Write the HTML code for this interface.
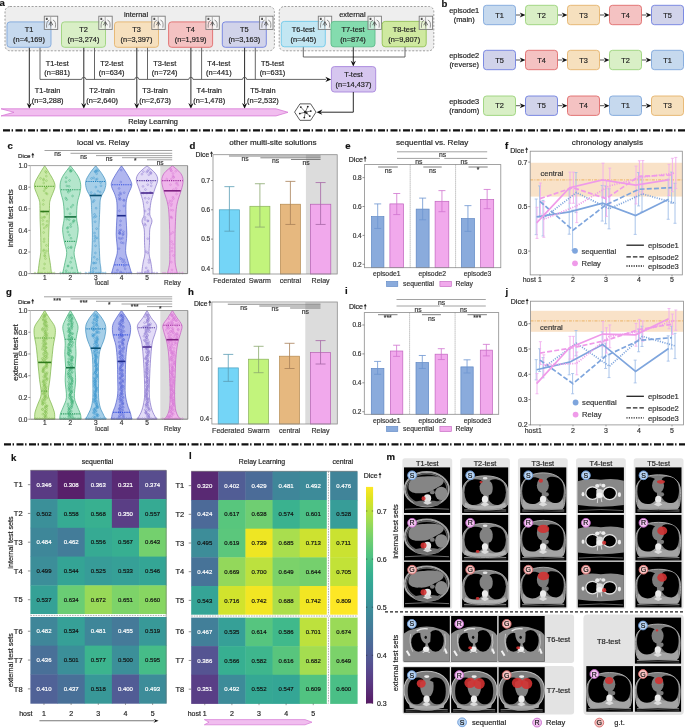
<!DOCTYPE html>
<html><head><meta charset="utf-8"><style>
html,body{margin:0;padding:0;background:#fff;width:685px;height:728px;overflow:hidden}
svg{display:block;will-change:transform}
text{font-family:"Liberation Sans", sans-serif;stroke:currentColor;stroke-width:0.18px;paint-order:stroke}
</style></head><body>
<svg width="685" height="728" viewBox="0 0 685 728" font-family='"Liberation Sans", sans-serif'>
<rect width="685" height="728" fill="#fff"/>
<text x="-0.6" y="6.1" font-size="9.6" font-weight="bold" fill="#111" color="#111">a</text>
<rect x="5.00" y="6.50" width="269.40" height="44.30" rx="5" fill="#eeeeee" stroke="#8a8a8a" stroke-width="0.8" stroke-dasharray="2,1.6"/>
<rect x="279.20" y="6.50" width="154.60" height="44.30" rx="5" fill="#eeeeee" stroke="#8a8a8a" stroke-width="0.8" stroke-dasharray="2,1.6"/>
<text x="136.00" y="17.06" font-size="7.4" text-anchor="middle" fill="#222" color="#222" font-weight="normal" >internal</text>
<text x="352.40" y="16.86" font-size="7.4" text-anchor="middle" fill="#222" color="#222" font-weight="normal" >external</text>
<line x1="29.30" y1="47.30" x2="29.30" y2="104.00" stroke="#111" stroke-width="0.9" />
<path d="M29.30,108.80 L26.70,103.00 L29.30,104.74 L31.90,103.00Z" fill="#111" stroke="none" stroke-width="0.8" />
<line x1="40.00" y1="47.30" x2="40.00" y2="79.40" stroke="#555" stroke-width="0.9" />
<text x="57.20" y="66.26" font-size="7.4" text-anchor="middle" fill="#222" color="#222" font-weight="normal" >T1-test</text>
<text x="57.20" y="75.36" font-size="7.4" text-anchor="middle" fill="#222" color="#222" font-weight="normal" >(n=881)</text>
<text x="47.60" y="93.46" font-size="7.4" text-anchor="middle" fill="#222" color="#222" font-weight="normal" >T1-train</text>
<text x="47.60" y="102.66" font-size="7.4" text-anchor="middle" fill="#222" color="#222" font-weight="normal" >(n=3,288)</text>
<line x1="83.80" y1="47.30" x2="83.80" y2="104.00" stroke="#111" stroke-width="0.9" />
<path d="M83.80,108.80 L81.20,103.00 L83.80,104.74 L86.40,103.00Z" fill="#111" stroke="none" stroke-width="0.8" />
<line x1="94.50" y1="47.30" x2="94.50" y2="79.40" stroke="#555" stroke-width="0.9" />
<text x="111.70" y="66.26" font-size="7.4" text-anchor="middle" fill="#222" color="#222" font-weight="normal" >T2-test</text>
<text x="111.70" y="75.36" font-size="7.4" text-anchor="middle" fill="#222" color="#222" font-weight="normal" >(n=634)</text>
<text x="102.10" y="93.46" font-size="7.4" text-anchor="middle" fill="#222" color="#222" font-weight="normal" >T2-train</text>
<text x="102.10" y="102.66" font-size="7.4" text-anchor="middle" fill="#222" color="#222" font-weight="normal" >(n=2,640)</text>
<line x1="136.80" y1="47.30" x2="136.80" y2="104.00" stroke="#111" stroke-width="0.9" />
<path d="M136.80,108.80 L134.20,103.00 L136.80,104.74 L139.40,103.00Z" fill="#111" stroke="none" stroke-width="0.8" />
<line x1="147.50" y1="47.30" x2="147.50" y2="79.40" stroke="#555" stroke-width="0.9" />
<text x="164.70" y="66.26" font-size="7.4" text-anchor="middle" fill="#222" color="#222" font-weight="normal" >T3-test</text>
<text x="164.70" y="75.36" font-size="7.4" text-anchor="middle" fill="#222" color="#222" font-weight="normal" >(n=724)</text>
<text x="155.10" y="93.46" font-size="7.4" text-anchor="middle" fill="#222" color="#222" font-weight="normal" >T3-train</text>
<text x="155.10" y="102.66" font-size="7.4" text-anchor="middle" fill="#222" color="#222" font-weight="normal" >(n=2,673)</text>
<line x1="190.90" y1="47.30" x2="190.90" y2="104.00" stroke="#111" stroke-width="0.9" />
<path d="M190.90,108.80 L188.30,103.00 L190.90,104.74 L193.50,103.00Z" fill="#111" stroke="none" stroke-width="0.8" />
<line x1="201.60" y1="47.30" x2="201.60" y2="79.40" stroke="#555" stroke-width="0.9" />
<text x="218.80" y="66.26" font-size="7.4" text-anchor="middle" fill="#222" color="#222" font-weight="normal" >T4-test</text>
<text x="218.80" y="75.36" font-size="7.4" text-anchor="middle" fill="#222" color="#222" font-weight="normal" >(n=441)</text>
<text x="209.20" y="93.46" font-size="7.4" text-anchor="middle" fill="#222" color="#222" font-weight="normal" >T4-train</text>
<text x="209.20" y="102.66" font-size="7.4" text-anchor="middle" fill="#222" color="#222" font-weight="normal" >(n=1,478)</text>
<line x1="244.60" y1="47.30" x2="244.60" y2="104.00" stroke="#111" stroke-width="0.9" />
<path d="M244.60,108.80 L242.00,103.00 L244.60,104.74 L247.20,103.00Z" fill="#111" stroke="none" stroke-width="0.8" />
<line x1="255.30" y1="47.30" x2="255.30" y2="79.40" stroke="#555" stroke-width="0.9" />
<text x="272.50" y="66.26" font-size="7.4" text-anchor="middle" fill="#222" color="#222" font-weight="normal" >T5-test</text>
<text x="272.50" y="75.36" font-size="7.4" text-anchor="middle" fill="#222" color="#222" font-weight="normal" >(n=631)</text>
<text x="262.90" y="93.46" font-size="7.4" text-anchor="middle" fill="#222" color="#222" font-weight="normal" >T5-train</text>
<text x="262.90" y="102.66" font-size="7.4" text-anchor="middle" fill="#222" color="#222" font-weight="normal" >(n=2,532)</text>
<path d="M40.00,79.4 L81.70,79.4 A2.1,2.1 0 0 1 85.90,79.4 L134.70,79.4 A2.1,2.1 0 0 1 138.90,79.4 L188.80,79.4 A2.1,2.1 0 0 1 193.00,79.4 L242.50,79.4 A2.1,2.1 0 0 1 246.70,79.4 L326,79.4" fill="none" stroke="#555" stroke-width="0.9" />
<path d="M331.20,79.40 L325.40,76.80 L327.14,79.40 L325.40,82.00Z" fill="#111" stroke="none" stroke-width="0.8" />
<rect x="7.00" y="21.90" width="44.00" height="25.40" rx="3" fill="#c6d9ee" stroke="#7fa7db" stroke-width="0.9" />
<text x="29.00" y="32.44" font-size="7.4" text-anchor="middle" fill="#222" color="#222" font-weight="normal" >T1</text>
<text x="29.00" y="42.09" font-size="7.4" text-anchor="middle" fill="#222" color="#222" font-weight="normal" >(n=4,169)</text>
<rect x="44.30" y="16.20" width="13.40" height="13.20" rx="0" fill="rgba(255,255,255,0.55)" stroke="#7a7a7a" stroke-width="0.9" />
<line x1="50.70" y1="16.80" x2="50.70" y2="28.80" stroke="#8a8a8a" stroke-width="0.7" />
<rect x="45.90" y="17.80" width="1.80" height="2.20" rx="0" fill="#555" stroke="none" stroke-width="0.8" />
<path d="M46.599999999999994,27.7 Q46.099999999999994,21.2 49.3,20.2 M55.3,27.7 Q56.5,21.2 52.9,20.0" fill="none" stroke="#666" stroke-width="0.7" />
<path d="M48.8,25.2 L50.9,21.7 L52.9,25.2 M50.9,21.7 L50.9,26.2" fill="none" stroke="#444" stroke-width="0.7" />
<rect x="61.50" y="21.90" width="44.00" height="25.40" rx="3" fill="#d9efc6" stroke="#9bd27a" stroke-width="0.9" />
<text x="83.50" y="32.44" font-size="7.4" text-anchor="middle" fill="#222" color="#222" font-weight="normal" >T2</text>
<text x="83.50" y="42.09" font-size="7.4" text-anchor="middle" fill="#222" color="#222" font-weight="normal" >(n=3,274)</text>
<rect x="98.80" y="16.20" width="13.40" height="13.20" rx="0" fill="rgba(255,255,255,0.55)" stroke="#7a7a7a" stroke-width="0.9" />
<line x1="105.20" y1="16.80" x2="105.20" y2="28.80" stroke="#8a8a8a" stroke-width="0.7" />
<rect x="100.40" y="17.80" width="1.80" height="2.20" rx="0" fill="#555" stroke="none" stroke-width="0.8" />
<path d="M101.1,27.7 Q100.6,21.2 103.8,20.2 M109.8,27.7 Q111.0,21.2 107.39999999999999,20.0" fill="none" stroke="#666" stroke-width="0.7" />
<path d="M103.3,25.2 L105.39999999999999,21.7 L107.39999999999999,25.2 M105.39999999999999,21.7 L105.39999999999999,26.2" fill="none" stroke="#444" stroke-width="0.7" />
<rect x="114.50" y="21.90" width="44.00" height="25.40" rx="3" fill="#f6e0be" stroke="#e5b36c" stroke-width="0.9" />
<text x="136.50" y="32.44" font-size="7.4" text-anchor="middle" fill="#222" color="#222" font-weight="normal" >T3</text>
<text x="136.50" y="42.09" font-size="7.4" text-anchor="middle" fill="#222" color="#222" font-weight="normal" >(n=3,397)</text>
<rect x="151.80" y="16.20" width="13.40" height="13.20" rx="0" fill="rgba(255,255,255,0.55)" stroke="#7a7a7a" stroke-width="0.9" />
<line x1="158.20" y1="16.80" x2="158.20" y2="28.80" stroke="#8a8a8a" stroke-width="0.7" />
<rect x="153.40" y="17.80" width="1.80" height="2.20" rx="0" fill="#555" stroke="none" stroke-width="0.8" />
<path d="M154.10000000000002,27.7 Q153.60000000000002,21.2 156.8,20.2 M162.8,27.7 Q164.0,21.2 160.4,20.0" fill="none" stroke="#666" stroke-width="0.7" />
<path d="M156.3,25.2 L158.4,21.7 L160.4,25.2 M158.4,21.7 L158.4,26.2" fill="none" stroke="#444" stroke-width="0.7" />
<rect x="168.60" y="21.90" width="44.00" height="25.40" rx="3" fill="#f4c2c2" stroke="#e06b6b" stroke-width="0.9" />
<text x="190.60" y="32.44" font-size="7.4" text-anchor="middle" fill="#222" color="#222" font-weight="normal" >T4</text>
<text x="190.60" y="42.09" font-size="7.4" text-anchor="middle" fill="#222" color="#222" font-weight="normal" >(n=1,919)</text>
<rect x="205.90" y="16.20" width="13.40" height="13.20" rx="0" fill="rgba(255,255,255,0.55)" stroke="#7a7a7a" stroke-width="0.9" />
<line x1="212.30" y1="16.80" x2="212.30" y2="28.80" stroke="#8a8a8a" stroke-width="0.7" />
<rect x="207.50" y="17.80" width="1.80" height="2.20" rx="0" fill="#555" stroke="none" stroke-width="0.8" />
<path d="M208.2,27.7 Q207.7,21.2 210.89999999999998,20.2 M216.89999999999998,27.7 Q218.09999999999997,21.2 214.49999999999997,20.0" fill="none" stroke="#666" stroke-width="0.7" />
<path d="M210.39999999999998,25.2 L212.49999999999997,21.7 L214.49999999999997,25.2 M212.49999999999997,21.7 L212.49999999999997,26.2" fill="none" stroke="#444" stroke-width="0.7" />
<rect x="222.30" y="21.90" width="44.00" height="25.40" rx="3" fill="#d1d3ea" stroke="#6f7fe0" stroke-width="0.9" />
<text x="244.30" y="32.44" font-size="7.4" text-anchor="middle" fill="#222" color="#222" font-weight="normal" >T5</text>
<text x="244.30" y="42.09" font-size="7.4" text-anchor="middle" fill="#222" color="#222" font-weight="normal" >(n=3,163)</text>
<rect x="259.60" y="16.20" width="13.40" height="13.20" rx="0" fill="rgba(255,255,255,0.55)" stroke="#7a7a7a" stroke-width="0.9" />
<line x1="266.00" y1="16.80" x2="266.00" y2="28.80" stroke="#8a8a8a" stroke-width="0.7" />
<rect x="261.20" y="17.80" width="1.80" height="2.20" rx="0" fill="#555" stroke="none" stroke-width="0.8" />
<path d="M261.90000000000003,27.7 Q261.40000000000003,21.2 264.6,20.2 M270.6,27.7 Q271.8,21.2 268.20000000000005,20.0" fill="none" stroke="#666" stroke-width="0.7" />
<path d="M264.1,25.2 L266.20000000000005,21.7 L268.20000000000005,25.2 M266.20000000000005,21.7 L266.20000000000005,26.2" fill="none" stroke="#444" stroke-width="0.7" />
<line x1="303.30" y1="46.40" x2="303.30" y2="57.00" stroke="#555" stroke-width="0.9" />
<line x1="405.00" y1="46.40" x2="405.00" y2="57.00" stroke="#555" stroke-width="0.9" />
<line x1="303.30" y1="57.00" x2="405.00" y2="57.00" stroke="#555" stroke-width="0.9" />
<line x1="353.30" y1="46.40" x2="353.30" y2="62.00" stroke="#111" stroke-width="0.9" />
<path d="M353.30,66.60 L350.70,60.80 L353.30,62.54 L355.90,60.80Z" fill="#111" stroke="none" stroke-width="0.8" />
<rect x="281.30" y="21.40" width="44.00" height="25.40" rx="3" fill="#c2e6f2" stroke="#6ec9ea" stroke-width="0.9" />
<text x="303.30" y="31.94" font-size="7.4" text-anchor="middle" fill="#222" color="#222" font-weight="normal" >T6-test</text>
<text x="303.30" y="41.59" font-size="7.4" text-anchor="middle" fill="#222" color="#222" font-weight="normal" >(n=445)</text>
<rect x="318.30" y="16.20" width="13.40" height="13.20" rx="0" fill="rgba(255,255,255,0.55)" stroke="#7a7a7a" stroke-width="0.9" />
<line x1="324.70" y1="16.80" x2="324.70" y2="28.80" stroke="#8a8a8a" stroke-width="0.7" />
<rect x="319.90" y="17.80" width="1.80" height="2.20" rx="0" fill="#555" stroke="none" stroke-width="0.8" />
<path d="M320.6,27.7 Q320.1,21.2 323.3,20.2 M329.3,27.7 Q330.5,21.2 326.90000000000003,20.0" fill="none" stroke="#666" stroke-width="0.7" />
<path d="M322.8,25.2 L324.90000000000003,21.7 L326.90000000000003,25.2 M324.90000000000003,21.7 L324.90000000000003,26.2" fill="none" stroke="#444" stroke-width="0.7" />
<rect x="331.00" y="21.40" width="44.00" height="25.40" rx="3" fill="#84dcae" stroke="#5dbb8b" stroke-width="0.9" />
<text x="353.00" y="31.94" font-size="7.4" text-anchor="middle" fill="#222" color="#222" font-weight="normal" >T7-test</text>
<text x="353.00" y="41.59" font-size="7.4" text-anchor="middle" fill="#222" color="#222" font-weight="normal" >(n=874)</text>
<rect x="368.00" y="16.20" width="13.40" height="13.20" rx="0" fill="rgba(255,255,255,0.55)" stroke="#7a7a7a" stroke-width="0.9" />
<line x1="374.40" y1="16.80" x2="374.40" y2="28.80" stroke="#8a8a8a" stroke-width="0.7" />
<rect x="369.60" y="17.80" width="1.80" height="2.20" rx="0" fill="#555" stroke="none" stroke-width="0.8" />
<path d="M370.3,27.7 Q369.8,21.2 373,20.2 M379,27.7 Q380.2,21.2 376.6,20.0" fill="none" stroke="#666" stroke-width="0.7" />
<path d="M372.5,25.2 L374.6,21.7 L376.6,25.2 M374.6,21.7 L374.6,26.2" fill="none" stroke="#444" stroke-width="0.7" />
<rect x="382.20" y="21.40" width="44.00" height="25.40" rx="3" fill="#cfe9a0" stroke="#92c254" stroke-width="0.9" />
<text x="404.20" y="31.94" font-size="7.4" text-anchor="middle" fill="#222" color="#222" font-weight="normal" >T8-test</text>
<text x="404.20" y="41.59" font-size="7.4" text-anchor="middle" fill="#222" color="#222" font-weight="normal" >(n=9,807)</text>
<rect x="419.20" y="16.20" width="13.40" height="13.20" rx="0" fill="rgba(255,255,255,0.55)" stroke="#7a7a7a" stroke-width="0.9" />
<line x1="425.60" y1="16.80" x2="425.60" y2="28.80" stroke="#8a8a8a" stroke-width="0.7" />
<rect x="420.80" y="17.80" width="1.80" height="2.20" rx="0" fill="#555" stroke="none" stroke-width="0.8" />
<path d="M421.5,27.7 Q421.0,21.2 424.2,20.2 M430.2,27.7 Q431.4,21.2 427.8,20.0" fill="none" stroke="#666" stroke-width="0.7" />
<path d="M423.7,25.2 L425.8,21.7 L427.8,25.2 M425.8,21.7 L425.8,26.2" fill="none" stroke="#444" stroke-width="0.7" />
<rect x="331.40" y="66.60" width="44.30" height="25.40" rx="3" fill="#d6c6ef" stroke="#a886dc" stroke-width="0.9" />
<text x="353.55" y="77.14" font-size="7.4" text-anchor="middle" fill="#222" color="#222" font-weight="normal" >T-test</text>
<text x="353.55" y="86.79" font-size="7.4" text-anchor="middle" fill="#222" color="#222" font-weight="normal" >(n=14,437)</text>
<path d="M353.3,92 L353.3,112.2 L321,112.2" fill="none" stroke="#111" stroke-width="0.9" />
<path d="M316.50,112.20 L322.30,109.60 L320.56,112.20 L322.30,114.80Z" fill="#111" stroke="none" stroke-width="0.8" />
<path d="M1,108.8 L276,108.8 L288,112.3 L276,115.9 L1,115.9 L14,112.3 Z" fill="#f1bdef" stroke="#d77ad6" stroke-width="0.8" />
<text x="153.00" y="123.56" font-size="7.4" text-anchor="middle" fill="#222" color="#222" font-weight="normal" >Relay Learning</text>
<path d="M316.00,112.10 L310.65,120.33 L299.95,120.33 L294.60,112.10 L299.95,103.87 L310.65,103.87Z" fill="#fff" stroke="#333" stroke-width="0.8" />
<line x1="305.30" y1="112.10" x2="300.80" y2="107.10" stroke="#222" stroke-width="0.6" />
<circle cx="300.80" cy="107.10" r="0.9" fill="#222"/>
<line x1="305.30" y1="112.10" x2="307.80" y2="106.60" stroke="#222" stroke-width="0.6" />
<circle cx="307.80" cy="106.60" r="0.9" fill="#222"/>
<line x1="305.30" y1="112.10" x2="310.80" y2="111.10" stroke="#222" stroke-width="0.6" />
<circle cx="310.80" cy="111.10" r="0.9" fill="#222"/>
<line x1="305.30" y1="112.10" x2="309.80" y2="116.10" stroke="#222" stroke-width="0.6" />
<circle cx="309.80" cy="116.10" r="0.9" fill="#222"/>
<line x1="305.30" y1="112.10" x2="304.30" y2="117.60" stroke="#222" stroke-width="0.6" />
<circle cx="304.30" cy="117.60" r="0.9" fill="#222"/>
<line x1="305.30" y1="112.10" x2="299.80" y2="113.60" stroke="#222" stroke-width="0.6" />
<circle cx="299.80" cy="113.60" r="0.9" fill="#222"/>
<line x1="305.30" y1="112.10" x2="306.80" y2="113.10" stroke="#222" stroke-width="0.6" />
<circle cx="306.80" cy="113.10" r="0.9" fill="#222"/>
<circle cx="305.30" cy="112.10" r="1.3" fill="#222"/>
<text x="441.5" y="7.2" font-size="9.6" font-weight="bold" fill="#111" color="#111">b</text>
<text x="464.20" y="12.96" font-size="7.4" text-anchor="middle" fill="#222" color="#222" font-weight="normal" >episode1</text>
<text x="464.20" y="21.96" font-size="7.4" text-anchor="middle" fill="#222" color="#222" font-weight="normal" >(main)</text>
<line x1="515.50" y1="15.00" x2="520.50" y2="15.00" stroke="#555" stroke-width="1.0" />
<path d="M525.50,15.00 L519.70,12.50 L521.44,15.00 L519.70,17.50Z" fill="#111" stroke="none" stroke-width="0.8" />
<rect x="483.50" y="5.30" width="32.00" height="19.40" rx="3" fill="#c6d9ee" stroke="#7fa7db" stroke-width="0.9" />
<text x="499.50" y="17.66" font-size="7.4" text-anchor="middle" fill="#222" color="#222" font-weight="normal" >T1</text>
<line x1="557.50" y1="15.00" x2="562.50" y2="15.00" stroke="#555" stroke-width="1.0" />
<path d="M567.50,15.00 L561.70,12.50 L563.44,15.00 L561.70,17.50Z" fill="#111" stroke="none" stroke-width="0.8" />
<rect x="525.50" y="5.30" width="32.00" height="19.40" rx="3" fill="#d9efc6" stroke="#9bd27a" stroke-width="0.9" />
<text x="541.50" y="17.66" font-size="7.4" text-anchor="middle" fill="#222" color="#222" font-weight="normal" >T2</text>
<line x1="599.50" y1="15.00" x2="604.50" y2="15.00" stroke="#555" stroke-width="1.0" />
<path d="M609.50,15.00 L603.70,12.50 L605.44,15.00 L603.70,17.50Z" fill="#111" stroke="none" stroke-width="0.8" />
<rect x="567.50" y="5.30" width="32.00" height="19.40" rx="3" fill="#f6e0be" stroke="#e5b36c" stroke-width="0.9" />
<text x="583.50" y="17.66" font-size="7.4" text-anchor="middle" fill="#222" color="#222" font-weight="normal" >T3</text>
<line x1="641.50" y1="15.00" x2="646.50" y2="15.00" stroke="#555" stroke-width="1.0" />
<path d="M651.50,15.00 L645.70,12.50 L647.44,15.00 L645.70,17.50Z" fill="#111" stroke="none" stroke-width="0.8" />
<rect x="609.50" y="5.30" width="32.00" height="19.40" rx="3" fill="#f4c2c2" stroke="#e06b6b" stroke-width="0.9" />
<text x="625.50" y="17.66" font-size="7.4" text-anchor="middle" fill="#222" color="#222" font-weight="normal" >T4</text>
<rect x="651.50" y="5.30" width="32.00" height="19.40" rx="3" fill="#d1d3ea" stroke="#6f7fe0" stroke-width="0.9" />
<text x="667.50" y="17.66" font-size="7.4" text-anchor="middle" fill="#222" color="#222" font-weight="normal" >T5</text>
<text x="464.20" y="57.96" font-size="7.4" text-anchor="middle" fill="#222" color="#222" font-weight="normal" >episode2</text>
<text x="464.20" y="66.96" font-size="7.4" text-anchor="middle" fill="#222" color="#222" font-weight="normal" >(reverse)</text>
<line x1="515.50" y1="60.00" x2="520.50" y2="60.00" stroke="#555" stroke-width="1.0" />
<path d="M525.50,60.00 L519.70,57.50 L521.44,60.00 L519.70,62.50Z" fill="#111" stroke="none" stroke-width="0.8" />
<rect x="483.50" y="50.30" width="32.00" height="19.40" rx="3" fill="#d1d3ea" stroke="#6f7fe0" stroke-width="0.9" />
<text x="499.50" y="62.66" font-size="7.4" text-anchor="middle" fill="#222" color="#222" font-weight="normal" >T5</text>
<line x1="557.50" y1="60.00" x2="562.50" y2="60.00" stroke="#555" stroke-width="1.0" />
<path d="M567.50,60.00 L561.70,57.50 L563.44,60.00 L561.70,62.50Z" fill="#111" stroke="none" stroke-width="0.8" />
<rect x="525.50" y="50.30" width="32.00" height="19.40" rx="3" fill="#f4c2c2" stroke="#e06b6b" stroke-width="0.9" />
<text x="541.50" y="62.66" font-size="7.4" text-anchor="middle" fill="#222" color="#222" font-weight="normal" >T4</text>
<line x1="599.50" y1="60.00" x2="604.50" y2="60.00" stroke="#555" stroke-width="1.0" />
<path d="M609.50,60.00 L603.70,57.50 L605.44,60.00 L603.70,62.50Z" fill="#111" stroke="none" stroke-width="0.8" />
<rect x="567.50" y="50.30" width="32.00" height="19.40" rx="3" fill="#f6e0be" stroke="#e5b36c" stroke-width="0.9" />
<text x="583.50" y="62.66" font-size="7.4" text-anchor="middle" fill="#222" color="#222" font-weight="normal" >T3</text>
<line x1="641.50" y1="60.00" x2="646.50" y2="60.00" stroke="#555" stroke-width="1.0" />
<path d="M651.50,60.00 L645.70,57.50 L647.44,60.00 L645.70,62.50Z" fill="#111" stroke="none" stroke-width="0.8" />
<rect x="609.50" y="50.30" width="32.00" height="19.40" rx="3" fill="#d9efc6" stroke="#9bd27a" stroke-width="0.9" />
<text x="625.50" y="62.66" font-size="7.4" text-anchor="middle" fill="#222" color="#222" font-weight="normal" >T2</text>
<rect x="651.50" y="50.30" width="32.00" height="19.40" rx="3" fill="#c6d9ee" stroke="#7fa7db" stroke-width="0.9" />
<text x="667.50" y="62.66" font-size="7.4" text-anchor="middle" fill="#222" color="#222" font-weight="normal" >T1</text>
<text x="464.20" y="103.66" font-size="7.4" text-anchor="middle" fill="#222" color="#222" font-weight="normal" >episode3</text>
<text x="464.20" y="112.66" font-size="7.4" text-anchor="middle" fill="#222" color="#222" font-weight="normal" >(random)</text>
<line x1="515.50" y1="105.70" x2="520.50" y2="105.70" stroke="#555" stroke-width="1.0" />
<path d="M525.50,105.70 L519.70,103.20 L521.44,105.70 L519.70,108.20Z" fill="#111" stroke="none" stroke-width="0.8" />
<rect x="483.50" y="96.00" width="32.00" height="19.40" rx="3" fill="#d9efc6" stroke="#9bd27a" stroke-width="0.9" />
<text x="499.50" y="108.36" font-size="7.4" text-anchor="middle" fill="#222" color="#222" font-weight="normal" >T2</text>
<line x1="557.50" y1="105.70" x2="562.50" y2="105.70" stroke="#555" stroke-width="1.0" />
<path d="M567.50,105.70 L561.70,103.20 L563.44,105.70 L561.70,108.20Z" fill="#111" stroke="none" stroke-width="0.8" />
<rect x="525.50" y="96.00" width="32.00" height="19.40" rx="3" fill="#d1d3ea" stroke="#6f7fe0" stroke-width="0.9" />
<text x="541.50" y="108.36" font-size="7.4" text-anchor="middle" fill="#222" color="#222" font-weight="normal" >T5</text>
<line x1="599.50" y1="105.70" x2="604.50" y2="105.70" stroke="#555" stroke-width="1.0" />
<path d="M609.50,105.70 L603.70,103.20 L605.44,105.70 L603.70,108.20Z" fill="#111" stroke="none" stroke-width="0.8" />
<rect x="567.50" y="96.00" width="32.00" height="19.40" rx="3" fill="#f4c2c2" stroke="#e06b6b" stroke-width="0.9" />
<text x="583.50" y="108.36" font-size="7.4" text-anchor="middle" fill="#222" color="#222" font-weight="normal" >T4</text>
<line x1="641.50" y1="105.70" x2="646.50" y2="105.70" stroke="#555" stroke-width="1.0" />
<path d="M651.50,105.70 L645.70,103.20 L647.44,105.70 L645.70,108.20Z" fill="#111" stroke="none" stroke-width="0.8" />
<rect x="609.50" y="96.00" width="32.00" height="19.40" rx="3" fill="#c6d9ee" stroke="#7fa7db" stroke-width="0.9" />
<text x="625.50" y="108.36" font-size="7.4" text-anchor="middle" fill="#222" color="#222" font-weight="normal" >T1</text>
<rect x="651.50" y="96.00" width="32.00" height="19.40" rx="3" fill="#f6e0be" stroke="#e5b36c" stroke-width="0.9" />
<text x="667.50" y="108.36" font-size="7.4" text-anchor="middle" fill="#222" color="#222" font-weight="normal" >T3</text>
<line x1="3.00" y1="130.40" x2="685.00" y2="130.40" stroke="#111" stroke-width="2.2" stroke-dasharray="7,1.6,1.4,2.5"/>
<line x1="4.00" y1="444.30" x2="685.00" y2="444.30" stroke="#111" stroke-width="2.2" stroke-dasharray="7,1.6,1.4,2.5"/>
<text x="7.5" y="148.5" font-size="9.6" font-weight="bold" fill="#111" color="#111">c</text>
<text x="103.10" y="145.32" font-size="8.1" text-anchor="middle" fill="#222" color="#222" font-weight="normal" >local vs. Relay</text>
<text x="18.10" y="157.73" font-size="6.2" text-anchor="start" fill="#222" color="#222" font-weight="normal" >Dice</text>
<line x1="32.80" y1="157.93" x2="32.80" y2="154.87" stroke="#222" stroke-width="0.8" />
<path d="M31.30,155.27 L32.80,152.77 L34.30,155.27Z" fill="#222" stroke="none" stroke-width="0.8" />
<rect x="160.30" y="165.60" width="27.30" height="108.00" rx="0" fill="#dcdcdc" stroke="none" stroke-width="0.8" />
<path d="M44.70,165.70 C45.18,166.45 46.70,168.75 47.60,170.20 C48.50,171.65 49.28,173.02 50.10,174.40 C50.92,175.78 51.78,177.13 52.50,178.50 C53.22,179.87 53.98,181.37 54.40,182.60 C54.82,183.83 55.00,184.80 55.00,185.90 C55.00,187.00 54.77,187.97 54.40,189.20 C54.03,190.43 53.35,191.93 52.80,193.30 C52.25,194.67 51.60,196.02 51.10,197.40 C50.60,198.78 50.07,200.22 49.80,201.60 C49.53,202.98 49.58,202.68 49.50,205.70 C49.42,208.72 49.42,215.32 49.30,219.70 C49.18,224.08 48.92,228.20 48.80,232.00 C48.68,235.80 48.63,239.10 48.60,242.50 C48.57,245.90 48.35,249.10 48.60,252.40 C48.85,255.70 49.62,258.78 50.10,262.30 C50.58,265.82 51.27,271.63 51.50,273.50 L37.90,273.50 C38.13,271.63 38.82,265.82 39.30,262.30 C39.78,258.78 40.55,255.70 40.80,252.40 C41.05,249.10 40.83,245.90 40.80,242.50 C40.77,239.10 40.72,235.80 40.60,232.00 C40.48,228.20 40.22,224.08 40.10,219.70 C39.98,215.32 39.98,208.72 39.90,205.70 C39.82,202.68 39.87,202.98 39.60,201.60 C39.33,200.22 38.80,198.78 38.30,197.40 C37.80,196.02 37.15,194.67 36.60,193.30 C36.05,191.93 35.37,190.43 35.00,189.20 C34.63,187.97 34.40,187.00 34.40,185.90 C34.40,184.80 34.58,183.83 35.00,182.60 C35.42,181.37 36.18,179.87 36.90,178.50 C37.62,177.13 38.48,175.78 39.30,174.40 C40.12,173.02 40.90,171.65 41.80,170.20 C42.70,168.75 44.22,166.45 44.70,165.70Z" fill="#cbeaa8" stroke="#78b246" stroke-width="0.7" />
<circle cx="43.23" cy="211.78" r="0.9" fill="none" stroke="#86c154" stroke-width="0.5" opacity="0.9"/>
<circle cx="47.17" cy="221.28" r="0.9" fill="none" stroke="#86c154" stroke-width="0.5" opacity="0.9"/>
<circle cx="44.01" cy="249.84" r="0.9" fill="none" stroke="#86c154" stroke-width="0.5" opacity="0.9"/>
<circle cx="43.66" cy="232.51" r="0.9" fill="none" stroke="#86c154" stroke-width="0.5" opacity="0.9"/>
<circle cx="43.92" cy="217.18" r="0.9" fill="none" stroke="#86c154" stroke-width="0.5" opacity="0.9"/>
<circle cx="47.05" cy="225.20" r="0.9" fill="none" stroke="#86c154" stroke-width="0.5" opacity="0.9"/>
<circle cx="45.48" cy="258.62" r="0.9" fill="none" stroke="#86c154" stroke-width="0.5" opacity="0.9"/>
<circle cx="46.15" cy="187.72" r="0.9" fill="none" stroke="#86c154" stroke-width="0.5" opacity="0.9"/>
<circle cx="46.36" cy="176.13" r="0.9" fill="none" stroke="#86c154" stroke-width="0.5" opacity="0.9"/>
<circle cx="43.61" cy="179.13" r="0.9" fill="none" stroke="#86c154" stroke-width="0.5" opacity="0.9"/>
<circle cx="44.26" cy="228.03" r="0.9" fill="none" stroke="#86c154" stroke-width="0.5" opacity="0.9"/>
<circle cx="46.51" cy="187.55" r="0.9" fill="none" stroke="#86c154" stroke-width="0.5" opacity="0.9"/>
<circle cx="41.93" cy="217.64" r="0.9" fill="none" stroke="#86c154" stroke-width="0.5" opacity="0.9"/>
<circle cx="43.07" cy="224.35" r="0.9" fill="none" stroke="#86c154" stroke-width="0.5" opacity="0.9"/>
<circle cx="43.92" cy="241.61" r="0.9" fill="none" stroke="#86c154" stroke-width="0.5" opacity="0.9"/>
<circle cx="43.48" cy="250.84" r="0.9" fill="none" stroke="#86c154" stroke-width="0.5" opacity="0.9"/>
<circle cx="46.04" cy="193.17" r="0.9" fill="none" stroke="#86c154" stroke-width="0.5" opacity="0.9"/>
<circle cx="43.46" cy="179.98" r="0.9" fill="none" stroke="#86c154" stroke-width="0.5" opacity="0.9"/>
<circle cx="46.46" cy="250.97" r="0.9" fill="none" stroke="#86c154" stroke-width="0.5" opacity="0.9"/>
<circle cx="45.03" cy="253.21" r="0.9" fill="none" stroke="#86c154" stroke-width="0.5" opacity="0.9"/>
<circle cx="43.70" cy="183.04" r="0.9" fill="none" stroke="#86c154" stroke-width="0.5" opacity="0.9"/>
<circle cx="44.23" cy="239.03" r="0.9" fill="none" stroke="#86c154" stroke-width="0.5" opacity="0.9"/>
<circle cx="45.59" cy="171.51" r="0.9" fill="none" stroke="#86c154" stroke-width="0.5" opacity="0.9"/>
<circle cx="44.10" cy="268.42" r="0.9" fill="none" stroke="#86c154" stroke-width="0.5" opacity="0.9"/>
<circle cx="46.42" cy="180.68" r="0.9" fill="none" stroke="#86c154" stroke-width="0.5" opacity="0.9"/>
<circle cx="40.51" cy="178.34" r="0.9" fill="none" stroke="#86c154" stroke-width="0.5" opacity="0.9"/>
<circle cx="44.11" cy="190.84" r="0.9" fill="none" stroke="#86c154" stroke-width="0.5" opacity="0.9"/>
<circle cx="43.29" cy="204.41" r="0.9" fill="none" stroke="#86c154" stroke-width="0.5" opacity="0.9"/>
<circle cx="42.82" cy="220.48" r="0.9" fill="none" stroke="#86c154" stroke-width="0.5" opacity="0.9"/>
<circle cx="45.02" cy="188.59" r="0.9" fill="none" stroke="#86c154" stroke-width="0.5" opacity="0.9"/>
<circle cx="44.61" cy="263.96" r="0.9" fill="none" stroke="#86c154" stroke-width="0.5" opacity="0.9"/>
<circle cx="45.03" cy="256.30" r="0.9" fill="none" stroke="#86c154" stroke-width="0.5" opacity="0.9"/>
<circle cx="47.10" cy="193.97" r="0.9" fill="none" stroke="#86c154" stroke-width="0.5" opacity="0.9"/>
<circle cx="46.86" cy="214.05" r="0.9" fill="none" stroke="#86c154" stroke-width="0.5" opacity="0.9"/>
<circle cx="44.67" cy="217.13" r="0.9" fill="none" stroke="#86c154" stroke-width="0.5" opacity="0.9"/>
<circle cx="43.46" cy="200.34" r="0.9" fill="none" stroke="#86c154" stroke-width="0.5" opacity="0.9"/>
<circle cx="44.53" cy="255.49" r="0.9" fill="none" stroke="#86c154" stroke-width="0.5" opacity="0.9"/>
<circle cx="46.30" cy="226.45" r="0.9" fill="none" stroke="#86c154" stroke-width="0.5" opacity="0.9"/>
<circle cx="46.46" cy="245.42" r="0.9" fill="none" stroke="#86c154" stroke-width="0.5" opacity="0.9"/>
<circle cx="46.30" cy="172.49" r="0.9" fill="none" stroke="#86c154" stroke-width="0.5" opacity="0.9"/>
<circle cx="34.95" cy="273.00" r="0.8" fill="none" stroke="#86c154" stroke-width="0.5"/>
<circle cx="38.00" cy="273.00" r="0.8" fill="none" stroke="#86c154" stroke-width="0.5"/>
<circle cx="40.11" cy="273.00" r="0.8" fill="none" stroke="#86c154" stroke-width="0.5"/>
<circle cx="42.07" cy="273.00" r="0.8" fill="none" stroke="#86c154" stroke-width="0.5"/>
<circle cx="44.98" cy="273.00" r="0.8" fill="none" stroke="#86c154" stroke-width="0.5"/>
<circle cx="47.59" cy="273.00" r="0.8" fill="none" stroke="#86c154" stroke-width="0.5"/>
<circle cx="49.52" cy="273.00" r="0.8" fill="none" stroke="#86c154" stroke-width="0.5"/>
<circle cx="52.14" cy="273.00" r="0.8" fill="none" stroke="#86c154" stroke-width="0.5"/>
<circle cx="54.25" cy="273.00" r="0.8" fill="none" stroke="#86c154" stroke-width="0.5"/>
<line x1="34.99" y1="186.40" x2="54.41" y2="186.40" stroke="#58a536" stroke-width="1.1" stroke-dasharray="1.2,1.0"/>
<line x1="40.28" y1="211.50" x2="49.12" y2="211.50" stroke="#2f7a1b" stroke-width="1.6" />
<path d="M70.40,165.80 C71.70,167.58 76.48,173.33 78.20,176.50 C79.92,179.67 80.42,182.05 80.70,184.80 C80.98,187.55 80.45,189.97 79.90,193.00 C79.35,196.03 77.95,198.87 77.40,203.00 C76.85,207.13 76.47,213.42 76.60,217.80 C76.73,222.18 78.20,225.45 78.20,229.30 C78.20,233.15 77.28,237.05 76.60,240.90 C75.92,244.75 74.23,248.83 74.10,252.40 C73.97,255.97 75.12,258.78 75.80,262.30 C76.48,265.82 77.80,271.63 78.20,273.50 L62.60,273.50 C63.00,271.63 64.32,265.82 65.00,262.30 C65.68,258.78 66.83,255.97 66.70,252.40 C66.57,248.83 64.88,244.75 64.20,240.90 C63.52,237.05 62.60,233.15 62.60,229.30 C62.60,225.45 64.07,222.18 64.20,217.80 C64.33,213.42 63.95,207.13 63.40,203.00 C62.85,198.87 61.45,196.03 60.90,193.00 C60.35,189.97 59.82,187.55 60.10,184.80 C60.38,182.05 60.88,179.67 62.60,176.50 C64.32,173.33 69.10,167.58 70.40,165.80Z" fill="#b4e6cc" stroke="#3fae74" stroke-width="0.7" />
<circle cx="65.99" cy="181.87" r="0.9" fill="none" stroke="#3fb077" stroke-width="0.5" opacity="0.9"/>
<circle cx="71.10" cy="247.77" r="0.9" fill="none" stroke="#3fb077" stroke-width="0.5" opacity="0.9"/>
<circle cx="69.19" cy="219.67" r="0.9" fill="none" stroke="#3fb077" stroke-width="0.5" opacity="0.9"/>
<circle cx="66.20" cy="177.63" r="0.9" fill="none" stroke="#3fb077" stroke-width="0.5" opacity="0.9"/>
<circle cx="68.46" cy="247.61" r="0.9" fill="none" stroke="#3fb077" stroke-width="0.5" opacity="0.9"/>
<circle cx="70.58" cy="262.18" r="0.9" fill="none" stroke="#3fb077" stroke-width="0.5" opacity="0.9"/>
<circle cx="67.92" cy="266.13" r="0.9" fill="none" stroke="#3fb077" stroke-width="0.5" opacity="0.9"/>
<circle cx="67.74" cy="190.48" r="0.9" fill="none" stroke="#3fb077" stroke-width="0.5" opacity="0.9"/>
<circle cx="71.33" cy="170.84" r="0.9" fill="none" stroke="#3fb077" stroke-width="0.5" opacity="0.9"/>
<circle cx="70.05" cy="213.65" r="0.9" fill="none" stroke="#3fb077" stroke-width="0.5" opacity="0.9"/>
<circle cx="68.35" cy="192.20" r="0.9" fill="none" stroke="#3fb077" stroke-width="0.5" opacity="0.9"/>
<circle cx="70.09" cy="190.71" r="0.9" fill="none" stroke="#3fb077" stroke-width="0.5" opacity="0.9"/>
<circle cx="65.70" cy="198.14" r="0.9" fill="none" stroke="#3fb077" stroke-width="0.5" opacity="0.9"/>
<circle cx="69.45" cy="235.05" r="0.9" fill="none" stroke="#3fb077" stroke-width="0.5" opacity="0.9"/>
<circle cx="69.55" cy="180.46" r="0.9" fill="none" stroke="#3fb077" stroke-width="0.5" opacity="0.9"/>
<circle cx="68.09" cy="265.85" r="0.9" fill="none" stroke="#3fb077" stroke-width="0.5" opacity="0.9"/>
<circle cx="66.71" cy="199.56" r="0.9" fill="none" stroke="#3fb077" stroke-width="0.5" opacity="0.9"/>
<circle cx="73.57" cy="220.70" r="0.9" fill="none" stroke="#3fb077" stroke-width="0.5" opacity="0.9"/>
<circle cx="70.45" cy="171.41" r="0.9" fill="none" stroke="#3fb077" stroke-width="0.5" opacity="0.9"/>
<circle cx="66.84" cy="185.91" r="0.9" fill="none" stroke="#3fb077" stroke-width="0.5" opacity="0.9"/>
<circle cx="71.26" cy="207.03" r="0.9" fill="none" stroke="#3fb077" stroke-width="0.5" opacity="0.9"/>
<circle cx="73.00" cy="222.34" r="0.9" fill="none" stroke="#3fb077" stroke-width="0.5" opacity="0.9"/>
<circle cx="66.73" cy="219.07" r="0.9" fill="none" stroke="#3fb077" stroke-width="0.5" opacity="0.9"/>
<circle cx="66.23" cy="270.74" r="0.9" fill="none" stroke="#3fb077" stroke-width="0.5" opacity="0.9"/>
<circle cx="67.57" cy="209.01" r="0.9" fill="none" stroke="#3fb077" stroke-width="0.5" opacity="0.9"/>
<circle cx="71.62" cy="257.87" r="0.9" fill="none" stroke="#3fb077" stroke-width="0.5" opacity="0.9"/>
<circle cx="67.28" cy="228.30" r="0.9" fill="none" stroke="#3fb077" stroke-width="0.5" opacity="0.9"/>
<circle cx="72.55" cy="195.99" r="0.9" fill="none" stroke="#3fb077" stroke-width="0.5" opacity="0.9"/>
<circle cx="71.82" cy="268.01" r="0.9" fill="none" stroke="#3fb077" stroke-width="0.5" opacity="0.9"/>
<circle cx="70.80" cy="226.57" r="0.9" fill="none" stroke="#3fb077" stroke-width="0.5" opacity="0.9"/>
<circle cx="67.87" cy="227.48" r="0.9" fill="none" stroke="#3fb077" stroke-width="0.5" opacity="0.9"/>
<circle cx="74.16" cy="220.64" r="0.9" fill="none" stroke="#3fb077" stroke-width="0.5" opacity="0.9"/>
<circle cx="72.86" cy="205.16" r="0.9" fill="none" stroke="#3fb077" stroke-width="0.5" opacity="0.9"/>
<circle cx="70.54" cy="224.18" r="0.9" fill="none" stroke="#3fb077" stroke-width="0.5" opacity="0.9"/>
<circle cx="67.93" cy="231.92" r="0.9" fill="none" stroke="#3fb077" stroke-width="0.5" opacity="0.9"/>
<circle cx="71.04" cy="170.73" r="0.9" fill="none" stroke="#3fb077" stroke-width="0.5" opacity="0.9"/>
<circle cx="69.12" cy="186.35" r="0.9" fill="none" stroke="#3fb077" stroke-width="0.5" opacity="0.9"/>
<circle cx="71.00" cy="238.27" r="0.9" fill="none" stroke="#3fb077" stroke-width="0.5" opacity="0.9"/>
<circle cx="69.81" cy="169.55" r="0.9" fill="none" stroke="#3fb077" stroke-width="0.5" opacity="0.9"/>
<circle cx="71.17" cy="246.91" r="0.9" fill="none" stroke="#3fb077" stroke-width="0.5" opacity="0.9"/>
<circle cx="60.55" cy="273.00" r="0.8" fill="none" stroke="#3fb077" stroke-width="0.5"/>
<circle cx="63.14" cy="273.00" r="0.8" fill="none" stroke="#3fb077" stroke-width="0.5"/>
<circle cx="66.07" cy="273.00" r="0.8" fill="none" stroke="#3fb077" stroke-width="0.5"/>
<circle cx="68.40" cy="273.00" r="0.8" fill="none" stroke="#3fb077" stroke-width="0.5"/>
<circle cx="70.35" cy="273.00" r="0.8" fill="none" stroke="#3fb077" stroke-width="0.5"/>
<circle cx="73.19" cy="273.00" r="0.8" fill="none" stroke="#3fb077" stroke-width="0.5"/>
<circle cx="75.15" cy="273.00" r="0.8" fill="none" stroke="#3fb077" stroke-width="0.5"/>
<circle cx="78.05" cy="273.00" r="0.8" fill="none" stroke="#3fb077" stroke-width="0.5"/>
<circle cx="80.30" cy="273.00" r="0.8" fill="none" stroke="#3fb077" stroke-width="0.5"/>
<line x1="61.08" y1="189.70" x2="79.72" y2="189.70" stroke="#249a5c" stroke-width="1.1" stroke-dasharray="1.2,1.0"/>
<line x1="64.81" y1="241.40" x2="75.99" y2="241.40" stroke="#249a5c" stroke-width="1.1" stroke-dasharray="1.2,1.0"/>
<line x1="64.45" y1="216.90" x2="76.35" y2="216.90" stroke="#16703e" stroke-width="1.6" />
<path d="M95.70,165.80 C96.67,167.03 99.83,170.58 101.50,173.20 C103.17,175.82 105.17,178.75 105.70,181.50 C106.23,184.25 105.53,186.95 104.70,189.70 C103.87,192.45 101.52,194.70 100.70,198.00 C99.88,201.30 100.08,203.50 99.80,209.50 C99.52,215.50 99.00,225.75 99.00,234.00 C99.00,242.25 99.52,253.50 99.80,259.00 C100.08,264.50 100.47,264.58 100.70,267.00 C100.93,269.42 101.12,272.42 101.20,273.50 L90.20,273.50 C90.28,272.42 90.47,269.42 90.70,267.00 C90.93,264.58 91.32,264.50 91.60,259.00 C91.88,253.50 92.40,242.25 92.40,234.00 C92.40,225.75 91.88,215.50 91.60,209.50 C91.32,203.50 91.52,201.30 90.70,198.00 C89.88,194.70 87.53,192.45 86.70,189.70 C85.87,186.95 85.17,184.25 85.70,181.50 C86.23,178.75 88.23,175.82 89.90,173.20 C91.57,170.58 94.73,167.03 95.70,165.80Z" fill="#a6cfe8" stroke="#3e8fc0" stroke-width="0.7" />
<circle cx="96.60" cy="173.72" r="0.9" fill="none" stroke="#3d97cf" stroke-width="0.5" opacity="0.9"/>
<circle cx="96.93" cy="237.92" r="0.9" fill="none" stroke="#3d97cf" stroke-width="0.5" opacity="0.9"/>
<circle cx="96.57" cy="228.65" r="0.9" fill="none" stroke="#3d97cf" stroke-width="0.5" opacity="0.9"/>
<circle cx="94.55" cy="214.38" r="0.9" fill="none" stroke="#3d97cf" stroke-width="0.5" opacity="0.9"/>
<circle cx="95.28" cy="171.56" r="0.9" fill="none" stroke="#3d97cf" stroke-width="0.5" opacity="0.9"/>
<circle cx="95.82" cy="216.47" r="0.9" fill="none" stroke="#3d97cf" stroke-width="0.5" opacity="0.9"/>
<circle cx="91.16" cy="192.52" r="0.9" fill="none" stroke="#3d97cf" stroke-width="0.5" opacity="0.9"/>
<circle cx="93.08" cy="201.84" r="0.9" fill="none" stroke="#3d97cf" stroke-width="0.5" opacity="0.9"/>
<circle cx="95.32" cy="238.42" r="0.9" fill="none" stroke="#3d97cf" stroke-width="0.5" opacity="0.9"/>
<circle cx="93.31" cy="268.51" r="0.9" fill="none" stroke="#3d97cf" stroke-width="0.5" opacity="0.9"/>
<circle cx="97.95" cy="191.02" r="0.9" fill="none" stroke="#3d97cf" stroke-width="0.5" opacity="0.9"/>
<circle cx="94.60" cy="241.05" r="0.9" fill="none" stroke="#3d97cf" stroke-width="0.5" opacity="0.9"/>
<circle cx="93.52" cy="262.86" r="0.9" fill="none" stroke="#3d97cf" stroke-width="0.5" opacity="0.9"/>
<circle cx="93.95" cy="263.22" r="0.9" fill="none" stroke="#3d97cf" stroke-width="0.5" opacity="0.9"/>
<circle cx="94.15" cy="200.45" r="0.9" fill="none" stroke="#3d97cf" stroke-width="0.5" opacity="0.9"/>
<circle cx="94.57" cy="233.06" r="0.9" fill="none" stroke="#3d97cf" stroke-width="0.5" opacity="0.9"/>
<circle cx="95.81" cy="262.83" r="0.9" fill="none" stroke="#3d97cf" stroke-width="0.5" opacity="0.9"/>
<circle cx="95.54" cy="245.78" r="0.9" fill="none" stroke="#3d97cf" stroke-width="0.5" opacity="0.9"/>
<circle cx="94.93" cy="236.16" r="0.9" fill="none" stroke="#3d97cf" stroke-width="0.5" opacity="0.9"/>
<circle cx="97.18" cy="178.93" r="0.9" fill="none" stroke="#3d97cf" stroke-width="0.5" opacity="0.9"/>
<circle cx="94.31" cy="257.21" r="0.9" fill="none" stroke="#3d97cf" stroke-width="0.5" opacity="0.9"/>
<circle cx="97.74" cy="171.14" r="0.9" fill="none" stroke="#3d97cf" stroke-width="0.5" opacity="0.9"/>
<circle cx="100.97" cy="185.80" r="0.9" fill="none" stroke="#3d97cf" stroke-width="0.5" opacity="0.9"/>
<circle cx="96.61" cy="170.01" r="0.9" fill="none" stroke="#3d97cf" stroke-width="0.5" opacity="0.9"/>
<circle cx="95.39" cy="252.96" r="0.9" fill="none" stroke="#3d97cf" stroke-width="0.5" opacity="0.9"/>
<circle cx="95.83" cy="187.04" r="0.9" fill="none" stroke="#3d97cf" stroke-width="0.5" opacity="0.9"/>
<circle cx="96.11" cy="208.17" r="0.9" fill="none" stroke="#3d97cf" stroke-width="0.5" opacity="0.9"/>
<circle cx="92.82" cy="271.45" r="0.9" fill="none" stroke="#3d97cf" stroke-width="0.5" opacity="0.9"/>
<circle cx="95.25" cy="171.60" r="0.9" fill="none" stroke="#3d97cf" stroke-width="0.5" opacity="0.9"/>
<circle cx="95.97" cy="179.64" r="0.9" fill="none" stroke="#3d97cf" stroke-width="0.5" opacity="0.9"/>
<circle cx="94.23" cy="217.30" r="0.9" fill="none" stroke="#3d97cf" stroke-width="0.5" opacity="0.9"/>
<circle cx="91.57" cy="178.48" r="0.9" fill="none" stroke="#3d97cf" stroke-width="0.5" opacity="0.9"/>
<circle cx="97.20" cy="259.39" r="0.9" fill="none" stroke="#3d97cf" stroke-width="0.5" opacity="0.9"/>
<circle cx="95.11" cy="221.70" r="0.9" fill="none" stroke="#3d97cf" stroke-width="0.5" opacity="0.9"/>
<circle cx="95.82" cy="268.28" r="0.9" fill="none" stroke="#3d97cf" stroke-width="0.5" opacity="0.9"/>
<circle cx="100.69" cy="182.52" r="0.9" fill="none" stroke="#3d97cf" stroke-width="0.5" opacity="0.9"/>
<circle cx="96.27" cy="171.31" r="0.9" fill="none" stroke="#3d97cf" stroke-width="0.5" opacity="0.9"/>
<circle cx="93.64" cy="177.84" r="0.9" fill="none" stroke="#3d97cf" stroke-width="0.5" opacity="0.9"/>
<circle cx="100.24" cy="192.14" r="0.9" fill="none" stroke="#3d97cf" stroke-width="0.5" opacity="0.9"/>
<circle cx="94.64" cy="194.06" r="0.9" fill="none" stroke="#3d97cf" stroke-width="0.5" opacity="0.9"/>
<circle cx="85.82" cy="273.00" r="0.8" fill="none" stroke="#3d97cf" stroke-width="0.5"/>
<circle cx="88.75" cy="273.00" r="0.8" fill="none" stroke="#3d97cf" stroke-width="0.5"/>
<circle cx="90.68" cy="273.00" r="0.8" fill="none" stroke="#3d97cf" stroke-width="0.5"/>
<circle cx="93.24" cy="273.00" r="0.8" fill="none" stroke="#3d97cf" stroke-width="0.5"/>
<circle cx="96.07" cy="273.00" r="0.8" fill="none" stroke="#3d97cf" stroke-width="0.5"/>
<circle cx="98.34" cy="273.00" r="0.8" fill="none" stroke="#3d97cf" stroke-width="0.5"/>
<circle cx="100.21" cy="273.00" r="0.8" fill="none" stroke="#3d97cf" stroke-width="0.5"/>
<circle cx="102.96" cy="273.00" r="0.8" fill="none" stroke="#3d97cf" stroke-width="0.5"/>
<circle cx="105.33" cy="273.00" r="0.8" fill="none" stroke="#3d97cf" stroke-width="0.5"/>
<line x1="86.20" y1="181.50" x2="105.20" y2="181.50" stroke="#1f7fc0" stroke-width="1.1" stroke-dasharray="1.2,1.0"/>
<line x1="89.80" y1="195.50" x2="101.60" y2="195.50" stroke="#0b4f70" stroke-width="1.6" />
<path d="M121.50,165.80 C122.33,167.03 124.92,170.60 126.50,173.20 C128.08,175.80 130.17,179.20 131.00,181.40 C131.83,183.60 131.98,184.20 131.50,186.40 C131.02,188.60 129.00,191.87 128.10,194.60 C127.20,197.33 126.43,198.95 126.10,202.80 C125.77,206.65 125.98,212.48 126.10,217.70 C126.22,222.92 126.88,228.62 126.80,234.10 C126.72,239.58 125.52,246.48 125.60,250.60 C125.68,254.72 126.62,256.05 127.30,258.80 C127.98,261.55 129.00,264.65 129.70,267.10 C130.40,269.55 131.20,272.43 131.50,273.50 L111.50,273.50 C111.80,272.43 112.60,269.55 113.30,267.10 C114.00,264.65 115.02,261.55 115.70,258.80 C116.38,256.05 117.32,254.72 117.40,250.60 C117.48,246.48 116.28,239.58 116.20,234.10 C116.12,228.62 116.78,222.92 116.90,217.70 C117.02,212.48 117.23,206.65 116.90,202.80 C116.57,198.95 115.80,197.33 114.90,194.60 C114.00,191.87 111.98,188.60 111.50,186.40 C111.02,184.20 111.17,183.60 112.00,181.40 C112.83,179.20 114.92,175.80 116.50,173.20 C118.08,170.60 120.67,167.03 121.50,165.80Z" fill="#b0b6ef" stroke="#4e5dcc" stroke-width="0.7" />
<circle cx="124.19" cy="192.71" r="0.9" fill="none" stroke="#5b6ad8" stroke-width="0.5" opacity="0.9"/>
<circle cx="119.85" cy="233.31" r="0.9" fill="none" stroke="#5b6ad8" stroke-width="0.5" opacity="0.9"/>
<circle cx="119.06" cy="194.95" r="0.9" fill="none" stroke="#5b6ad8" stroke-width="0.5" opacity="0.9"/>
<circle cx="120.75" cy="272.04" r="0.9" fill="none" stroke="#5b6ad8" stroke-width="0.5" opacity="0.9"/>
<circle cx="122.75" cy="234.71" r="0.9" fill="none" stroke="#5b6ad8" stroke-width="0.5" opacity="0.9"/>
<circle cx="119.11" cy="238.10" r="0.9" fill="none" stroke="#5b6ad8" stroke-width="0.5" opacity="0.9"/>
<circle cx="120.34" cy="199.34" r="0.9" fill="none" stroke="#5b6ad8" stroke-width="0.5" opacity="0.9"/>
<circle cx="120.36" cy="258.42" r="0.9" fill="none" stroke="#5b6ad8" stroke-width="0.5" opacity="0.9"/>
<circle cx="123.94" cy="259.82" r="0.9" fill="none" stroke="#5b6ad8" stroke-width="0.5" opacity="0.9"/>
<circle cx="120.79" cy="182.04" r="0.9" fill="none" stroke="#5b6ad8" stroke-width="0.5" opacity="0.9"/>
<circle cx="125.21" cy="268.89" r="0.9" fill="none" stroke="#5b6ad8" stroke-width="0.5" opacity="0.9"/>
<circle cx="119.41" cy="233.41" r="0.9" fill="none" stroke="#5b6ad8" stroke-width="0.5" opacity="0.9"/>
<circle cx="120.57" cy="220.91" r="0.9" fill="none" stroke="#5b6ad8" stroke-width="0.5" opacity="0.9"/>
<circle cx="122.40" cy="238.08" r="0.9" fill="none" stroke="#5b6ad8" stroke-width="0.5" opacity="0.9"/>
<circle cx="124.68" cy="262.52" r="0.9" fill="none" stroke="#5b6ad8" stroke-width="0.5" opacity="0.9"/>
<circle cx="121.23" cy="242.54" r="0.9" fill="none" stroke="#5b6ad8" stroke-width="0.5" opacity="0.9"/>
<circle cx="119.57" cy="197.64" r="0.9" fill="none" stroke="#5b6ad8" stroke-width="0.5" opacity="0.9"/>
<circle cx="119.41" cy="210.78" r="0.9" fill="none" stroke="#5b6ad8" stroke-width="0.5" opacity="0.9"/>
<circle cx="121.71" cy="259.18" r="0.9" fill="none" stroke="#5b6ad8" stroke-width="0.5" opacity="0.9"/>
<circle cx="119.56" cy="232.14" r="0.9" fill="none" stroke="#5b6ad8" stroke-width="0.5" opacity="0.9"/>
<circle cx="123.21" cy="243.02" r="0.9" fill="none" stroke="#5b6ad8" stroke-width="0.5" opacity="0.9"/>
<circle cx="123.62" cy="200.22" r="0.9" fill="none" stroke="#5b6ad8" stroke-width="0.5" opacity="0.9"/>
<circle cx="119.54" cy="230.60" r="0.9" fill="none" stroke="#5b6ad8" stroke-width="0.5" opacity="0.9"/>
<circle cx="119.07" cy="188.47" r="0.9" fill="none" stroke="#5b6ad8" stroke-width="0.5" opacity="0.9"/>
<circle cx="123.42" cy="231.72" r="0.9" fill="none" stroke="#5b6ad8" stroke-width="0.5" opacity="0.9"/>
<circle cx="122.63" cy="261.68" r="0.9" fill="none" stroke="#5b6ad8" stroke-width="0.5" opacity="0.9"/>
<circle cx="124.43" cy="266.28" r="0.9" fill="none" stroke="#5b6ad8" stroke-width="0.5" opacity="0.9"/>
<circle cx="120.13" cy="192.68" r="0.9" fill="none" stroke="#5b6ad8" stroke-width="0.5" opacity="0.9"/>
<circle cx="117.47" cy="270.18" r="0.9" fill="none" stroke="#5b6ad8" stroke-width="0.5" opacity="0.9"/>
<circle cx="120.27" cy="225.22" r="0.9" fill="none" stroke="#5b6ad8" stroke-width="0.5" opacity="0.9"/>
<circle cx="123.37" cy="233.99" r="0.9" fill="none" stroke="#5b6ad8" stroke-width="0.5" opacity="0.9"/>
<circle cx="120.05" cy="233.48" r="0.9" fill="none" stroke="#5b6ad8" stroke-width="0.5" opacity="0.9"/>
<circle cx="120.59" cy="238.92" r="0.9" fill="none" stroke="#5b6ad8" stroke-width="0.5" opacity="0.9"/>
<circle cx="121.21" cy="170.12" r="0.9" fill="none" stroke="#5b6ad8" stroke-width="0.5" opacity="0.9"/>
<circle cx="120.84" cy="194.09" r="0.9" fill="none" stroke="#5b6ad8" stroke-width="0.5" opacity="0.9"/>
<circle cx="120.94" cy="229.85" r="0.9" fill="none" stroke="#5b6ad8" stroke-width="0.5" opacity="0.9"/>
<circle cx="123.82" cy="205.91" r="0.9" fill="none" stroke="#5b6ad8" stroke-width="0.5" opacity="0.9"/>
<circle cx="119.24" cy="199.25" r="0.9" fill="none" stroke="#5b6ad8" stroke-width="0.5" opacity="0.9"/>
<circle cx="118.98" cy="248.66" r="0.9" fill="none" stroke="#5b6ad8" stroke-width="0.5" opacity="0.9"/>
<circle cx="124.28" cy="200.26" r="0.9" fill="none" stroke="#5b6ad8" stroke-width="0.5" opacity="0.9"/>
<circle cx="112.30" cy="273.00" r="0.8" fill="none" stroke="#5b6ad8" stroke-width="0.5"/>
<circle cx="114.79" cy="273.00" r="0.8" fill="none" stroke="#5b6ad8" stroke-width="0.5"/>
<circle cx="116.75" cy="273.00" r="0.8" fill="none" stroke="#5b6ad8" stroke-width="0.5"/>
<circle cx="119.56" cy="273.00" r="0.8" fill="none" stroke="#5b6ad8" stroke-width="0.5"/>
<circle cx="121.94" cy="273.00" r="0.8" fill="none" stroke="#5b6ad8" stroke-width="0.5"/>
<circle cx="123.78" cy="273.00" r="0.8" fill="none" stroke="#5b6ad8" stroke-width="0.5"/>
<circle cx="126.60" cy="273.00" r="0.8" fill="none" stroke="#5b6ad8" stroke-width="0.5"/>
<circle cx="129.07" cy="273.00" r="0.8" fill="none" stroke="#5b6ad8" stroke-width="0.5"/>
<circle cx="131.33" cy="273.00" r="0.8" fill="none" stroke="#5b6ad8" stroke-width="0.5"/>
<line x1="112.17" y1="184.70" x2="130.83" y2="184.70" stroke="#2f4ee0" stroke-width="1.1" stroke-dasharray="1.2,1.0"/>
<line x1="114.44" y1="264.90" x2="128.56" y2="264.90" stroke="#2f4ee0" stroke-width="1.1" stroke-dasharray="1.2,1.0"/>
<line x1="117.20" y1="215.70" x2="125.80" y2="215.70" stroke="#1d2a8a" stroke-width="1.6" />
<path d="M147.00,165.80 C148.37,167.03 153.42,170.87 155.20,173.20 C156.98,175.53 157.70,177.33 157.70,179.80 C157.70,182.27 155.98,185.53 155.20,188.00 C154.42,190.47 153.73,192.13 153.00,194.60 C152.27,197.07 151.33,199.50 150.80,202.80 C150.27,206.10 149.60,211.37 149.80,214.40 C150.00,217.43 152.00,218.53 152.00,221.00 C152.00,223.47 150.22,225.63 149.80,229.20 C149.38,232.77 149.62,238.28 149.50,242.40 C149.38,246.52 148.88,250.62 149.10,253.90 C149.32,257.18 150.32,259.35 150.80,262.10 C151.28,264.85 151.80,268.50 152.00,270.40 C152.20,272.30 152.00,272.98 152.00,273.50 L142.00,273.50 C142.00,272.98 141.80,272.30 142.00,270.40 C142.20,268.50 142.72,264.85 143.20,262.10 C143.68,259.35 144.68,257.18 144.90,253.90 C145.12,250.62 144.62,246.52 144.50,242.40 C144.38,238.28 144.62,232.77 144.20,229.20 C143.78,225.63 142.00,223.47 142.00,221.00 C142.00,218.53 144.00,217.43 144.20,214.40 C144.40,211.37 143.73,206.10 143.20,202.80 C142.67,199.50 141.73,197.07 141.00,194.60 C140.27,192.13 139.58,190.47 138.80,188.00 C138.02,185.53 136.30,182.27 136.30,179.80 C136.30,177.33 137.02,175.53 138.80,173.20 C140.58,170.87 145.63,167.03 147.00,165.80Z" fill="#e3dcf7" stroke="#7f6dc6" stroke-width="0.7" />
<circle cx="150.78" cy="192.51" r="0.9" fill="none" stroke="#8e7bd2" stroke-width="0.5" opacity="0.9"/>
<circle cx="148.80" cy="209.27" r="0.9" fill="none" stroke="#8e7bd2" stroke-width="0.5" opacity="0.9"/>
<circle cx="148.78" cy="174.76" r="0.9" fill="none" stroke="#8e7bd2" stroke-width="0.5" opacity="0.9"/>
<circle cx="144.71" cy="223.99" r="0.9" fill="none" stroke="#8e7bd2" stroke-width="0.5" opacity="0.9"/>
<circle cx="151.24" cy="185.88" r="0.9" fill="none" stroke="#8e7bd2" stroke-width="0.5" opacity="0.9"/>
<circle cx="146.03" cy="251.61" r="0.9" fill="none" stroke="#8e7bd2" stroke-width="0.5" opacity="0.9"/>
<circle cx="148.88" cy="259.94" r="0.9" fill="none" stroke="#8e7bd2" stroke-width="0.5" opacity="0.9"/>
<circle cx="147.99" cy="220.77" r="0.9" fill="none" stroke="#8e7bd2" stroke-width="0.5" opacity="0.9"/>
<circle cx="145.00" cy="217.38" r="0.9" fill="none" stroke="#8e7bd2" stroke-width="0.5" opacity="0.9"/>
<circle cx="145.45" cy="225.14" r="0.9" fill="none" stroke="#8e7bd2" stroke-width="0.5" opacity="0.9"/>
<circle cx="147.81" cy="221.03" r="0.9" fill="none" stroke="#8e7bd2" stroke-width="0.5" opacity="0.9"/>
<circle cx="147.76" cy="184.69" r="0.9" fill="none" stroke="#8e7bd2" stroke-width="0.5" opacity="0.9"/>
<circle cx="147.63" cy="252.88" r="0.9" fill="none" stroke="#8e7bd2" stroke-width="0.5" opacity="0.9"/>
<circle cx="150.89" cy="172.65" r="0.9" fill="none" stroke="#8e7bd2" stroke-width="0.5" opacity="0.9"/>
<circle cx="145.31" cy="272.22" r="0.9" fill="none" stroke="#8e7bd2" stroke-width="0.5" opacity="0.9"/>
<circle cx="145.16" cy="211.02" r="0.9" fill="none" stroke="#8e7bd2" stroke-width="0.5" opacity="0.9"/>
<circle cx="148.95" cy="262.48" r="0.9" fill="none" stroke="#8e7bd2" stroke-width="0.5" opacity="0.9"/>
<circle cx="141.98" cy="174.25" r="0.9" fill="none" stroke="#8e7bd2" stroke-width="0.5" opacity="0.9"/>
<circle cx="150.00" cy="192.66" r="0.9" fill="none" stroke="#8e7bd2" stroke-width="0.5" opacity="0.9"/>
<circle cx="142.99" cy="186.39" r="0.9" fill="none" stroke="#8e7bd2" stroke-width="0.5" opacity="0.9"/>
<circle cx="148.61" cy="169.70" r="0.9" fill="none" stroke="#8e7bd2" stroke-width="0.5" opacity="0.9"/>
<circle cx="148.68" cy="198.52" r="0.9" fill="none" stroke="#8e7bd2" stroke-width="0.5" opacity="0.9"/>
<circle cx="148.27" cy="214.30" r="0.9" fill="none" stroke="#8e7bd2" stroke-width="0.5" opacity="0.9"/>
<circle cx="147.24" cy="202.49" r="0.9" fill="none" stroke="#8e7bd2" stroke-width="0.5" opacity="0.9"/>
<circle cx="150.37" cy="172.49" r="0.9" fill="none" stroke="#8e7bd2" stroke-width="0.5" opacity="0.9"/>
<circle cx="145.20" cy="198.20" r="0.9" fill="none" stroke="#8e7bd2" stroke-width="0.5" opacity="0.9"/>
<circle cx="148.03" cy="270.59" r="0.9" fill="none" stroke="#8e7bd2" stroke-width="0.5" opacity="0.9"/>
<circle cx="145.44" cy="189.57" r="0.9" fill="none" stroke="#8e7bd2" stroke-width="0.5" opacity="0.9"/>
<circle cx="150.92" cy="173.59" r="0.9" fill="none" stroke="#8e7bd2" stroke-width="0.5" opacity="0.9"/>
<circle cx="147.85" cy="238.66" r="0.9" fill="none" stroke="#8e7bd2" stroke-width="0.5" opacity="0.9"/>
<circle cx="146.76" cy="172.08" r="0.9" fill="none" stroke="#8e7bd2" stroke-width="0.5" opacity="0.9"/>
<circle cx="147.33" cy="180.60" r="0.9" fill="none" stroke="#8e7bd2" stroke-width="0.5" opacity="0.9"/>
<circle cx="143.31" cy="193.12" r="0.9" fill="none" stroke="#8e7bd2" stroke-width="0.5" opacity="0.9"/>
<circle cx="143.37" cy="171.66" r="0.9" fill="none" stroke="#8e7bd2" stroke-width="0.5" opacity="0.9"/>
<circle cx="147.67" cy="171.11" r="0.9" fill="none" stroke="#8e7bd2" stroke-width="0.5" opacity="0.9"/>
<circle cx="146.91" cy="193.18" r="0.9" fill="none" stroke="#8e7bd2" stroke-width="0.5" opacity="0.9"/>
<circle cx="151.30" cy="182.64" r="0.9" fill="none" stroke="#8e7bd2" stroke-width="0.5" opacity="0.9"/>
<circle cx="147.65" cy="271.51" r="0.9" fill="none" stroke="#8e7bd2" stroke-width="0.5" opacity="0.9"/>
<circle cx="145.04" cy="219.55" r="0.9" fill="none" stroke="#8e7bd2" stroke-width="0.5" opacity="0.9"/>
<circle cx="146.23" cy="267.92" r="0.9" fill="none" stroke="#8e7bd2" stroke-width="0.5" opacity="0.9"/>
<circle cx="137.71" cy="273.00" r="0.8" fill="none" stroke="#8e7bd2" stroke-width="0.5"/>
<circle cx="139.92" cy="273.00" r="0.8" fill="none" stroke="#8e7bd2" stroke-width="0.5"/>
<circle cx="141.91" cy="273.00" r="0.8" fill="none" stroke="#8e7bd2" stroke-width="0.5"/>
<circle cx="144.97" cy="273.00" r="0.8" fill="none" stroke="#8e7bd2" stroke-width="0.5"/>
<circle cx="147.36" cy="273.00" r="0.8" fill="none" stroke="#8e7bd2" stroke-width="0.5"/>
<circle cx="149.17" cy="273.00" r="0.8" fill="none" stroke="#8e7bd2" stroke-width="0.5"/>
<circle cx="151.93" cy="273.00" r="0.8" fill="none" stroke="#8e7bd2" stroke-width="0.5"/>
<circle cx="154.20" cy="273.00" r="0.8" fill="none" stroke="#8e7bd2" stroke-width="0.5"/>
<circle cx="156.93" cy="273.00" r="0.8" fill="none" stroke="#8e7bd2" stroke-width="0.5"/>
<line x1="137.04" y1="180.60" x2="156.96" y2="180.60" stroke="#4a2a9a" stroke-width="1.1" stroke-dasharray="1.2,1.0"/>
<line x1="140.77" y1="193.00" x2="153.23" y2="193.00" stroke="#4b2b8f" stroke-width="1.6" />
<path d="M172.40,165.80 C173.77,167.03 178.82,170.73 180.60,173.20 C182.38,175.67 182.97,177.85 183.10,180.60 C183.23,183.35 182.22,186.55 181.40,189.70 C180.58,192.85 179.07,196.22 178.20,199.50 C177.33,202.78 176.68,205.00 176.20,209.40 C175.72,213.80 175.50,220.80 175.30,225.90 C175.10,231.00 175.05,235.88 175.00,240.00 C174.95,244.12 174.98,246.92 175.00,250.60 C175.02,254.28 174.90,259.08 175.10,262.10 C175.30,265.12 175.82,266.80 176.20,268.70 C176.58,270.60 177.20,272.70 177.40,273.50 L167.40,273.50 C167.60,272.70 168.22,270.60 168.60,268.70 C168.98,266.80 169.50,265.12 169.70,262.10 C169.90,259.08 169.78,254.28 169.80,250.60 C169.82,246.92 169.85,244.12 169.80,240.00 C169.75,235.88 169.70,231.00 169.50,225.90 C169.30,220.80 169.08,213.80 168.60,209.40 C168.12,205.00 167.47,202.78 166.60,199.50 C165.73,196.22 164.22,192.85 163.40,189.70 C162.58,186.55 161.57,183.35 161.70,180.60 C161.83,177.85 162.42,175.67 164.20,173.20 C165.98,170.73 171.03,167.03 172.40,165.80Z" fill="#efb5ea" stroke="#c25cc0" stroke-width="0.7" />
<circle cx="171.18" cy="170.84" r="0.9" fill="none" stroke="#d77ad5" stroke-width="0.5" opacity="0.9"/>
<circle cx="171.37" cy="262.12" r="0.9" fill="none" stroke="#d77ad5" stroke-width="0.5" opacity="0.9"/>
<circle cx="171.15" cy="216.91" r="0.9" fill="none" stroke="#d77ad5" stroke-width="0.5" opacity="0.9"/>
<circle cx="170.32" cy="169.17" r="0.9" fill="none" stroke="#d77ad5" stroke-width="0.5" opacity="0.9"/>
<circle cx="172.29" cy="247.97" r="0.9" fill="none" stroke="#d77ad5" stroke-width="0.5" opacity="0.9"/>
<circle cx="172.03" cy="251.26" r="0.9" fill="none" stroke="#d77ad5" stroke-width="0.5" opacity="0.9"/>
<circle cx="172.77" cy="232.45" r="0.9" fill="none" stroke="#d77ad5" stroke-width="0.5" opacity="0.9"/>
<circle cx="173.37" cy="189.73" r="0.9" fill="none" stroke="#d77ad5" stroke-width="0.5" opacity="0.9"/>
<circle cx="170.96" cy="205.62" r="0.9" fill="none" stroke="#d77ad5" stroke-width="0.5" opacity="0.9"/>
<circle cx="177.35" cy="183.05" r="0.9" fill="none" stroke="#d77ad5" stroke-width="0.5" opacity="0.9"/>
<circle cx="169.37" cy="203.18" r="0.9" fill="none" stroke="#d77ad5" stroke-width="0.5" opacity="0.9"/>
<circle cx="171.77" cy="200.86" r="0.9" fill="none" stroke="#d77ad5" stroke-width="0.5" opacity="0.9"/>
<circle cx="171.71" cy="241.58" r="0.9" fill="none" stroke="#d77ad5" stroke-width="0.5" opacity="0.9"/>
<circle cx="171.96" cy="269.89" r="0.9" fill="none" stroke="#d77ad5" stroke-width="0.5" opacity="0.9"/>
<circle cx="170.89" cy="168.75" r="0.9" fill="none" stroke="#d77ad5" stroke-width="0.5" opacity="0.9"/>
<circle cx="176.08" cy="188.38" r="0.9" fill="none" stroke="#d77ad5" stroke-width="0.5" opacity="0.9"/>
<circle cx="171.66" cy="203.86" r="0.9" fill="none" stroke="#d77ad5" stroke-width="0.5" opacity="0.9"/>
<circle cx="166.72" cy="179.11" r="0.9" fill="none" stroke="#d77ad5" stroke-width="0.5" opacity="0.9"/>
<circle cx="173.71" cy="177.35" r="0.9" fill="none" stroke="#d77ad5" stroke-width="0.5" opacity="0.9"/>
<circle cx="169.72" cy="200.97" r="0.9" fill="none" stroke="#d77ad5" stroke-width="0.5" opacity="0.9"/>
<circle cx="172.90" cy="175.99" r="0.9" fill="none" stroke="#d77ad5" stroke-width="0.5" opacity="0.9"/>
<circle cx="170.49" cy="184.71" r="0.9" fill="none" stroke="#d77ad5" stroke-width="0.5" opacity="0.9"/>
<circle cx="172.76" cy="210.30" r="0.9" fill="none" stroke="#d77ad5" stroke-width="0.5" opacity="0.9"/>
<circle cx="175.71" cy="171.23" r="0.9" fill="none" stroke="#d77ad5" stroke-width="0.5" opacity="0.9"/>
<circle cx="173.41" cy="255.58" r="0.9" fill="none" stroke="#d77ad5" stroke-width="0.5" opacity="0.9"/>
<circle cx="171.41" cy="178.96" r="0.9" fill="none" stroke="#d77ad5" stroke-width="0.5" opacity="0.9"/>
<circle cx="176.22" cy="183.43" r="0.9" fill="none" stroke="#d77ad5" stroke-width="0.5" opacity="0.9"/>
<circle cx="173.44" cy="198.67" r="0.9" fill="none" stroke="#d77ad5" stroke-width="0.5" opacity="0.9"/>
<circle cx="171.88" cy="217.96" r="0.9" fill="none" stroke="#d77ad5" stroke-width="0.5" opacity="0.9"/>
<circle cx="170.78" cy="210.08" r="0.9" fill="none" stroke="#d77ad5" stroke-width="0.5" opacity="0.9"/>
<circle cx="173.50" cy="177.13" r="0.9" fill="none" stroke="#d77ad5" stroke-width="0.5" opacity="0.9"/>
<circle cx="172.90" cy="197.21" r="0.9" fill="none" stroke="#d77ad5" stroke-width="0.5" opacity="0.9"/>
<circle cx="176.56" cy="194.05" r="0.9" fill="none" stroke="#d77ad5" stroke-width="0.5" opacity="0.9"/>
<circle cx="177.93" cy="185.20" r="0.9" fill="none" stroke="#d77ad5" stroke-width="0.5" opacity="0.9"/>
<circle cx="172.74" cy="244.27" r="0.9" fill="none" stroke="#d77ad5" stroke-width="0.5" opacity="0.9"/>
<circle cx="171.43" cy="170.69" r="0.9" fill="none" stroke="#d77ad5" stroke-width="0.5" opacity="0.9"/>
<circle cx="176.49" cy="190.73" r="0.9" fill="none" stroke="#d77ad5" stroke-width="0.5" opacity="0.9"/>
<circle cx="170.76" cy="233.85" r="0.9" fill="none" stroke="#d77ad5" stroke-width="0.5" opacity="0.9"/>
<circle cx="170.81" cy="217.18" r="0.9" fill="none" stroke="#d77ad5" stroke-width="0.5" opacity="0.9"/>
<circle cx="173.05" cy="173.47" r="0.9" fill="none" stroke="#d77ad5" stroke-width="0.5" opacity="0.9"/>
<circle cx="162.99" cy="273.00" r="0.8" fill="none" stroke="#d77ad5" stroke-width="0.5"/>
<circle cx="165.01" cy="273.00" r="0.8" fill="none" stroke="#d77ad5" stroke-width="0.5"/>
<circle cx="167.80" cy="273.00" r="0.8" fill="none" stroke="#d77ad5" stroke-width="0.5"/>
<circle cx="170.41" cy="273.00" r="0.8" fill="none" stroke="#d77ad5" stroke-width="0.5"/>
<circle cx="172.40" cy="273.00" r="0.8" fill="none" stroke="#d77ad5" stroke-width="0.5"/>
<circle cx="174.85" cy="273.00" r="0.8" fill="none" stroke="#d77ad5" stroke-width="0.5"/>
<circle cx="177.08" cy="273.00" r="0.8" fill="none" stroke="#d77ad5" stroke-width="0.5"/>
<circle cx="179.53" cy="273.00" r="0.8" fill="none" stroke="#d77ad5" stroke-width="0.5"/>
<circle cx="182.48" cy="273.00" r="0.8" fill="none" stroke="#d77ad5" stroke-width="0.5"/>
<line x1="162.20" y1="180.60" x2="182.60" y2="180.60" stroke="#9a2a9a" stroke-width="1.1" stroke-dasharray="1.2,1.0"/>
<line x1="164.06" y1="190.80" x2="180.74" y2="190.80" stroke="#7e1f80" stroke-width="1.6" />
<line x1="30.30" y1="165.60" x2="187.60" y2="165.60" stroke="#8a8a8a" stroke-width="0.8" />
<line x1="187.60" y1="165.60" x2="187.60" y2="273.60" stroke="#7a7a7a" stroke-width="0.9" />
<line x1="30.30" y1="273.60" x2="187.60" y2="273.60" stroke="#6e6e6e" stroke-width="0.9" />
<line x1="30.30" y1="165.60" x2="30.30" y2="273.60" stroke="#bdbdbd" stroke-width="0.9" />
<line x1="28.30" y1="273.60" x2="30.30" y2="273.60" stroke="#666" stroke-width="0.7" />
<text x="27.50" y="275.94" font-size="6.5" text-anchor="end" fill="#333" color="#333" font-weight="normal" >0.0</text>
<line x1="28.30" y1="252.00" x2="30.30" y2="252.00" stroke="#666" stroke-width="0.7" />
<text x="27.50" y="254.34" font-size="6.5" text-anchor="end" fill="#333" color="#333" font-weight="normal" >0.2</text>
<line x1="28.30" y1="230.40" x2="30.30" y2="230.40" stroke="#666" stroke-width="0.7" />
<text x="27.50" y="232.74" font-size="6.5" text-anchor="end" fill="#333" color="#333" font-weight="normal" >0.4</text>
<line x1="28.30" y1="208.80" x2="30.30" y2="208.80" stroke="#666" stroke-width="0.7" />
<text x="27.50" y="211.14" font-size="6.5" text-anchor="end" fill="#333" color="#333" font-weight="normal" >0.6</text>
<line x1="28.30" y1="187.20" x2="30.30" y2="187.20" stroke="#666" stroke-width="0.7" />
<text x="27.50" y="189.54" font-size="6.5" text-anchor="end" fill="#333" color="#333" font-weight="normal" >0.8</text>
<line x1="28.30" y1="165.60" x2="30.30" y2="165.60" stroke="#666" stroke-width="0.7" />
<text x="27.50" y="167.94" font-size="6.5" text-anchor="end" fill="#333" color="#333" font-weight="normal" >1.0</text>
<text x="44.70" y="279.84" font-size="6.5" text-anchor="middle" fill="#333" color="#333" font-weight="normal" >1</text>
<text x="70.40" y="279.84" font-size="6.5" text-anchor="middle" fill="#333" color="#333" font-weight="normal" >2</text>
<text x="95.70" y="279.84" font-size="6.5" text-anchor="middle" fill="#333" color="#333" font-weight="normal" >3</text>
<text x="121.50" y="279.84" font-size="6.5" text-anchor="middle" fill="#333" color="#333" font-weight="normal" >4</text>
<text x="147.00" y="279.84" font-size="6.5" text-anchor="middle" fill="#333" color="#333" font-weight="normal" >5</text>
<text x="172.40" y="285.34" font-size="6.5" text-anchor="middle" fill="#333" color="#333" font-weight="normal" >Relay</text>
<text x="102.00" y="285.24" font-size="6.5" text-anchor="middle" fill="#333" color="#333" font-weight="normal" >local</text>
<text transform="translate(10.00,218.40) rotate(-90)" x="0" y="2.88" font-size="8" text-anchor="middle" fill="#2a2a2a" color="#2a2a2a">internal test sets</text>
<line x1="44.50" y1="150.50" x2="172.20" y2="150.50" stroke="#8a8a8a" stroke-width="0.8" />
<text x="57.70" y="156.18" font-size="6.6" text-anchor="middle" fill="#333" color="#333" font-weight="normal" >ns</text>
<line x1="70.50" y1="153.30" x2="172.20" y2="153.30" stroke="#8a8a8a" stroke-width="0.8" />
<text x="83.70" y="158.98" font-size="6.6" text-anchor="middle" fill="#333" color="#333" font-weight="normal" >ns</text>
<line x1="96.00" y1="155.60" x2="172.20" y2="155.60" stroke="#8a8a8a" stroke-width="0.8" />
<text x="109.20" y="161.28" font-size="6.6" text-anchor="middle" fill="#333" color="#333" font-weight="normal" >ns</text>
<line x1="122.00" y1="157.70" x2="172.20" y2="157.70" stroke="#8a8a8a" stroke-width="0.8" />
<text x="135.20" y="162.98" font-size="6.6" text-anchor="middle" fill="#333" color="#333" font-weight="normal" >*</text>
<line x1="147.00" y1="159.80" x2="172.20" y2="159.80" stroke="#8a8a8a" stroke-width="0.8" />
<text x="160.20" y="165.38" font-size="6.6" text-anchor="middle" fill="#333" color="#333" font-weight="normal" >ns</text>
<text x="189.5" y="148.5" font-size="9.6" font-weight="bold" fill="#111" color="#111">d</text>
<text x="273.00" y="145.32" font-size="8.1" text-anchor="middle" fill="#222" color="#222" font-weight="normal" >other multi-site solutions</text>
<rect x="305.90" y="154.70" width="31.30" height="119.30" rx="0" fill="#dcdcdc" stroke="none" stroke-width="0.8" />
<rect x="219.30" y="209.80" width="20.20" height="64.20" rx="0" fill="#74d5f7" stroke="#4a9fbd" stroke-width="0.7" />
<line x1="229.40" y1="186.65" x2="229.40" y2="231.19" stroke="#5b9db5" stroke-width="0.8" />
<line x1="224.40" y1="186.65" x2="234.40" y2="186.65" stroke="#5b9db5" stroke-width="0.8" />
<line x1="224.40" y1="231.19" x2="234.40" y2="231.19" stroke="#5b9db5" stroke-width="0.8" />
<rect x="249.90" y="206.28" width="20.00" height="67.72" rx="0" fill="#c2f47c" stroke="#88b05a" stroke-width="0.7" />
<line x1="259.90" y1="183.72" x2="259.90" y2="227.09" stroke="#8aa86e" stroke-width="0.8" />
<line x1="254.90" y1="183.72" x2="264.90" y2="183.72" stroke="#8aa86e" stroke-width="0.8" />
<line x1="254.90" y1="227.09" x2="264.90" y2="227.09" stroke="#8aa86e" stroke-width="0.8" />
<rect x="280.40" y="204.23" width="20.00" height="69.77" rx="0" fill="#e6b87f" stroke="#b4894f" stroke-width="0.7" />
<line x1="290.40" y1="181.38" x2="290.40" y2="224.45" stroke="#a88058" stroke-width="0.8" />
<line x1="285.40" y1="181.38" x2="295.40" y2="181.38" stroke="#a88058" stroke-width="0.8" />
<line x1="285.40" y1="224.45" x2="295.40" y2="224.45" stroke="#a88058" stroke-width="0.8" />
<rect x="310.40" y="204.23" width="20.40" height="69.77" rx="0" fill="#f1a9ec" stroke="#b560b3" stroke-width="0.7" />
<line x1="320.60" y1="182.55" x2="320.60" y2="224.45" stroke="#a666a6" stroke-width="0.8" />
<line x1="315.60" y1="182.55" x2="325.60" y2="182.55" stroke="#a666a6" stroke-width="0.8" />
<line x1="315.60" y1="224.45" x2="325.60" y2="224.45" stroke="#a666a6" stroke-width="0.8" />
<rect x="213.00" y="154.70" width="124.20" height="119.30" rx="0" fill="none" stroke="#8c8c8c" stroke-width="0.8" />
<line x1="211.00" y1="268.40" x2="213.00" y2="268.40" stroke="#666" stroke-width="0.7" />
<text x="210.20" y="270.74" font-size="6.5" text-anchor="end" fill="#333" color="#333" font-weight="normal" >0.4</text>
<line x1="211.00" y1="239.10" x2="213.00" y2="239.10" stroke="#666" stroke-width="0.7" />
<text x="210.20" y="241.44" font-size="6.5" text-anchor="end" fill="#333" color="#333" font-weight="normal" >0.5</text>
<line x1="211.00" y1="209.80" x2="213.00" y2="209.80" stroke="#666" stroke-width="0.7" />
<text x="210.20" y="212.14" font-size="6.5" text-anchor="end" fill="#333" color="#333" font-weight="normal" >0.6</text>
<line x1="211.00" y1="180.50" x2="213.00" y2="180.50" stroke="#666" stroke-width="0.7" />
<text x="210.20" y="182.84" font-size="6.5" text-anchor="end" fill="#333" color="#333" font-weight="normal" >0.7</text>
<text x="229.40" y="282.86" font-size="7.1" text-anchor="middle" fill="#333" color="#333" font-weight="normal" >Federated</text>
<text x="259.90" y="282.86" font-size="7.1" text-anchor="middle" fill="#333" color="#333" font-weight="normal" >Swarm</text>
<text x="290.40" y="282.86" font-size="7.1" text-anchor="middle" fill="#333" color="#333" font-weight="normal" >central</text>
<text x="320.60" y="282.86" font-size="7.1" text-anchor="middle" fill="#333" color="#333" font-weight="normal" >Relay</text>
<text x="195.60" y="156.75" font-size="6.8" text-anchor="start" fill="#222" color="#222" font-weight="normal" >Dice</text>
<line x1="211.50" y1="156.95" x2="211.50" y2="153.45" stroke="#222" stroke-width="0.8" />
<path d="M210.00,153.85 L211.50,151.35 L213.00,153.85Z" fill="#222" stroke="none" stroke-width="0.8" />
<line x1="229.00" y1="156.00" x2="320.60" y2="156.00" stroke="#666" stroke-width="0.8" />
<text x="245.00" y="161.25" font-size="6.8" text-anchor="middle" fill="#333" color="#333" font-weight="normal" >ns</text>
<line x1="260.40" y1="157.80" x2="320.60" y2="157.80" stroke="#666" stroke-width="0.8" />
<text x="275.70" y="162.95" font-size="6.8" text-anchor="middle" fill="#333" color="#333" font-weight="normal" >ns</text>
<line x1="291.00" y1="159.50" x2="320.60" y2="159.50" stroke="#666" stroke-width="0.8" />
<text x="306.20" y="164.85" font-size="6.8" text-anchor="middle" fill="#333" color="#333" font-weight="normal" >ns</text>
<text x="345.3" y="148.6" font-size="9.6" font-weight="bold" fill="#111" color="#111">e</text>
<text x="432.10" y="145.32" font-size="8.1" text-anchor="middle" fill="#222" color="#222" font-weight="normal" >sequential vs. Relay</text>
<line x1="410.20" y1="164.60" x2="410.20" y2="267.70" stroke="#888" stroke-width="0.8" stroke-dasharray="1,1"/>
<line x1="455.60" y1="164.60" x2="455.60" y2="267.70" stroke="#888" stroke-width="0.8" stroke-dasharray="1,1"/>
<rect x="371.50" y="216.62" width="12.40" height="51.08" rx="0" fill="#8aabdc" stroke="#5d86c4" stroke-width="0.7" />
<line x1="377.70" y1="203.90" x2="377.70" y2="228.46" stroke="#6d95d0" stroke-width="0.8" />
<line x1="374.20" y1="203.90" x2="381.20" y2="203.90" stroke="#6d95d0" stroke-width="0.8" />
<line x1="374.20" y1="228.46" x2="381.20" y2="228.46" stroke="#6d95d0" stroke-width="0.8" />
<rect x="389.90" y="203.90" width="13.70" height="63.80" rx="0" fill="#f1a9ec" stroke="#c063be" stroke-width="0.7" />
<line x1="396.75" y1="193.50" x2="396.75" y2="214.59" stroke="#d173cf" stroke-width="0.8" />
<line x1="393.25" y1="193.50" x2="400.25" y2="193.50" stroke="#d173cf" stroke-width="0.8" />
<line x1="393.25" y1="214.59" x2="400.25" y2="214.59" stroke="#d173cf" stroke-width="0.8" />
<rect x="416.20" y="209.10" width="12.90" height="58.60" rx="0" fill="#8aabdc" stroke="#5d86c4" stroke-width="0.7" />
<line x1="422.65" y1="198.12" x2="422.65" y2="219.79" stroke="#6d95d0" stroke-width="0.8" />
<line x1="419.15" y1="198.12" x2="426.15" y2="198.12" stroke="#6d95d0" stroke-width="0.8" />
<line x1="419.15" y1="219.79" x2="426.15" y2="219.79" stroke="#6d95d0" stroke-width="0.8" />
<rect x="435.10" y="201.30" width="13.70" height="66.40" rx="0" fill="#f1a9ec" stroke="#c063be" stroke-width="0.7" />
<line x1="441.95" y1="190.61" x2="441.95" y2="211.70" stroke="#d173cf" stroke-width="0.8" />
<line x1="438.45" y1="190.61" x2="445.45" y2="190.61" stroke="#d173cf" stroke-width="0.8" />
<line x1="438.45" y1="211.70" x2="445.45" y2="211.70" stroke="#d173cf" stroke-width="0.8" />
<rect x="461.40" y="218.64" width="13.10" height="49.06" rx="0" fill="#8aabdc" stroke="#5d86c4" stroke-width="0.7" />
<line x1="467.95" y1="205.63" x2="467.95" y2="231.35" stroke="#6d95d0" stroke-width="0.8" />
<line x1="464.45" y1="205.63" x2="471.45" y2="205.63" stroke="#6d95d0" stroke-width="0.8" />
<line x1="464.45" y1="231.35" x2="471.45" y2="231.35" stroke="#6d95d0" stroke-width="0.8" />
<rect x="480.60" y="199.56" width="13.10" height="68.14" rx="0" fill="#f1a9ec" stroke="#c063be" stroke-width="0.7" />
<line x1="487.15" y1="189.45" x2="487.15" y2="208.67" stroke="#d173cf" stroke-width="0.8" />
<line x1="483.65" y1="189.45" x2="490.65" y2="189.45" stroke="#d173cf" stroke-width="0.8" />
<line x1="483.65" y1="208.67" x2="490.65" y2="208.67" stroke="#d173cf" stroke-width="0.8" />
<rect x="364.50" y="164.60" width="136.30" height="103.10" rx="0" fill="none" stroke="#8c8c8c" stroke-width="0.8" />
<line x1="362.50" y1="264.30" x2="364.50" y2="264.30" stroke="#666" stroke-width="0.7" />
<text x="361.70" y="266.64" font-size="6.5" text-anchor="end" fill="#333" color="#333" font-weight="normal" >0.2</text>
<line x1="362.50" y1="235.40" x2="364.50" y2="235.40" stroke="#666" stroke-width="0.7" />
<text x="361.70" y="237.74" font-size="6.5" text-anchor="end" fill="#333" color="#333" font-weight="normal" >0.4</text>
<line x1="362.50" y1="206.50" x2="364.50" y2="206.50" stroke="#666" stroke-width="0.7" />
<text x="361.70" y="208.84" font-size="6.5" text-anchor="end" fill="#333" color="#333" font-weight="normal" >0.6</text>
<line x1="362.50" y1="177.60" x2="364.50" y2="177.60" stroke="#666" stroke-width="0.7" />
<text x="361.70" y="179.94" font-size="6.5" text-anchor="end" fill="#333" color="#333" font-weight="normal" >0.8</text>
<text x="386.70" y="275.95" font-size="6.8" text-anchor="middle" fill="#333" color="#333" font-weight="normal" >episode1</text>
<text x="432.20" y="275.95" font-size="6.8" text-anchor="middle" fill="#333" color="#333" font-weight="normal" >episode2</text>
<text x="477.50" y="275.95" font-size="6.8" text-anchor="middle" fill="#333" color="#333" font-weight="normal" >episode3</text>
<text x="348.80" y="161.52" font-size="7.0" text-anchor="start" fill="#222" color="#222" font-weight="normal" >Dice</text>
<line x1="365.10" y1="161.72" x2="365.10" y2="158.08" stroke="#222" stroke-width="0.8" />
<path d="M363.60,158.48 L365.10,155.98 L366.60,158.48Z" fill="#222" stroke="none" stroke-width="0.8" />
<rect x="386.50" y="281.40" width="11.30" height="5.20" rx="0" fill="#8aabdc" stroke="#5d86c4" stroke-width="0.6" />
<text x="403.00" y="286.45" font-size="6.8" text-anchor="start" fill="#333" color="#333" font-weight="normal" >sequential</text>
<rect x="439.90" y="281.40" width="11.50" height="5.20" rx="0" fill="#f1a9ec" stroke="#c063be" stroke-width="0.6" />
<text x="455.60" y="286.45" font-size="6.8" text-anchor="start" fill="#333" color="#333" font-weight="normal" >Relay</text>
<line x1="397.00" y1="151.80" x2="487.20" y2="151.80" stroke="#8a8a8a" stroke-width="0.8" />
<text x="442.50" y="157.45" font-size="6.8" text-anchor="middle" fill="#333" color="#333" font-weight="normal" >ns</text>
<line x1="397.00" y1="158.40" x2="439.90" y2="158.40" stroke="#8a8a8a" stroke-width="0.8" />
<text x="418.80" y="164.05" font-size="6.8" text-anchor="middle" fill="#333" color="#333" font-weight="normal" >ns</text>
<line x1="444.30" y1="158.40" x2="487.20" y2="158.40" stroke="#8a8a8a" stroke-width="0.8" />
<text x="464.00" y="164.05" font-size="6.8" text-anchor="middle" fill="#333" color="#333" font-weight="normal" >ns</text>
<line x1="378.10" y1="167.00" x2="397.80" y2="167.00" stroke="#555" stroke-width="0.75" />
<text x="388.40" y="172.65" font-size="6.8" text-anchor="middle" fill="#333" color="#333" font-weight="normal" >ns</text>
<line x1="423.30" y1="167.00" x2="441.70" y2="167.00" stroke="#555" stroke-width="0.75" />
<text x="432.50" y="172.65" font-size="6.8" text-anchor="middle" fill="#333" color="#333" font-weight="normal" >ns</text>
<line x1="468.50" y1="167.00" x2="487.70" y2="167.00" stroke="#555" stroke-width="0.75" />
<text x="478.00" y="172.25" font-size="6.8" text-anchor="middle" fill="#333" color="#333" font-weight="normal" >*</text>
<text x="505" y="149" font-size="9.6" font-weight="bold" fill="#111" color="#111">f</text>
<text x="607.40" y="145.32" font-size="8.1" text-anchor="middle" fill="#222" color="#222" font-weight="normal" >chronology analysis</text>
<rect x="530.20" y="162.77" width="152.10" height="33.82" rx="0" fill="#f9e2c8" stroke="none" stroke-width="0.8" />
<line x1="530.20" y1="179.90" x2="682.30" y2="179.90" stroke="#e8a84c" stroke-width="0.8" stroke-dasharray="3,1.2,1,1.2"/>
<text x="540.50" y="176.34" font-size="7.6" text-anchor="start" fill="#333" color="#333" font-weight="normal" >central</text>
<line x1="536.20" y1="199.03" x2="536.20" y2="234.63" stroke="#9fbde8" stroke-width="0.9" />
<line x1="534.70" y1="199.03" x2="537.70" y2="199.03" stroke="#9fbde8" stroke-width="0.8" />
<line x1="534.70" y1="234.63" x2="537.70" y2="234.63" stroke="#9fbde8" stroke-width="0.8" />
<line x1="569.20" y1="189.69" x2="569.20" y2="234.19" stroke="#9fbde8" stroke-width="0.9" />
<line x1="567.70" y1="189.69" x2="570.70" y2="189.69" stroke="#9fbde8" stroke-width="0.8" />
<line x1="567.70" y1="234.19" x2="570.70" y2="234.19" stroke="#9fbde8" stroke-width="0.8" />
<line x1="602.20" y1="185.46" x2="602.20" y2="221.06" stroke="#9fbde8" stroke-width="0.9" />
<line x1="600.70" y1="185.46" x2="603.70" y2="185.46" stroke="#9fbde8" stroke-width="0.8" />
<line x1="600.70" y1="221.06" x2="603.70" y2="221.06" stroke="#9fbde8" stroke-width="0.8" />
<line x1="635.20" y1="196.59" x2="635.20" y2="234.41" stroke="#9fbde8" stroke-width="0.9" />
<line x1="633.70" y1="196.59" x2="636.70" y2="196.59" stroke="#9fbde8" stroke-width="0.8" />
<line x1="633.70" y1="234.41" x2="636.70" y2="234.41" stroke="#9fbde8" stroke-width="0.8" />
<line x1="668.20" y1="179.23" x2="668.20" y2="219.28" stroke="#9fbde8" stroke-width="0.9" />
<line x1="666.70" y1="179.23" x2="669.70" y2="179.23" stroke="#9fbde8" stroke-width="0.8" />
<line x1="666.70" y1="219.28" x2="669.70" y2="219.28" stroke="#9fbde8" stroke-width="0.8" />
<line x1="539.60" y1="185.91" x2="539.60" y2="217.06" stroke="#9fbde8" stroke-width="0.9" />
<line x1="538.10" y1="185.91" x2="541.10" y2="185.91" stroke="#9fbde8" stroke-width="0.8" />
<line x1="538.10" y1="217.06" x2="541.10" y2="217.06" stroke="#9fbde8" stroke-width="0.8" />
<line x1="572.60" y1="210.16" x2="572.60" y2="250.21" stroke="#9fbde8" stroke-width="0.9" />
<line x1="571.10" y1="210.16" x2="574.10" y2="210.16" stroke="#9fbde8" stroke-width="0.8" />
<line x1="571.10" y1="250.21" x2="574.10" y2="250.21" stroke="#9fbde8" stroke-width="0.8" />
<line x1="605.60" y1="185.91" x2="605.60" y2="223.73" stroke="#9fbde8" stroke-width="0.9" />
<line x1="604.10" y1="185.91" x2="607.10" y2="185.91" stroke="#9fbde8" stroke-width="0.8" />
<line x1="604.10" y1="223.73" x2="607.10" y2="223.73" stroke="#9fbde8" stroke-width="0.8" />
<line x1="638.60" y1="172.56" x2="638.60" y2="205.93" stroke="#9fbde8" stroke-width="0.9" />
<line x1="637.10" y1="172.56" x2="640.10" y2="172.56" stroke="#9fbde8" stroke-width="0.8" />
<line x1="637.10" y1="205.93" x2="640.10" y2="205.93" stroke="#9fbde8" stroke-width="0.8" />
<line x1="671.60" y1="172.11" x2="671.60" y2="203.26" stroke="#9fbde8" stroke-width="0.9" />
<line x1="670.10" y1="172.11" x2="673.10" y2="172.11" stroke="#9fbde8" stroke-width="0.8" />
<line x1="670.10" y1="203.26" x2="673.10" y2="203.26" stroke="#9fbde8" stroke-width="0.8" />
<line x1="543.00" y1="200.37" x2="543.00" y2="235.97" stroke="#9fbde8" stroke-width="0.9" />
<line x1="541.50" y1="200.37" x2="544.50" y2="200.37" stroke="#9fbde8" stroke-width="0.8" />
<line x1="541.50" y1="235.97" x2="544.50" y2="235.97" stroke="#9fbde8" stroke-width="0.8" />
<line x1="576.00" y1="172.56" x2="576.00" y2="212.61" stroke="#9fbde8" stroke-width="0.9" />
<line x1="574.50" y1="172.56" x2="577.50" y2="172.56" stroke="#9fbde8" stroke-width="0.8" />
<line x1="574.50" y1="212.61" x2="577.50" y2="212.61" stroke="#9fbde8" stroke-width="0.8" />
<line x1="609.00" y1="188.80" x2="609.00" y2="228.85" stroke="#9fbde8" stroke-width="0.9" />
<line x1="607.50" y1="188.80" x2="610.50" y2="188.80" stroke="#9fbde8" stroke-width="0.8" />
<line x1="607.50" y1="228.85" x2="610.50" y2="228.85" stroke="#9fbde8" stroke-width="0.8" />
<line x1="642.00" y1="176.12" x2="642.00" y2="211.72" stroke="#9fbde8" stroke-width="0.9" />
<line x1="640.50" y1="176.12" x2="643.50" y2="176.12" stroke="#9fbde8" stroke-width="0.8" />
<line x1="640.50" y1="211.72" x2="643.50" y2="211.72" stroke="#9fbde8" stroke-width="0.8" />
<line x1="675.00" y1="183.24" x2="675.00" y2="223.29" stroke="#9fbde8" stroke-width="0.9" />
<line x1="673.50" y1="183.24" x2="676.50" y2="183.24" stroke="#9fbde8" stroke-width="0.8" />
<line x1="673.50" y1="223.29" x2="676.50" y2="223.29" stroke="#9fbde8" stroke-width="0.8" />
<line x1="537.00" y1="207.27" x2="537.00" y2="238.42" stroke="#f0acee" stroke-width="0.9" />
<line x1="535.50" y1="207.27" x2="538.50" y2="207.27" stroke="#f0acee" stroke-width="0.8" />
<line x1="535.50" y1="238.42" x2="538.50" y2="238.42" stroke="#f0acee" stroke-width="0.8" />
<line x1="570.00" y1="172.11" x2="570.00" y2="203.26" stroke="#f0acee" stroke-width="0.9" />
<line x1="568.50" y1="172.11" x2="571.50" y2="172.11" stroke="#f0acee" stroke-width="0.8" />
<line x1="568.50" y1="203.26" x2="571.50" y2="203.26" stroke="#f0acee" stroke-width="0.8" />
<line x1="603.00" y1="163.21" x2="603.00" y2="196.59" stroke="#f0acee" stroke-width="0.9" />
<line x1="601.50" y1="163.21" x2="604.50" y2="163.21" stroke="#f0acee" stroke-width="0.8" />
<line x1="601.50" y1="196.59" x2="604.50" y2="196.59" stroke="#f0acee" stroke-width="0.8" />
<line x1="636.00" y1="166.11" x2="636.00" y2="203.93" stroke="#f0acee" stroke-width="0.9" />
<line x1="634.50" y1="166.11" x2="637.50" y2="166.11" stroke="#f0acee" stroke-width="0.8" />
<line x1="634.50" y1="203.93" x2="637.50" y2="203.93" stroke="#f0acee" stroke-width="0.8" />
<line x1="669.00" y1="164.32" x2="669.00" y2="195.47" stroke="#f0acee" stroke-width="0.9" />
<line x1="667.50" y1="164.32" x2="670.50" y2="164.32" stroke="#f0acee" stroke-width="0.8" />
<line x1="667.50" y1="195.47" x2="670.50" y2="195.47" stroke="#f0acee" stroke-width="0.8" />
<line x1="540.40" y1="183.01" x2="540.40" y2="214.16" stroke="#f0acee" stroke-width="0.9" />
<line x1="538.90" y1="183.01" x2="541.90" y2="183.01" stroke="#f0acee" stroke-width="0.8" />
<line x1="538.90" y1="214.16" x2="541.90" y2="214.16" stroke="#f0acee" stroke-width="0.8" />
<line x1="573.40" y1="172.11" x2="573.40" y2="203.26" stroke="#f0acee" stroke-width="0.9" />
<line x1="571.90" y1="172.11" x2="574.90" y2="172.11" stroke="#f0acee" stroke-width="0.8" />
<line x1="571.90" y1="203.26" x2="574.90" y2="203.26" stroke="#f0acee" stroke-width="0.8" />
<line x1="606.40" y1="180.79" x2="606.40" y2="216.39" stroke="#f0acee" stroke-width="0.9" />
<line x1="604.90" y1="180.79" x2="607.90" y2="180.79" stroke="#f0acee" stroke-width="0.8" />
<line x1="604.90" y1="216.39" x2="607.90" y2="216.39" stroke="#f0acee" stroke-width="0.8" />
<line x1="639.40" y1="160.76" x2="639.40" y2="191.91" stroke="#f0acee" stroke-width="0.9" />
<line x1="637.90" y1="160.76" x2="640.90" y2="160.76" stroke="#f0acee" stroke-width="0.8" />
<line x1="637.90" y1="191.91" x2="640.90" y2="191.91" stroke="#f0acee" stroke-width="0.8" />
<line x1="672.40" y1="158.32" x2="672.40" y2="191.69" stroke="#f0acee" stroke-width="0.9" />
<line x1="670.90" y1="158.32" x2="673.90" y2="158.32" stroke="#f0acee" stroke-width="0.8" />
<line x1="670.90" y1="191.69" x2="673.90" y2="191.69" stroke="#f0acee" stroke-width="0.8" />
<line x1="543.80" y1="201.70" x2="543.80" y2="237.31" stroke="#f0acee" stroke-width="0.9" />
<line x1="542.30" y1="201.70" x2="545.30" y2="201.70" stroke="#f0acee" stroke-width="0.8" />
<line x1="542.30" y1="237.31" x2="545.30" y2="237.31" stroke="#f0acee" stroke-width="0.8" />
<line x1="576.80" y1="189.25" x2="576.80" y2="222.62" stroke="#f0acee" stroke-width="0.9" />
<line x1="575.30" y1="189.25" x2="578.30" y2="189.25" stroke="#f0acee" stroke-width="0.8" />
<line x1="575.30" y1="222.62" x2="578.30" y2="222.62" stroke="#f0acee" stroke-width="0.8" />
<line x1="609.80" y1="168.11" x2="609.80" y2="203.71" stroke="#f0acee" stroke-width="0.9" />
<line x1="608.30" y1="168.11" x2="611.30" y2="168.11" stroke="#f0acee" stroke-width="0.8" />
<line x1="608.30" y1="203.71" x2="611.30" y2="203.71" stroke="#f0acee" stroke-width="0.8" />
<line x1="642.80" y1="160.54" x2="642.80" y2="193.92" stroke="#f0acee" stroke-width="0.9" />
<line x1="641.30" y1="160.54" x2="644.30" y2="160.54" stroke="#f0acee" stroke-width="0.8" />
<line x1="641.30" y1="193.92" x2="644.30" y2="193.92" stroke="#f0acee" stroke-width="0.8" />
<line x1="675.80" y1="157.43" x2="675.80" y2="188.58" stroke="#f0acee" stroke-width="0.9" />
<line x1="674.30" y1="157.43" x2="677.30" y2="157.43" stroke="#f0acee" stroke-width="0.8" />
<line x1="674.30" y1="188.58" x2="677.30" y2="188.58" stroke="#f0acee" stroke-width="0.8" />
<polyline points="536.60,216.83 569.60,211.94 602.60,203.26 635.60,215.50 668.60,199.26" fill="none" stroke="#7ea5dd" stroke-width="1.7" />
<polyline points="540.00,201.48 573.00,230.19 606.00,204.82 639.00,189.25 672.00,187.69" fill="none" stroke="#7ea5dd" stroke-width="1.7" stroke-dasharray="5,2.2"/>
<polyline points="543.40,218.17 576.40,192.58 609.40,208.82 642.40,193.92 675.40,203.26" fill="none" stroke="#7ea5dd" stroke-width="1.7" stroke-dasharray="1.1,1.3"/>
<polyline points="536.60,222.84 569.60,187.69 602.60,179.90 635.60,185.02 668.60,179.90" fill="none" stroke="#ef9ae9" stroke-width="1.7" />
<polyline points="540.00,198.59 573.00,187.69 606.00,198.59 639.00,176.34 672.00,175.00" fill="none" stroke="#ef9ae9" stroke-width="1.7" stroke-dasharray="5,2.2"/>
<polyline points="543.40,219.50 576.40,205.93 609.40,185.91 642.40,177.23 675.40,173.00" fill="none" stroke="#ef9ae9" stroke-width="1.7" stroke-dasharray="1.1,1.3"/>
<rect x="530.20" y="151.20" width="152.10" height="123.70" rx="0" fill="none" stroke="#8c8c8c" stroke-width="0.8" />
<line x1="528.20" y1="251.10" x2="530.20" y2="251.10" stroke="#666" stroke-width="0.7" />
<text x="527.40" y="253.62" font-size="7" text-anchor="end" fill="#333" color="#333" font-weight="normal" >0.3</text>
<line x1="528.20" y1="206.60" x2="530.20" y2="206.60" stroke="#666" stroke-width="0.7" />
<text x="527.40" y="209.12" font-size="7" text-anchor="end" fill="#333" color="#333" font-weight="normal" >0.5</text>
<line x1="528.20" y1="162.10" x2="530.20" y2="162.10" stroke="#666" stroke-width="0.7" />
<text x="527.40" y="164.62" font-size="7" text-anchor="end" fill="#333" color="#333" font-weight="normal" >0.7</text>
<text x="541.80" y="282.02" font-size="7" text-anchor="end" fill="#333" color="#333" font-weight="normal" >host 1</text>
<text x="573.00" y="282.02" font-size="7" text-anchor="middle" fill="#333" color="#333" font-weight="normal" >2</text>
<text x="606.00" y="282.02" font-size="7" text-anchor="middle" fill="#333" color="#333" font-weight="normal" >3</text>
<text x="639.00" y="282.02" font-size="7" text-anchor="middle" fill="#333" color="#333" font-weight="normal" >4</text>
<text x="672.00" y="282.02" font-size="7" text-anchor="middle" fill="#333" color="#333" font-weight="normal" >5</text>
<line x1="540.00" y1="274.90" x2="540.00" y2="276.40" stroke="#666" stroke-width="0.6" />
<line x1="573.00" y1="274.90" x2="573.00" y2="276.40" stroke="#666" stroke-width="0.6" />
<line x1="606.00" y1="274.90" x2="606.00" y2="276.40" stroke="#666" stroke-width="0.6" />
<line x1="639.00" y1="274.90" x2="639.00" y2="276.40" stroke="#666" stroke-width="0.6" />
<line x1="672.00" y1="274.90" x2="672.00" y2="276.40" stroke="#666" stroke-width="0.6" />
<text x="510.30" y="152.82" font-size="7.0" text-anchor="start" fill="#222" color="#222" font-weight="normal" >Dice</text>
<line x1="526.60" y1="153.02" x2="526.60" y2="149.38" stroke="#222" stroke-width="0.8" />
<path d="M525.10,149.78 L526.60,147.28 L528.10,149.78Z" fill="#222" stroke="none" stroke-width="0.8" />
<circle cx="575" cy="250.8" r="2.9" fill="#7ea5dd"/>
<circle cx="575" cy="263.3" r="2.9" fill="#ef9ae9"/>
<text x="581.50" y="253.54" font-size="7.6" text-anchor="start" fill="#333" color="#333" font-weight="normal" >sequential</text>
<text x="581.50" y="266.04" font-size="7.6" text-anchor="start" fill="#333" color="#333" font-weight="normal" >Relay</text>
<line x1="626.40" y1="245.20" x2="643.90" y2="245.20" stroke="#222" stroke-width="1.3" />
<text x="648.00" y="247.94" font-size="7.6" text-anchor="start" fill="#333" color="#333" font-weight="normal" >episode1</text>
<line x1="626.40" y1="256.80" x2="643.90" y2="256.80" stroke="#222" stroke-width="1.3" stroke-dasharray="4.5,2"/>
<text x="648.00" y="259.54" font-size="7.6" text-anchor="start" fill="#333" color="#333" font-weight="normal" >episode2</text>
<line x1="626.40" y1="266.00" x2="643.90" y2="266.00" stroke="#222" stroke-width="1.3" stroke-dasharray="1.2,1.2"/>
<text x="648.00" y="268.74" font-size="7.6" text-anchor="start" fill="#333" color="#333" font-weight="normal" >episode3</text>
<text x="6" y="295" font-size="9.6" font-weight="bold" fill="#111" color="#111">g</text>
<text x="18.00" y="303.63" font-size="6.2" text-anchor="start" fill="#222" color="#222" font-weight="normal" >Dice</text>
<line x1="32.70" y1="303.83" x2="32.70" y2="300.77" stroke="#222" stroke-width="0.8" />
<path d="M31.20,301.17 L32.70,298.67 L34.20,301.17Z" fill="#222" stroke="none" stroke-width="0.8" />
<rect x="160.30" y="310.50" width="27.50" height="108.70" rx="0" fill="#dcdcdc" stroke="none" stroke-width="0.8" />
<path d="M44.70,310.50 C45.48,311.78 47.73,315.53 49.40,318.20 C51.07,320.87 53.73,323.75 54.70,326.50 C55.67,329.25 55.45,331.40 55.20,334.70 C54.95,338.00 53.82,341.62 53.20,346.30 C52.58,350.98 52.05,357.30 51.50,362.80 C50.95,368.30 50.45,374.08 49.90,379.30 C49.35,384.52 47.93,389.98 48.20,394.10 C48.47,398.22 50.47,400.97 51.50,404.00 C52.53,407.03 53.87,409.77 54.40,412.30 C54.93,414.83 54.65,418.05 54.70,419.20 L34.70,419.20 C34.75,418.05 34.47,414.83 35.00,412.30 C35.53,409.77 36.87,407.03 37.90,404.00 C38.93,400.97 40.93,398.22 41.20,394.10 C41.47,389.98 40.05,384.52 39.50,379.30 C38.95,374.08 38.45,368.30 37.90,362.80 C37.35,357.30 36.82,350.98 36.20,346.30 C35.58,341.62 34.45,338.00 34.20,334.70 C33.95,331.40 33.73,329.25 34.70,326.50 C35.67,323.75 38.33,320.87 40.00,318.20 C41.67,315.53 43.92,311.78 44.70,310.50Z" fill="#cbeaa8" stroke="#78b246" stroke-width="0.7" />
<circle cx="44.48" cy="314.32" r="0.95" fill="none" stroke="#86c154" stroke-width="0.55" opacity="0.85"/>
<circle cx="45.62" cy="314.74" r="0.95" fill="none" stroke="#86c154" stroke-width="0.55" opacity="0.85"/>
<circle cx="44.23" cy="316.07" r="0.95" fill="none" stroke="#86c154" stroke-width="0.55" opacity="0.85"/>
<circle cx="45.04" cy="315.55" r="0.95" fill="none" stroke="#86c154" stroke-width="0.55" opacity="0.85"/>
<circle cx="44.70" cy="316.70" r="0.95" fill="none" stroke="#86c154" stroke-width="0.55" opacity="0.85"/>
<circle cx="43.65" cy="316.68" r="0.95" fill="none" stroke="#86c154" stroke-width="0.55" opacity="0.85"/>
<circle cx="42.88" cy="318.52" r="0.95" fill="none" stroke="#86c154" stroke-width="0.55" opacity="0.85"/>
<circle cx="46.13" cy="318.73" r="0.95" fill="none" stroke="#86c154" stroke-width="0.55" opacity="0.85"/>
<circle cx="43.35" cy="320.15" r="0.95" fill="none" stroke="#86c154" stroke-width="0.55" opacity="0.85"/>
<circle cx="43.91" cy="319.89" r="0.95" fill="none" stroke="#86c154" stroke-width="0.55" opacity="0.85"/>
<circle cx="45.16" cy="320.98" r="0.95" fill="none" stroke="#86c154" stroke-width="0.55" opacity="0.85"/>
<circle cx="45.61" cy="321.39" r="0.95" fill="none" stroke="#86c154" stroke-width="0.55" opacity="0.85"/>
<circle cx="45.64" cy="322.31" r="0.95" fill="none" stroke="#86c154" stroke-width="0.55" opacity="0.85"/>
<circle cx="46.43" cy="322.55" r="0.95" fill="none" stroke="#86c154" stroke-width="0.55" opacity="0.85"/>
<circle cx="44.10" cy="324.08" r="0.95" fill="none" stroke="#86c154" stroke-width="0.55" opacity="0.85"/>
<circle cx="44.24" cy="323.14" r="0.95" fill="none" stroke="#86c154" stroke-width="0.55" opacity="0.85"/>
<circle cx="46.93" cy="325.34" r="0.95" fill="none" stroke="#86c154" stroke-width="0.55" opacity="0.85"/>
<circle cx="44.87" cy="325.15" r="0.95" fill="none" stroke="#86c154" stroke-width="0.55" opacity="0.85"/>
<circle cx="45.66" cy="325.80" r="0.95" fill="none" stroke="#86c154" stroke-width="0.55" opacity="0.85"/>
<circle cx="46.15" cy="326.33" r="0.95" fill="none" stroke="#86c154" stroke-width="0.55" opacity="0.85"/>
<circle cx="47.04" cy="327.48" r="0.95" fill="none" stroke="#86c154" stroke-width="0.55" opacity="0.85"/>
<circle cx="43.58" cy="327.77" r="0.95" fill="none" stroke="#86c154" stroke-width="0.55" opacity="0.85"/>
<circle cx="44.97" cy="329.17" r="0.95" fill="none" stroke="#86c154" stroke-width="0.55" opacity="0.85"/>
<circle cx="42.38" cy="328.98" r="0.95" fill="none" stroke="#86c154" stroke-width="0.55" opacity="0.85"/>
<circle cx="46.79" cy="329.78" r="0.95" fill="none" stroke="#86c154" stroke-width="0.55" opacity="0.85"/>
<circle cx="42.61" cy="330.09" r="0.95" fill="none" stroke="#86c154" stroke-width="0.55" opacity="0.85"/>
<circle cx="45.49" cy="331.53" r="0.95" fill="none" stroke="#86c154" stroke-width="0.55" opacity="0.85"/>
<circle cx="44.85" cy="331.24" r="0.95" fill="none" stroke="#86c154" stroke-width="0.55" opacity="0.85"/>
<circle cx="45.79" cy="333.19" r="0.95" fill="none" stroke="#86c154" stroke-width="0.55" opacity="0.85"/>
<circle cx="44.73" cy="332.60" r="0.95" fill="none" stroke="#86c154" stroke-width="0.55" opacity="0.85"/>
<circle cx="47.15" cy="333.68" r="0.95" fill="none" stroke="#86c154" stroke-width="0.55" opacity="0.85"/>
<circle cx="45.03" cy="334.34" r="0.95" fill="none" stroke="#86c154" stroke-width="0.55" opacity="0.85"/>
<circle cx="46.21" cy="335.55" r="0.95" fill="none" stroke="#86c154" stroke-width="0.55" opacity="0.85"/>
<circle cx="45.64" cy="335.25" r="0.95" fill="none" stroke="#86c154" stroke-width="0.55" opacity="0.85"/>
<circle cx="47.07" cy="336.10" r="0.95" fill="none" stroke="#86c154" stroke-width="0.55" opacity="0.85"/>
<circle cx="44.31" cy="336.55" r="0.95" fill="none" stroke="#86c154" stroke-width="0.55" opacity="0.85"/>
<circle cx="45.78" cy="337.69" r="0.95" fill="none" stroke="#86c154" stroke-width="0.55" opacity="0.85"/>
<circle cx="43.20" cy="337.85" r="0.95" fill="none" stroke="#86c154" stroke-width="0.55" opacity="0.85"/>
<circle cx="45.36" cy="339.23" r="0.95" fill="none" stroke="#86c154" stroke-width="0.55" opacity="0.85"/>
<circle cx="46.52" cy="339.17" r="0.95" fill="none" stroke="#86c154" stroke-width="0.55" opacity="0.85"/>
<circle cx="43.28" cy="340.64" r="0.95" fill="none" stroke="#86c154" stroke-width="0.55" opacity="0.85"/>
<circle cx="44.17" cy="340.03" r="0.95" fill="none" stroke="#86c154" stroke-width="0.55" opacity="0.85"/>
<circle cx="44.23" cy="341.41" r="0.95" fill="none" stroke="#86c154" stroke-width="0.55" opacity="0.85"/>
<circle cx="45.37" cy="342.20" r="0.95" fill="none" stroke="#86c154" stroke-width="0.55" opacity="0.85"/>
<circle cx="45.82" cy="343.56" r="0.95" fill="none" stroke="#86c154" stroke-width="0.55" opacity="0.85"/>
<circle cx="42.99" cy="343.44" r="0.95" fill="none" stroke="#86c154" stroke-width="0.55" opacity="0.85"/>
<circle cx="45.96" cy="344.14" r="0.95" fill="none" stroke="#86c154" stroke-width="0.55" opacity="0.85"/>
<circle cx="44.57" cy="344.07" r="0.95" fill="none" stroke="#86c154" stroke-width="0.55" opacity="0.85"/>
<circle cx="43.78" cy="345.72" r="0.95" fill="none" stroke="#86c154" stroke-width="0.55" opacity="0.85"/>
<circle cx="44.17" cy="345.59" r="0.95" fill="none" stroke="#86c154" stroke-width="0.55" opacity="0.85"/>
<circle cx="45.71" cy="347.18" r="0.95" fill="none" stroke="#86c154" stroke-width="0.55" opacity="0.85"/>
<circle cx="42.86" cy="347.07" r="0.95" fill="none" stroke="#86c154" stroke-width="0.55" opacity="0.85"/>
<circle cx="46.03" cy="347.83" r="0.95" fill="none" stroke="#86c154" stroke-width="0.55" opacity="0.85"/>
<circle cx="45.89" cy="347.82" r="0.95" fill="none" stroke="#86c154" stroke-width="0.55" opacity="0.85"/>
<circle cx="44.35" cy="349.48" r="0.95" fill="none" stroke="#86c154" stroke-width="0.55" opacity="0.85"/>
<circle cx="42.40" cy="349.17" r="0.95" fill="none" stroke="#86c154" stroke-width="0.55" opacity="0.85"/>
<circle cx="45.52" cy="350.67" r="0.95" fill="none" stroke="#86c154" stroke-width="0.55" opacity="0.85"/>
<circle cx="44.79" cy="350.56" r="0.95" fill="none" stroke="#86c154" stroke-width="0.55" opacity="0.85"/>
<circle cx="45.26" cy="352.64" r="0.95" fill="none" stroke="#86c154" stroke-width="0.55" opacity="0.85"/>
<circle cx="45.91" cy="352.07" r="0.95" fill="none" stroke="#86c154" stroke-width="0.55" opacity="0.85"/>
<circle cx="46.90" cy="353.35" r="0.95" fill="none" stroke="#86c154" stroke-width="0.55" opacity="0.85"/>
<circle cx="43.64" cy="353.42" r="0.95" fill="none" stroke="#86c154" stroke-width="0.55" opacity="0.85"/>
<circle cx="47.03" cy="354.69" r="0.95" fill="none" stroke="#86c154" stroke-width="0.55" opacity="0.85"/>
<circle cx="43.70" cy="354.84" r="0.95" fill="none" stroke="#86c154" stroke-width="0.55" opacity="0.85"/>
<circle cx="45.35" cy="356.36" r="0.95" fill="none" stroke="#86c154" stroke-width="0.55" opacity="0.85"/>
<circle cx="45.71" cy="356.27" r="0.95" fill="none" stroke="#86c154" stroke-width="0.55" opacity="0.85"/>
<circle cx="44.28" cy="357.34" r="0.95" fill="none" stroke="#86c154" stroke-width="0.55" opacity="0.85"/>
<circle cx="47.01" cy="357.39" r="0.95" fill="none" stroke="#86c154" stroke-width="0.55" opacity="0.85"/>
<circle cx="45.95" cy="358.56" r="0.95" fill="none" stroke="#86c154" stroke-width="0.55" opacity="0.85"/>
<circle cx="42.35" cy="358.59" r="0.95" fill="none" stroke="#86c154" stroke-width="0.55" opacity="0.85"/>
<circle cx="44.81" cy="359.90" r="0.95" fill="none" stroke="#86c154" stroke-width="0.55" opacity="0.85"/>
<circle cx="43.31" cy="359.66" r="0.95" fill="none" stroke="#86c154" stroke-width="0.55" opacity="0.85"/>
<circle cx="42.54" cy="361.51" r="0.95" fill="none" stroke="#86c154" stroke-width="0.55" opacity="0.85"/>
<circle cx="44.83" cy="361.62" r="0.95" fill="none" stroke="#86c154" stroke-width="0.55" opacity="0.85"/>
<circle cx="46.44" cy="362.85" r="0.95" fill="none" stroke="#86c154" stroke-width="0.55" opacity="0.85"/>
<circle cx="46.11" cy="363.00" r="0.95" fill="none" stroke="#86c154" stroke-width="0.55" opacity="0.85"/>
<circle cx="46.69" cy="364.22" r="0.95" fill="none" stroke="#86c154" stroke-width="0.55" opacity="0.85"/>
<circle cx="46.60" cy="363.75" r="0.95" fill="none" stroke="#86c154" stroke-width="0.55" opacity="0.85"/>
<circle cx="47.08" cy="365.59" r="0.95" fill="none" stroke="#86c154" stroke-width="0.55" opacity="0.85"/>
<circle cx="46.20" cy="365.55" r="0.95" fill="none" stroke="#86c154" stroke-width="0.55" opacity="0.85"/>
<circle cx="45.88" cy="366.57" r="0.95" fill="none" stroke="#86c154" stroke-width="0.55" opacity="0.85"/>
<circle cx="44.79" cy="366.93" r="0.95" fill="none" stroke="#86c154" stroke-width="0.55" opacity="0.85"/>
<circle cx="43.68" cy="367.94" r="0.95" fill="none" stroke="#86c154" stroke-width="0.55" opacity="0.85"/>
<circle cx="46.78" cy="367.57" r="0.95" fill="none" stroke="#86c154" stroke-width="0.55" opacity="0.85"/>
<circle cx="43.05" cy="368.91" r="0.95" fill="none" stroke="#86c154" stroke-width="0.55" opacity="0.85"/>
<circle cx="44.42" cy="369.11" r="0.95" fill="none" stroke="#86c154" stroke-width="0.55" opacity="0.85"/>
<circle cx="43.42" cy="370.14" r="0.95" fill="none" stroke="#86c154" stroke-width="0.55" opacity="0.85"/>
<circle cx="43.00" cy="370.37" r="0.95" fill="none" stroke="#86c154" stroke-width="0.55" opacity="0.85"/>
<circle cx="42.98" cy="371.55" r="0.95" fill="none" stroke="#86c154" stroke-width="0.55" opacity="0.85"/>
<circle cx="43.13" cy="371.83" r="0.95" fill="none" stroke="#86c154" stroke-width="0.55" opacity="0.85"/>
<circle cx="45.28" cy="372.73" r="0.95" fill="none" stroke="#86c154" stroke-width="0.55" opacity="0.85"/>
<circle cx="47.10" cy="372.78" r="0.95" fill="none" stroke="#86c154" stroke-width="0.55" opacity="0.85"/>
<circle cx="46.65" cy="374.10" r="0.95" fill="none" stroke="#86c154" stroke-width="0.55" opacity="0.85"/>
<circle cx="44.99" cy="374.39" r="0.95" fill="none" stroke="#86c154" stroke-width="0.55" opacity="0.85"/>
<circle cx="45.08" cy="375.44" r="0.95" fill="none" stroke="#86c154" stroke-width="0.55" opacity="0.85"/>
<circle cx="46.10" cy="375.72" r="0.95" fill="none" stroke="#86c154" stroke-width="0.55" opacity="0.85"/>
<circle cx="44.99" cy="376.88" r="0.95" fill="none" stroke="#86c154" stroke-width="0.55" opacity="0.85"/>
<circle cx="43.66" cy="376.81" r="0.95" fill="none" stroke="#86c154" stroke-width="0.55" opacity="0.85"/>
<circle cx="45.82" cy="378.41" r="0.95" fill="none" stroke="#86c154" stroke-width="0.55" opacity="0.85"/>
<circle cx="47.06" cy="378.43" r="0.95" fill="none" stroke="#86c154" stroke-width="0.55" opacity="0.85"/>
<circle cx="46.99" cy="379.33" r="0.95" fill="none" stroke="#86c154" stroke-width="0.55" opacity="0.85"/>
<circle cx="43.66" cy="380.00" r="0.95" fill="none" stroke="#86c154" stroke-width="0.55" opacity="0.85"/>
<circle cx="44.36" cy="380.88" r="0.95" fill="none" stroke="#86c154" stroke-width="0.55" opacity="0.85"/>
<circle cx="46.37" cy="380.43" r="0.95" fill="none" stroke="#86c154" stroke-width="0.55" opacity="0.85"/>
<circle cx="43.03" cy="382.07" r="0.95" fill="none" stroke="#86c154" stroke-width="0.55" opacity="0.85"/>
<circle cx="43.38" cy="381.66" r="0.95" fill="none" stroke="#86c154" stroke-width="0.55" opacity="0.85"/>
<circle cx="45.60" cy="383.45" r="0.95" fill="none" stroke="#86c154" stroke-width="0.55" opacity="0.85"/>
<circle cx="44.51" cy="383.54" r="0.95" fill="none" stroke="#86c154" stroke-width="0.55" opacity="0.85"/>
<circle cx="43.90" cy="384.60" r="0.95" fill="none" stroke="#86c154" stroke-width="0.55" opacity="0.85"/>
<circle cx="44.02" cy="384.84" r="0.95" fill="none" stroke="#86c154" stroke-width="0.55" opacity="0.85"/>
<circle cx="44.53" cy="386.08" r="0.95" fill="none" stroke="#86c154" stroke-width="0.55" opacity="0.85"/>
<circle cx="44.90" cy="386.07" r="0.95" fill="none" stroke="#86c154" stroke-width="0.55" opacity="0.85"/>
<circle cx="42.95" cy="387.58" r="0.95" fill="none" stroke="#86c154" stroke-width="0.55" opacity="0.85"/>
<circle cx="46.27" cy="386.87" r="0.95" fill="none" stroke="#86c154" stroke-width="0.55" opacity="0.85"/>
<circle cx="45.60" cy="388.67" r="0.95" fill="none" stroke="#86c154" stroke-width="0.55" opacity="0.85"/>
<circle cx="45.60" cy="388.12" r="0.95" fill="none" stroke="#86c154" stroke-width="0.55" opacity="0.85"/>
<circle cx="43.03" cy="389.94" r="0.95" fill="none" stroke="#86c154" stroke-width="0.55" opacity="0.85"/>
<circle cx="44.89" cy="389.51" r="0.95" fill="none" stroke="#86c154" stroke-width="0.55" opacity="0.85"/>
<circle cx="45.65" cy="390.80" r="0.95" fill="none" stroke="#86c154" stroke-width="0.55" opacity="0.85"/>
<circle cx="46.05" cy="391.50" r="0.95" fill="none" stroke="#86c154" stroke-width="0.55" opacity="0.85"/>
<circle cx="45.44" cy="392.86" r="0.95" fill="none" stroke="#86c154" stroke-width="0.55" opacity="0.85"/>
<circle cx="44.01" cy="392.61" r="0.95" fill="none" stroke="#86c154" stroke-width="0.55" opacity="0.85"/>
<circle cx="43.18" cy="394.05" r="0.95" fill="none" stroke="#86c154" stroke-width="0.55" opacity="0.85"/>
<circle cx="43.69" cy="393.35" r="0.95" fill="none" stroke="#86c154" stroke-width="0.55" opacity="0.85"/>
<circle cx="45.60" cy="394.66" r="0.95" fill="none" stroke="#86c154" stroke-width="0.55" opacity="0.85"/>
<circle cx="45.19" cy="395.56" r="0.95" fill="none" stroke="#86c154" stroke-width="0.55" opacity="0.85"/>
<circle cx="44.86" cy="396.45" r="0.95" fill="none" stroke="#86c154" stroke-width="0.55" opacity="0.85"/>
<circle cx="45.70" cy="396.64" r="0.95" fill="none" stroke="#86c154" stroke-width="0.55" opacity="0.85"/>
<circle cx="44.70" cy="397.25" r="0.95" fill="none" stroke="#86c154" stroke-width="0.55" opacity="0.85"/>
<circle cx="46.75" cy="397.93" r="0.95" fill="none" stroke="#86c154" stroke-width="0.55" opacity="0.85"/>
<circle cx="44.60" cy="399.17" r="0.95" fill="none" stroke="#86c154" stroke-width="0.55" opacity="0.85"/>
<circle cx="43.55" cy="398.73" r="0.95" fill="none" stroke="#86c154" stroke-width="0.55" opacity="0.85"/>
<circle cx="42.49" cy="400.20" r="0.95" fill="none" stroke="#86c154" stroke-width="0.55" opacity="0.85"/>
<circle cx="45.02" cy="399.90" r="0.95" fill="none" stroke="#86c154" stroke-width="0.55" opacity="0.85"/>
<circle cx="43.19" cy="401.49" r="0.95" fill="none" stroke="#86c154" stroke-width="0.55" opacity="0.85"/>
<circle cx="42.30" cy="401.91" r="0.95" fill="none" stroke="#86c154" stroke-width="0.55" opacity="0.85"/>
<circle cx="43.08" cy="403.31" r="0.95" fill="none" stroke="#86c154" stroke-width="0.55" opacity="0.85"/>
<circle cx="45.04" cy="402.71" r="0.95" fill="none" stroke="#86c154" stroke-width="0.55" opacity="0.85"/>
<circle cx="42.64" cy="404.33" r="0.95" fill="none" stroke="#86c154" stroke-width="0.55" opacity="0.85"/>
<circle cx="42.58" cy="404.03" r="0.95" fill="none" stroke="#86c154" stroke-width="0.55" opacity="0.85"/>
<circle cx="47.09" cy="405.83" r="0.95" fill="none" stroke="#86c154" stroke-width="0.55" opacity="0.85"/>
<circle cx="45.71" cy="405.58" r="0.95" fill="none" stroke="#86c154" stroke-width="0.55" opacity="0.85"/>
<circle cx="45.27" cy="407.04" r="0.95" fill="none" stroke="#86c154" stroke-width="0.55" opacity="0.85"/>
<circle cx="46.51" cy="406.40" r="0.95" fill="none" stroke="#86c154" stroke-width="0.55" opacity="0.85"/>
<circle cx="46.60" cy="408.58" r="0.95" fill="none" stroke="#86c154" stroke-width="0.55" opacity="0.85"/>
<circle cx="45.10" cy="407.93" r="0.95" fill="none" stroke="#86c154" stroke-width="0.55" opacity="0.85"/>
<circle cx="42.55" cy="409.24" r="0.95" fill="none" stroke="#86c154" stroke-width="0.55" opacity="0.85"/>
<circle cx="42.47" cy="409.58" r="0.95" fill="none" stroke="#86c154" stroke-width="0.55" opacity="0.85"/>
<circle cx="45.16" cy="410.93" r="0.95" fill="none" stroke="#86c154" stroke-width="0.55" opacity="0.85"/>
<circle cx="46.47" cy="410.52" r="0.95" fill="none" stroke="#86c154" stroke-width="0.55" opacity="0.85"/>
<circle cx="45.90" cy="412.24" r="0.95" fill="none" stroke="#86c154" stroke-width="0.55" opacity="0.85"/>
<circle cx="44.98" cy="411.56" r="0.95" fill="none" stroke="#86c154" stroke-width="0.55" opacity="0.85"/>
<circle cx="46.48" cy="413.35" r="0.95" fill="none" stroke="#86c154" stroke-width="0.55" opacity="0.85"/>
<circle cx="44.53" cy="413.65" r="0.95" fill="none" stroke="#86c154" stroke-width="0.55" opacity="0.85"/>
<circle cx="42.82" cy="414.13" r="0.95" fill="none" stroke="#86c154" stroke-width="0.55" opacity="0.85"/>
<circle cx="45.51" cy="414.82" r="0.95" fill="none" stroke="#86c154" stroke-width="0.55" opacity="0.85"/>
<circle cx="44.85" cy="415.96" r="0.95" fill="none" stroke="#86c154" stroke-width="0.55" opacity="0.85"/>
<circle cx="46.04" cy="416.23" r="0.95" fill="none" stroke="#86c154" stroke-width="0.55" opacity="0.85"/>
<circle cx="45.43" cy="417.43" r="0.95" fill="none" stroke="#86c154" stroke-width="0.55" opacity="0.85"/>
<circle cx="44.74" cy="416.87" r="0.95" fill="none" stroke="#86c154" stroke-width="0.55" opacity="0.85"/>
<circle cx="35.44" cy="418.60" r="0.8" fill="none" stroke="#86c154" stroke-width="0.5"/>
<circle cx="37.24" cy="418.60" r="0.8" fill="none" stroke="#86c154" stroke-width="0.5"/>
<circle cx="39.73" cy="418.60" r="0.8" fill="none" stroke="#86c154" stroke-width="0.5"/>
<circle cx="42.46" cy="418.60" r="0.8" fill="none" stroke="#86c154" stroke-width="0.5"/>
<circle cx="44.69" cy="418.60" r="0.8" fill="none" stroke="#86c154" stroke-width="0.5"/>
<circle cx="47.51" cy="418.60" r="0.8" fill="none" stroke="#86c154" stroke-width="0.5"/>
<circle cx="49.44" cy="418.60" r="0.8" fill="none" stroke="#86c154" stroke-width="0.5"/>
<circle cx="51.99" cy="418.60" r="0.8" fill="none" stroke="#86c154" stroke-width="0.5"/>
<circle cx="54.15" cy="418.60" r="0.8" fill="none" stroke="#86c154" stroke-width="0.5"/>
<line x1="35.27" y1="338.00" x2="54.13" y2="338.00" stroke="#58a536" stroke-width="1.1" stroke-dasharray="1.2,1.0"/>
<line x1="41.36" y1="391.10" x2="48.04" y2="391.10" stroke="#58a536" stroke-width="1.1" stroke-dasharray="1.2,1.0"/>
<line x1="38.16" y1="362.40" x2="51.24" y2="362.40" stroke="#2f7a1b" stroke-width="1.6" />
<path d="M70.40,310.50 C71.12,311.78 73.43,315.53 74.70,318.20 C75.97,320.87 77.65,323.75 78.00,326.50 C78.35,329.25 77.20,331.95 76.80,334.70 C76.40,337.45 75.73,339.70 75.60,343.00 C75.47,346.30 76.08,350.38 76.00,354.50 C75.92,358.62 75.17,363.30 75.10,367.70 C75.03,372.10 75.72,375.95 75.60,380.90 C75.48,385.85 74.05,393.00 74.40,397.40 C74.75,401.80 76.70,404.55 77.70,407.30 C78.70,410.05 79.83,411.92 80.40,413.90 C80.97,415.88 80.98,418.32 81.10,419.20 L59.70,419.20 C59.82,418.32 59.83,415.88 60.40,413.90 C60.97,411.92 62.10,410.05 63.10,407.30 C64.10,404.55 66.05,401.80 66.40,397.40 C66.75,393.00 65.32,385.85 65.20,380.90 C65.08,375.95 65.77,372.10 65.70,367.70 C65.63,363.30 64.88,358.62 64.80,354.50 C64.72,350.38 65.33,346.30 65.20,343.00 C65.07,339.70 64.40,337.45 64.00,334.70 C63.60,331.95 62.45,329.25 62.80,326.50 C63.15,323.75 64.83,320.87 66.10,318.20 C67.37,315.53 69.68,311.78 70.40,310.50Z" fill="#b4e6cc" stroke="#3fae74" stroke-width="0.7" />
<circle cx="71.28" cy="314.98" r="0.95" fill="none" stroke="#3fb077" stroke-width="0.55" opacity="0.85"/>
<circle cx="69.71" cy="314.92" r="0.95" fill="none" stroke="#3fb077" stroke-width="0.55" opacity="0.85"/>
<circle cx="70.97" cy="315.31" r="0.95" fill="none" stroke="#3fb077" stroke-width="0.55" opacity="0.85"/>
<circle cx="69.36" cy="315.74" r="0.95" fill="none" stroke="#3fb077" stroke-width="0.55" opacity="0.85"/>
<circle cx="71.69" cy="317.47" r="0.95" fill="none" stroke="#3fb077" stroke-width="0.55" opacity="0.85"/>
<circle cx="69.57" cy="317.05" r="0.95" fill="none" stroke="#3fb077" stroke-width="0.55" opacity="0.85"/>
<circle cx="72.08" cy="318.11" r="0.95" fill="none" stroke="#3fb077" stroke-width="0.55" opacity="0.85"/>
<circle cx="68.84" cy="318.31" r="0.95" fill="none" stroke="#3fb077" stroke-width="0.55" opacity="0.85"/>
<circle cx="71.20" cy="320.07" r="0.95" fill="none" stroke="#3fb077" stroke-width="0.55" opacity="0.85"/>
<circle cx="72.06" cy="319.21" r="0.95" fill="none" stroke="#3fb077" stroke-width="0.55" opacity="0.85"/>
<circle cx="68.84" cy="320.63" r="0.95" fill="none" stroke="#3fb077" stroke-width="0.55" opacity="0.85"/>
<circle cx="70.86" cy="320.91" r="0.95" fill="none" stroke="#3fb077" stroke-width="0.55" opacity="0.85"/>
<circle cx="72.43" cy="322.42" r="0.95" fill="none" stroke="#3fb077" stroke-width="0.55" opacity="0.85"/>
<circle cx="70.95" cy="322.49" r="0.95" fill="none" stroke="#3fb077" stroke-width="0.55" opacity="0.85"/>
<circle cx="68.98" cy="323.99" r="0.95" fill="none" stroke="#3fb077" stroke-width="0.55" opacity="0.85"/>
<circle cx="72.13" cy="323.92" r="0.95" fill="none" stroke="#3fb077" stroke-width="0.55" opacity="0.85"/>
<circle cx="71.76" cy="324.57" r="0.95" fill="none" stroke="#3fb077" stroke-width="0.55" opacity="0.85"/>
<circle cx="68.26" cy="324.76" r="0.95" fill="none" stroke="#3fb077" stroke-width="0.55" opacity="0.85"/>
<circle cx="71.44" cy="325.90" r="0.95" fill="none" stroke="#3fb077" stroke-width="0.55" opacity="0.85"/>
<circle cx="72.17" cy="326.56" r="0.95" fill="none" stroke="#3fb077" stroke-width="0.55" opacity="0.85"/>
<circle cx="71.34" cy="327.48" r="0.95" fill="none" stroke="#3fb077" stroke-width="0.55" opacity="0.85"/>
<circle cx="68.72" cy="327.81" r="0.95" fill="none" stroke="#3fb077" stroke-width="0.55" opacity="0.85"/>
<circle cx="68.83" cy="328.80" r="0.95" fill="none" stroke="#3fb077" stroke-width="0.55" opacity="0.85"/>
<circle cx="71.64" cy="328.94" r="0.95" fill="none" stroke="#3fb077" stroke-width="0.55" opacity="0.85"/>
<circle cx="69.13" cy="330.48" r="0.95" fill="none" stroke="#3fb077" stroke-width="0.55" opacity="0.85"/>
<circle cx="69.54" cy="330.02" r="0.95" fill="none" stroke="#3fb077" stroke-width="0.55" opacity="0.85"/>
<circle cx="70.10" cy="331.60" r="0.95" fill="none" stroke="#3fb077" stroke-width="0.55" opacity="0.85"/>
<circle cx="68.19" cy="331.54" r="0.95" fill="none" stroke="#3fb077" stroke-width="0.55" opacity="0.85"/>
<circle cx="70.34" cy="333.00" r="0.95" fill="none" stroke="#3fb077" stroke-width="0.55" opacity="0.85"/>
<circle cx="69.76" cy="332.77" r="0.95" fill="none" stroke="#3fb077" stroke-width="0.55" opacity="0.85"/>
<circle cx="72.64" cy="333.56" r="0.95" fill="none" stroke="#3fb077" stroke-width="0.55" opacity="0.85"/>
<circle cx="71.80" cy="333.97" r="0.95" fill="none" stroke="#3fb077" stroke-width="0.55" opacity="0.85"/>
<circle cx="69.44" cy="335.07" r="0.95" fill="none" stroke="#3fb077" stroke-width="0.55" opacity="0.85"/>
<circle cx="69.04" cy="335.64" r="0.95" fill="none" stroke="#3fb077" stroke-width="0.55" opacity="0.85"/>
<circle cx="68.97" cy="337.06" r="0.95" fill="none" stroke="#3fb077" stroke-width="0.55" opacity="0.85"/>
<circle cx="70.48" cy="336.39" r="0.95" fill="none" stroke="#3fb077" stroke-width="0.55" opacity="0.85"/>
<circle cx="71.76" cy="337.98" r="0.95" fill="none" stroke="#3fb077" stroke-width="0.55" opacity="0.85"/>
<circle cx="72.25" cy="337.54" r="0.95" fill="none" stroke="#3fb077" stroke-width="0.55" opacity="0.85"/>
<circle cx="71.32" cy="338.73" r="0.95" fill="none" stroke="#3fb077" stroke-width="0.55" opacity="0.85"/>
<circle cx="68.88" cy="339.11" r="0.95" fill="none" stroke="#3fb077" stroke-width="0.55" opacity="0.85"/>
<circle cx="69.50" cy="340.28" r="0.95" fill="none" stroke="#3fb077" stroke-width="0.55" opacity="0.85"/>
<circle cx="70.73" cy="340.75" r="0.95" fill="none" stroke="#3fb077" stroke-width="0.55" opacity="0.85"/>
<circle cx="70.00" cy="341.81" r="0.95" fill="none" stroke="#3fb077" stroke-width="0.55" opacity="0.85"/>
<circle cx="71.75" cy="341.53" r="0.95" fill="none" stroke="#3fb077" stroke-width="0.55" opacity="0.85"/>
<circle cx="72.73" cy="342.62" r="0.95" fill="none" stroke="#3fb077" stroke-width="0.55" opacity="0.85"/>
<circle cx="69.80" cy="343.43" r="0.95" fill="none" stroke="#3fb077" stroke-width="0.55" opacity="0.85"/>
<circle cx="69.15" cy="344.23" r="0.95" fill="none" stroke="#3fb077" stroke-width="0.55" opacity="0.85"/>
<circle cx="68.85" cy="344.87" r="0.95" fill="none" stroke="#3fb077" stroke-width="0.55" opacity="0.85"/>
<circle cx="72.19" cy="345.28" r="0.95" fill="none" stroke="#3fb077" stroke-width="0.55" opacity="0.85"/>
<circle cx="70.58" cy="345.35" r="0.95" fill="none" stroke="#3fb077" stroke-width="0.55" opacity="0.85"/>
<circle cx="68.09" cy="346.72" r="0.95" fill="none" stroke="#3fb077" stroke-width="0.55" opacity="0.85"/>
<circle cx="71.37" cy="347.03" r="0.95" fill="none" stroke="#3fb077" stroke-width="0.55" opacity="0.85"/>
<circle cx="69.38" cy="348.38" r="0.95" fill="none" stroke="#3fb077" stroke-width="0.55" opacity="0.85"/>
<circle cx="68.40" cy="348.14" r="0.95" fill="none" stroke="#3fb077" stroke-width="0.55" opacity="0.85"/>
<circle cx="68.47" cy="349.92" r="0.95" fill="none" stroke="#3fb077" stroke-width="0.55" opacity="0.85"/>
<circle cx="69.84" cy="349.82" r="0.95" fill="none" stroke="#3fb077" stroke-width="0.55" opacity="0.85"/>
<circle cx="69.61" cy="350.82" r="0.95" fill="none" stroke="#3fb077" stroke-width="0.55" opacity="0.85"/>
<circle cx="70.76" cy="350.66" r="0.95" fill="none" stroke="#3fb077" stroke-width="0.55" opacity="0.85"/>
<circle cx="70.63" cy="352.47" r="0.95" fill="none" stroke="#3fb077" stroke-width="0.55" opacity="0.85"/>
<circle cx="68.36" cy="351.90" r="0.95" fill="none" stroke="#3fb077" stroke-width="0.55" opacity="0.85"/>
<circle cx="68.10" cy="353.49" r="0.95" fill="none" stroke="#3fb077" stroke-width="0.55" opacity="0.85"/>
<circle cx="68.53" cy="353.52" r="0.95" fill="none" stroke="#3fb077" stroke-width="0.55" opacity="0.85"/>
<circle cx="68.77" cy="354.83" r="0.95" fill="none" stroke="#3fb077" stroke-width="0.55" opacity="0.85"/>
<circle cx="69.35" cy="355.05" r="0.95" fill="none" stroke="#3fb077" stroke-width="0.55" opacity="0.85"/>
<circle cx="71.91" cy="356.56" r="0.95" fill="none" stroke="#3fb077" stroke-width="0.55" opacity="0.85"/>
<circle cx="70.22" cy="356.49" r="0.95" fill="none" stroke="#3fb077" stroke-width="0.55" opacity="0.85"/>
<circle cx="72.14" cy="357.24" r="0.95" fill="none" stroke="#3fb077" stroke-width="0.55" opacity="0.85"/>
<circle cx="72.71" cy="357.86" r="0.95" fill="none" stroke="#3fb077" stroke-width="0.55" opacity="0.85"/>
<circle cx="68.76" cy="358.95" r="0.95" fill="none" stroke="#3fb077" stroke-width="0.55" opacity="0.85"/>
<circle cx="71.30" cy="358.82" r="0.95" fill="none" stroke="#3fb077" stroke-width="0.55" opacity="0.85"/>
<circle cx="71.39" cy="359.78" r="0.95" fill="none" stroke="#3fb077" stroke-width="0.55" opacity="0.85"/>
<circle cx="71.97" cy="360.22" r="0.95" fill="none" stroke="#3fb077" stroke-width="0.55" opacity="0.85"/>
<circle cx="68.94" cy="361.77" r="0.95" fill="none" stroke="#3fb077" stroke-width="0.55" opacity="0.85"/>
<circle cx="71.48" cy="360.86" r="0.95" fill="none" stroke="#3fb077" stroke-width="0.55" opacity="0.85"/>
<circle cx="68.28" cy="362.27" r="0.95" fill="none" stroke="#3fb077" stroke-width="0.55" opacity="0.85"/>
<circle cx="71.14" cy="362.82" r="0.95" fill="none" stroke="#3fb077" stroke-width="0.55" opacity="0.85"/>
<circle cx="72.32" cy="364.28" r="0.95" fill="none" stroke="#3fb077" stroke-width="0.55" opacity="0.85"/>
<circle cx="69.08" cy="363.59" r="0.95" fill="none" stroke="#3fb077" stroke-width="0.55" opacity="0.85"/>
<circle cx="68.58" cy="365.09" r="0.95" fill="none" stroke="#3fb077" stroke-width="0.55" opacity="0.85"/>
<circle cx="70.06" cy="365.08" r="0.95" fill="none" stroke="#3fb077" stroke-width="0.55" opacity="0.85"/>
<circle cx="71.78" cy="366.61" r="0.95" fill="none" stroke="#3fb077" stroke-width="0.55" opacity="0.85"/>
<circle cx="71.71" cy="366.86" r="0.95" fill="none" stroke="#3fb077" stroke-width="0.55" opacity="0.85"/>
<circle cx="71.52" cy="367.81" r="0.95" fill="none" stroke="#3fb077" stroke-width="0.55" opacity="0.85"/>
<circle cx="70.02" cy="367.84" r="0.95" fill="none" stroke="#3fb077" stroke-width="0.55" opacity="0.85"/>
<circle cx="70.23" cy="369.27" r="0.95" fill="none" stroke="#3fb077" stroke-width="0.55" opacity="0.85"/>
<circle cx="71.91" cy="369.28" r="0.95" fill="none" stroke="#3fb077" stroke-width="0.55" opacity="0.85"/>
<circle cx="69.34" cy="370.46" r="0.95" fill="none" stroke="#3fb077" stroke-width="0.55" opacity="0.85"/>
<circle cx="70.21" cy="370.02" r="0.95" fill="none" stroke="#3fb077" stroke-width="0.55" opacity="0.85"/>
<circle cx="68.68" cy="371.65" r="0.95" fill="none" stroke="#3fb077" stroke-width="0.55" opacity="0.85"/>
<circle cx="72.33" cy="371.90" r="0.95" fill="none" stroke="#3fb077" stroke-width="0.55" opacity="0.85"/>
<circle cx="68.44" cy="373.42" r="0.95" fill="none" stroke="#3fb077" stroke-width="0.55" opacity="0.85"/>
<circle cx="71.39" cy="373.10" r="0.95" fill="none" stroke="#3fb077" stroke-width="0.55" opacity="0.85"/>
<circle cx="68.20" cy="374.11" r="0.95" fill="none" stroke="#3fb077" stroke-width="0.55" opacity="0.85"/>
<circle cx="69.66" cy="374.28" r="0.95" fill="none" stroke="#3fb077" stroke-width="0.55" opacity="0.85"/>
<circle cx="68.70" cy="375.73" r="0.95" fill="none" stroke="#3fb077" stroke-width="0.55" opacity="0.85"/>
<circle cx="70.90" cy="375.74" r="0.95" fill="none" stroke="#3fb077" stroke-width="0.55" opacity="0.85"/>
<circle cx="70.37" cy="376.96" r="0.95" fill="none" stroke="#3fb077" stroke-width="0.55" opacity="0.85"/>
<circle cx="68.64" cy="377.23" r="0.95" fill="none" stroke="#3fb077" stroke-width="0.55" opacity="0.85"/>
<circle cx="72.09" cy="378.55" r="0.95" fill="none" stroke="#3fb077" stroke-width="0.55" opacity="0.85"/>
<circle cx="71.63" cy="377.94" r="0.95" fill="none" stroke="#3fb077" stroke-width="0.55" opacity="0.85"/>
<circle cx="69.45" cy="379.05" r="0.95" fill="none" stroke="#3fb077" stroke-width="0.55" opacity="0.85"/>
<circle cx="71.72" cy="379.86" r="0.95" fill="none" stroke="#3fb077" stroke-width="0.55" opacity="0.85"/>
<circle cx="72.44" cy="380.90" r="0.95" fill="none" stroke="#3fb077" stroke-width="0.55" opacity="0.85"/>
<circle cx="71.80" cy="381.15" r="0.95" fill="none" stroke="#3fb077" stroke-width="0.55" opacity="0.85"/>
<circle cx="68.65" cy="381.67" r="0.95" fill="none" stroke="#3fb077" stroke-width="0.55" opacity="0.85"/>
<circle cx="72.13" cy="382.57" r="0.95" fill="none" stroke="#3fb077" stroke-width="0.55" opacity="0.85"/>
<circle cx="71.38" cy="383.52" r="0.95" fill="none" stroke="#3fb077" stroke-width="0.55" opacity="0.85"/>
<circle cx="69.93" cy="383.76" r="0.95" fill="none" stroke="#3fb077" stroke-width="0.55" opacity="0.85"/>
<circle cx="69.45" cy="384.25" r="0.95" fill="none" stroke="#3fb077" stroke-width="0.55" opacity="0.85"/>
<circle cx="71.75" cy="384.26" r="0.95" fill="none" stroke="#3fb077" stroke-width="0.55" opacity="0.85"/>
<circle cx="71.34" cy="386.15" r="0.95" fill="none" stroke="#3fb077" stroke-width="0.55" opacity="0.85"/>
<circle cx="68.71" cy="385.94" r="0.95" fill="none" stroke="#3fb077" stroke-width="0.55" opacity="0.85"/>
<circle cx="69.43" cy="387.61" r="0.95" fill="none" stroke="#3fb077" stroke-width="0.55" opacity="0.85"/>
<circle cx="71.58" cy="387.13" r="0.95" fill="none" stroke="#3fb077" stroke-width="0.55" opacity="0.85"/>
<circle cx="68.96" cy="388.44" r="0.95" fill="none" stroke="#3fb077" stroke-width="0.55" opacity="0.85"/>
<circle cx="70.15" cy="388.71" r="0.95" fill="none" stroke="#3fb077" stroke-width="0.55" opacity="0.85"/>
<circle cx="72.23" cy="389.72" r="0.95" fill="none" stroke="#3fb077" stroke-width="0.55" opacity="0.85"/>
<circle cx="68.96" cy="390.03" r="0.95" fill="none" stroke="#3fb077" stroke-width="0.55" opacity="0.85"/>
<circle cx="70.10" cy="391.44" r="0.95" fill="none" stroke="#3fb077" stroke-width="0.55" opacity="0.85"/>
<circle cx="71.05" cy="391.25" r="0.95" fill="none" stroke="#3fb077" stroke-width="0.55" opacity="0.85"/>
<circle cx="71.64" cy="392.20" r="0.95" fill="none" stroke="#3fb077" stroke-width="0.55" opacity="0.85"/>
<circle cx="71.51" cy="392.18" r="0.95" fill="none" stroke="#3fb077" stroke-width="0.55" opacity="0.85"/>
<circle cx="70.32" cy="393.86" r="0.95" fill="none" stroke="#3fb077" stroke-width="0.55" opacity="0.85"/>
<circle cx="70.57" cy="393.41" r="0.95" fill="none" stroke="#3fb077" stroke-width="0.55" opacity="0.85"/>
<circle cx="70.25" cy="394.88" r="0.95" fill="none" stroke="#3fb077" stroke-width="0.55" opacity="0.85"/>
<circle cx="69.56" cy="395.02" r="0.95" fill="none" stroke="#3fb077" stroke-width="0.55" opacity="0.85"/>
<circle cx="70.08" cy="396.11" r="0.95" fill="none" stroke="#3fb077" stroke-width="0.55" opacity="0.85"/>
<circle cx="71.08" cy="396.83" r="0.95" fill="none" stroke="#3fb077" stroke-width="0.55" opacity="0.85"/>
<circle cx="72.05" cy="397.38" r="0.95" fill="none" stroke="#3fb077" stroke-width="0.55" opacity="0.85"/>
<circle cx="69.41" cy="397.61" r="0.95" fill="none" stroke="#3fb077" stroke-width="0.55" opacity="0.85"/>
<circle cx="70.79" cy="399.19" r="0.95" fill="none" stroke="#3fb077" stroke-width="0.55" opacity="0.85"/>
<circle cx="70.76" cy="398.99" r="0.95" fill="none" stroke="#3fb077" stroke-width="0.55" opacity="0.85"/>
<circle cx="72.63" cy="400.76" r="0.95" fill="none" stroke="#3fb077" stroke-width="0.55" opacity="0.85"/>
<circle cx="71.76" cy="400.05" r="0.95" fill="none" stroke="#3fb077" stroke-width="0.55" opacity="0.85"/>
<circle cx="71.68" cy="401.14" r="0.95" fill="none" stroke="#3fb077" stroke-width="0.55" opacity="0.85"/>
<circle cx="72.55" cy="401.80" r="0.95" fill="none" stroke="#3fb077" stroke-width="0.55" opacity="0.85"/>
<circle cx="72.44" cy="402.82" r="0.95" fill="none" stroke="#3fb077" stroke-width="0.55" opacity="0.85"/>
<circle cx="71.41" cy="402.65" r="0.95" fill="none" stroke="#3fb077" stroke-width="0.55" opacity="0.85"/>
<circle cx="72.44" cy="403.88" r="0.95" fill="none" stroke="#3fb077" stroke-width="0.55" opacity="0.85"/>
<circle cx="68.04" cy="403.98" r="0.95" fill="none" stroke="#3fb077" stroke-width="0.55" opacity="0.85"/>
<circle cx="71.19" cy="405.54" r="0.95" fill="none" stroke="#3fb077" stroke-width="0.55" opacity="0.85"/>
<circle cx="71.87" cy="405.68" r="0.95" fill="none" stroke="#3fb077" stroke-width="0.55" opacity="0.85"/>
<circle cx="71.75" cy="407.24" r="0.95" fill="none" stroke="#3fb077" stroke-width="0.55" opacity="0.85"/>
<circle cx="68.32" cy="406.41" r="0.95" fill="none" stroke="#3fb077" stroke-width="0.55" opacity="0.85"/>
<circle cx="69.38" cy="407.73" r="0.95" fill="none" stroke="#3fb077" stroke-width="0.55" opacity="0.85"/>
<circle cx="70.65" cy="408.32" r="0.95" fill="none" stroke="#3fb077" stroke-width="0.55" opacity="0.85"/>
<circle cx="68.87" cy="409.40" r="0.95" fill="none" stroke="#3fb077" stroke-width="0.55" opacity="0.85"/>
<circle cx="69.18" cy="408.92" r="0.95" fill="none" stroke="#3fb077" stroke-width="0.55" opacity="0.85"/>
<circle cx="69.27" cy="410.47" r="0.95" fill="none" stroke="#3fb077" stroke-width="0.55" opacity="0.85"/>
<circle cx="71.30" cy="411.17" r="0.95" fill="none" stroke="#3fb077" stroke-width="0.55" opacity="0.85"/>
<circle cx="68.32" cy="411.99" r="0.95" fill="none" stroke="#3fb077" stroke-width="0.55" opacity="0.85"/>
<circle cx="70.23" cy="412.13" r="0.95" fill="none" stroke="#3fb077" stroke-width="0.55" opacity="0.85"/>
<circle cx="68.69" cy="413.76" r="0.95" fill="none" stroke="#3fb077" stroke-width="0.55" opacity="0.85"/>
<circle cx="69.30" cy="413.38" r="0.95" fill="none" stroke="#3fb077" stroke-width="0.55" opacity="0.85"/>
<circle cx="69.94" cy="414.66" r="0.95" fill="none" stroke="#3fb077" stroke-width="0.55" opacity="0.85"/>
<circle cx="72.32" cy="414.72" r="0.95" fill="none" stroke="#3fb077" stroke-width="0.55" opacity="0.85"/>
<circle cx="69.58" cy="416.35" r="0.95" fill="none" stroke="#3fb077" stroke-width="0.55" opacity="0.85"/>
<circle cx="68.74" cy="416.36" r="0.95" fill="none" stroke="#3fb077" stroke-width="0.55" opacity="0.85"/>
<circle cx="71.31" cy="416.94" r="0.95" fill="none" stroke="#3fb077" stroke-width="0.55" opacity="0.85"/>
<circle cx="72.94" cy="417.57" r="0.95" fill="none" stroke="#3fb077" stroke-width="0.55" opacity="0.85"/>
<circle cx="60.91" cy="418.60" r="0.8" fill="none" stroke="#3fb077" stroke-width="0.5"/>
<circle cx="63.55" cy="418.60" r="0.8" fill="none" stroke="#3fb077" stroke-width="0.5"/>
<circle cx="65.38" cy="418.60" r="0.8" fill="none" stroke="#3fb077" stroke-width="0.5"/>
<circle cx="67.92" cy="418.60" r="0.8" fill="none" stroke="#3fb077" stroke-width="0.5"/>
<circle cx="70.48" cy="418.60" r="0.8" fill="none" stroke="#3fb077" stroke-width="0.5"/>
<circle cx="73.26" cy="418.60" r="0.8" fill="none" stroke="#3fb077" stroke-width="0.5"/>
<circle cx="75.20" cy="418.60" r="0.8" fill="none" stroke="#3fb077" stroke-width="0.5"/>
<circle cx="78.09" cy="418.60" r="0.8" fill="none" stroke="#3fb077" stroke-width="0.5"/>
<circle cx="80.16" cy="418.60" r="0.8" fill="none" stroke="#3fb077" stroke-width="0.5"/>
<line x1="65.17" y1="339.30" x2="75.63" y2="339.30" stroke="#249a5c" stroke-width="1.1" stroke-dasharray="1.2,1.0"/>
<line x1="60.90" y1="413.90" x2="79.90" y2="413.90" stroke="#249a5c" stroke-width="1.1" stroke-dasharray="1.2,1.0"/>
<line x1="66.00" y1="367.70" x2="74.80" y2="367.70" stroke="#16703e" stroke-width="1.6" />
<path d="M95.70,310.50 C96.75,311.78 100.33,315.53 102.00,318.20 C103.67,320.87 105.28,323.20 105.70,326.50 C106.12,329.80 105.48,333.88 104.50,338.00 C103.52,342.12 100.78,346.80 99.80,351.20 C98.82,355.60 98.80,359.72 98.60,364.40 C98.40,369.08 98.60,373.80 98.60,379.30 C98.60,384.80 98.33,392.73 98.60,397.40 C98.87,402.07 99.45,404.55 100.20,407.30 C100.95,410.05 102.18,411.92 103.10,413.90 C104.02,415.88 105.27,418.32 105.70,419.20 L85.70,419.20 C86.13,418.32 87.38,415.88 88.30,413.90 C89.22,411.92 90.45,410.05 91.20,407.30 C91.95,404.55 92.53,402.07 92.80,397.40 C93.07,392.73 92.80,384.80 92.80,379.30 C92.80,373.80 93.00,369.08 92.80,364.40 C92.60,359.72 92.58,355.60 91.60,351.20 C90.62,346.80 87.88,342.12 86.90,338.00 C85.92,333.88 85.28,329.80 85.70,326.50 C86.12,323.20 87.73,320.87 89.40,318.20 C91.07,315.53 94.65,311.78 95.70,310.50Z" fill="#a6cfe8" stroke="#3e8fc0" stroke-width="0.7" />
<circle cx="96.42" cy="314.77" r="0.95" fill="none" stroke="#3d97cf" stroke-width="0.55" opacity="0.85"/>
<circle cx="94.79" cy="314.48" r="0.95" fill="none" stroke="#3d97cf" stroke-width="0.55" opacity="0.85"/>
<circle cx="96.92" cy="316.21" r="0.95" fill="none" stroke="#3d97cf" stroke-width="0.55" opacity="0.85"/>
<circle cx="94.12" cy="315.89" r="0.95" fill="none" stroke="#3d97cf" stroke-width="0.55" opacity="0.85"/>
<circle cx="97.57" cy="317.22" r="0.95" fill="none" stroke="#3d97cf" stroke-width="0.55" opacity="0.85"/>
<circle cx="97.07" cy="316.90" r="0.95" fill="none" stroke="#3d97cf" stroke-width="0.55" opacity="0.85"/>
<circle cx="95.66" cy="317.91" r="0.95" fill="none" stroke="#3d97cf" stroke-width="0.55" opacity="0.85"/>
<circle cx="97.13" cy="318.46" r="0.95" fill="none" stroke="#3d97cf" stroke-width="0.55" opacity="0.85"/>
<circle cx="94.14" cy="320.14" r="0.95" fill="none" stroke="#3d97cf" stroke-width="0.55" opacity="0.85"/>
<circle cx="94.29" cy="319.23" r="0.95" fill="none" stroke="#3d97cf" stroke-width="0.55" opacity="0.85"/>
<circle cx="96.89" cy="320.58" r="0.95" fill="none" stroke="#3d97cf" stroke-width="0.55" opacity="0.85"/>
<circle cx="96.54" cy="320.64" r="0.95" fill="none" stroke="#3d97cf" stroke-width="0.55" opacity="0.85"/>
<circle cx="92.98" cy="322.54" r="0.95" fill="none" stroke="#3d97cf" stroke-width="0.55" opacity="0.85"/>
<circle cx="96.34" cy="322.46" r="0.95" fill="none" stroke="#3d97cf" stroke-width="0.55" opacity="0.85"/>
<circle cx="96.97" cy="323.82" r="0.95" fill="none" stroke="#3d97cf" stroke-width="0.55" opacity="0.85"/>
<circle cx="93.73" cy="323.52" r="0.95" fill="none" stroke="#3d97cf" stroke-width="0.55" opacity="0.85"/>
<circle cx="96.30" cy="325.27" r="0.95" fill="none" stroke="#3d97cf" stroke-width="0.55" opacity="0.85"/>
<circle cx="96.65" cy="324.89" r="0.95" fill="none" stroke="#3d97cf" stroke-width="0.55" opacity="0.85"/>
<circle cx="97.91" cy="326.54" r="0.95" fill="none" stroke="#3d97cf" stroke-width="0.55" opacity="0.85"/>
<circle cx="93.97" cy="325.88" r="0.95" fill="none" stroke="#3d97cf" stroke-width="0.55" opacity="0.85"/>
<circle cx="92.28" cy="327.87" r="0.95" fill="none" stroke="#3d97cf" stroke-width="0.55" opacity="0.85"/>
<circle cx="93.70" cy="327.58" r="0.95" fill="none" stroke="#3d97cf" stroke-width="0.55" opacity="0.85"/>
<circle cx="95.88" cy="328.96" r="0.95" fill="none" stroke="#3d97cf" stroke-width="0.55" opacity="0.85"/>
<circle cx="98.69" cy="328.96" r="0.95" fill="none" stroke="#3d97cf" stroke-width="0.55" opacity="0.85"/>
<circle cx="93.49" cy="330.03" r="0.95" fill="none" stroke="#3d97cf" stroke-width="0.55" opacity="0.85"/>
<circle cx="93.58" cy="329.98" r="0.95" fill="none" stroke="#3d97cf" stroke-width="0.55" opacity="0.85"/>
<circle cx="97.30" cy="331.55" r="0.95" fill="none" stroke="#3d97cf" stroke-width="0.55" opacity="0.85"/>
<circle cx="96.55" cy="331.76" r="0.95" fill="none" stroke="#3d97cf" stroke-width="0.55" opacity="0.85"/>
<circle cx="98.96" cy="332.45" r="0.95" fill="none" stroke="#3d97cf" stroke-width="0.55" opacity="0.85"/>
<circle cx="97.02" cy="332.85" r="0.95" fill="none" stroke="#3d97cf" stroke-width="0.55" opacity="0.85"/>
<circle cx="92.65" cy="334.49" r="0.95" fill="none" stroke="#3d97cf" stroke-width="0.55" opacity="0.85"/>
<circle cx="95.05" cy="334.17" r="0.95" fill="none" stroke="#3d97cf" stroke-width="0.55" opacity="0.85"/>
<circle cx="93.98" cy="335.22" r="0.95" fill="none" stroke="#3d97cf" stroke-width="0.55" opacity="0.85"/>
<circle cx="93.27" cy="335.77" r="0.95" fill="none" stroke="#3d97cf" stroke-width="0.55" opacity="0.85"/>
<circle cx="92.83" cy="336.17" r="0.95" fill="none" stroke="#3d97cf" stroke-width="0.55" opacity="0.85"/>
<circle cx="97.12" cy="336.68" r="0.95" fill="none" stroke="#3d97cf" stroke-width="0.55" opacity="0.85"/>
<circle cx="94.61" cy="338.34" r="0.95" fill="none" stroke="#3d97cf" stroke-width="0.55" opacity="0.85"/>
<circle cx="96.93" cy="337.85" r="0.95" fill="none" stroke="#3d97cf" stroke-width="0.55" opacity="0.85"/>
<circle cx="96.94" cy="339.64" r="0.95" fill="none" stroke="#3d97cf" stroke-width="0.55" opacity="0.85"/>
<circle cx="97.88" cy="339.06" r="0.95" fill="none" stroke="#3d97cf" stroke-width="0.55" opacity="0.85"/>
<circle cx="97.22" cy="340.22" r="0.95" fill="none" stroke="#3d97cf" stroke-width="0.55" opacity="0.85"/>
<circle cx="95.07" cy="340.99" r="0.95" fill="none" stroke="#3d97cf" stroke-width="0.55" opacity="0.85"/>
<circle cx="96.93" cy="341.70" r="0.95" fill="none" stroke="#3d97cf" stroke-width="0.55" opacity="0.85"/>
<circle cx="95.93" cy="341.74" r="0.95" fill="none" stroke="#3d97cf" stroke-width="0.55" opacity="0.85"/>
<circle cx="96.71" cy="343.12" r="0.95" fill="none" stroke="#3d97cf" stroke-width="0.55" opacity="0.85"/>
<circle cx="95.47" cy="343.02" r="0.95" fill="none" stroke="#3d97cf" stroke-width="0.55" opacity="0.85"/>
<circle cx="97.52" cy="344.71" r="0.95" fill="none" stroke="#3d97cf" stroke-width="0.55" opacity="0.85"/>
<circle cx="94.46" cy="344.30" r="0.95" fill="none" stroke="#3d97cf" stroke-width="0.55" opacity="0.85"/>
<circle cx="97.62" cy="345.93" r="0.95" fill="none" stroke="#3d97cf" stroke-width="0.55" opacity="0.85"/>
<circle cx="96.19" cy="345.83" r="0.95" fill="none" stroke="#3d97cf" stroke-width="0.55" opacity="0.85"/>
<circle cx="94.27" cy="347.07" r="0.95" fill="none" stroke="#3d97cf" stroke-width="0.55" opacity="0.85"/>
<circle cx="96.88" cy="346.94" r="0.95" fill="none" stroke="#3d97cf" stroke-width="0.55" opacity="0.85"/>
<circle cx="95.28" cy="348.23" r="0.95" fill="none" stroke="#3d97cf" stroke-width="0.55" opacity="0.85"/>
<circle cx="96.16" cy="348.02" r="0.95" fill="none" stroke="#3d97cf" stroke-width="0.55" opacity="0.85"/>
<circle cx="97.05" cy="349.16" r="0.95" fill="none" stroke="#3d97cf" stroke-width="0.55" opacity="0.85"/>
<circle cx="96.85" cy="349.62" r="0.95" fill="none" stroke="#3d97cf" stroke-width="0.55" opacity="0.85"/>
<circle cx="94.76" cy="350.65" r="0.95" fill="none" stroke="#3d97cf" stroke-width="0.55" opacity="0.85"/>
<circle cx="94.83" cy="350.56" r="0.95" fill="none" stroke="#3d97cf" stroke-width="0.55" opacity="0.85"/>
<circle cx="97.48" cy="351.98" r="0.95" fill="none" stroke="#3d97cf" stroke-width="0.55" opacity="0.85"/>
<circle cx="94.20" cy="352.36" r="0.95" fill="none" stroke="#3d97cf" stroke-width="0.55" opacity="0.85"/>
<circle cx="97.37" cy="353.29" r="0.95" fill="none" stroke="#3d97cf" stroke-width="0.55" opacity="0.85"/>
<circle cx="94.76" cy="353.58" r="0.95" fill="none" stroke="#3d97cf" stroke-width="0.55" opacity="0.85"/>
<circle cx="95.11" cy="354.76" r="0.95" fill="none" stroke="#3d97cf" stroke-width="0.55" opacity="0.85"/>
<circle cx="95.95" cy="355.30" r="0.95" fill="none" stroke="#3d97cf" stroke-width="0.55" opacity="0.85"/>
<circle cx="95.30" cy="355.96" r="0.95" fill="none" stroke="#3d97cf" stroke-width="0.55" opacity="0.85"/>
<circle cx="96.38" cy="356.17" r="0.95" fill="none" stroke="#3d97cf" stroke-width="0.55" opacity="0.85"/>
<circle cx="96.90" cy="357.33" r="0.95" fill="none" stroke="#3d97cf" stroke-width="0.55" opacity="0.85"/>
<circle cx="96.13" cy="357.41" r="0.95" fill="none" stroke="#3d97cf" stroke-width="0.55" opacity="0.85"/>
<circle cx="96.02" cy="358.69" r="0.95" fill="none" stroke="#3d97cf" stroke-width="0.55" opacity="0.85"/>
<circle cx="94.66" cy="358.32" r="0.95" fill="none" stroke="#3d97cf" stroke-width="0.55" opacity="0.85"/>
<circle cx="95.39" cy="360.50" r="0.95" fill="none" stroke="#3d97cf" stroke-width="0.55" opacity="0.85"/>
<circle cx="95.73" cy="360.00" r="0.95" fill="none" stroke="#3d97cf" stroke-width="0.55" opacity="0.85"/>
<circle cx="95.55" cy="361.58" r="0.95" fill="none" stroke="#3d97cf" stroke-width="0.55" opacity="0.85"/>
<circle cx="95.28" cy="361.19" r="0.95" fill="none" stroke="#3d97cf" stroke-width="0.55" opacity="0.85"/>
<circle cx="95.25" cy="362.67" r="0.95" fill="none" stroke="#3d97cf" stroke-width="0.55" opacity="0.85"/>
<circle cx="95.64" cy="362.70" r="0.95" fill="none" stroke="#3d97cf" stroke-width="0.55" opacity="0.85"/>
<circle cx="96.86" cy="363.74" r="0.95" fill="none" stroke="#3d97cf" stroke-width="0.55" opacity="0.85"/>
<circle cx="96.03" cy="364.39" r="0.95" fill="none" stroke="#3d97cf" stroke-width="0.55" opacity="0.85"/>
<circle cx="96.33" cy="365.54" r="0.95" fill="none" stroke="#3d97cf" stroke-width="0.55" opacity="0.85"/>
<circle cx="96.52" cy="364.90" r="0.95" fill="none" stroke="#3d97cf" stroke-width="0.55" opacity="0.85"/>
<circle cx="96.05" cy="366.35" r="0.95" fill="none" stroke="#3d97cf" stroke-width="0.55" opacity="0.85"/>
<circle cx="95.32" cy="366.13" r="0.95" fill="none" stroke="#3d97cf" stroke-width="0.55" opacity="0.85"/>
<circle cx="96.43" cy="368.22" r="0.95" fill="none" stroke="#3d97cf" stroke-width="0.55" opacity="0.85"/>
<circle cx="96.65" cy="367.74" r="0.95" fill="none" stroke="#3d97cf" stroke-width="0.55" opacity="0.85"/>
<circle cx="96.79" cy="369.40" r="0.95" fill="none" stroke="#3d97cf" stroke-width="0.55" opacity="0.85"/>
<circle cx="96.00" cy="369.40" r="0.95" fill="none" stroke="#3d97cf" stroke-width="0.55" opacity="0.85"/>
<circle cx="96.42" cy="369.91" r="0.95" fill="none" stroke="#3d97cf" stroke-width="0.55" opacity="0.85"/>
<circle cx="96.01" cy="370.55" r="0.95" fill="none" stroke="#3d97cf" stroke-width="0.55" opacity="0.85"/>
<circle cx="95.33" cy="372.01" r="0.95" fill="none" stroke="#3d97cf" stroke-width="0.55" opacity="0.85"/>
<circle cx="96.32" cy="371.29" r="0.95" fill="none" stroke="#3d97cf" stroke-width="0.55" opacity="0.85"/>
<circle cx="95.41" cy="372.51" r="0.95" fill="none" stroke="#3d97cf" stroke-width="0.55" opacity="0.85"/>
<circle cx="95.37" cy="372.61" r="0.95" fill="none" stroke="#3d97cf" stroke-width="0.55" opacity="0.85"/>
<circle cx="94.40" cy="374.10" r="0.95" fill="none" stroke="#3d97cf" stroke-width="0.55" opacity="0.85"/>
<circle cx="96.27" cy="373.98" r="0.95" fill="none" stroke="#3d97cf" stroke-width="0.55" opacity="0.85"/>
<circle cx="96.93" cy="375.29" r="0.95" fill="none" stroke="#3d97cf" stroke-width="0.55" opacity="0.85"/>
<circle cx="96.56" cy="375.37" r="0.95" fill="none" stroke="#3d97cf" stroke-width="0.55" opacity="0.85"/>
<circle cx="96.68" cy="376.91" r="0.95" fill="none" stroke="#3d97cf" stroke-width="0.55" opacity="0.85"/>
<circle cx="96.59" cy="376.85" r="0.95" fill="none" stroke="#3d97cf" stroke-width="0.55" opacity="0.85"/>
<circle cx="95.13" cy="378.59" r="0.95" fill="none" stroke="#3d97cf" stroke-width="0.55" opacity="0.85"/>
<circle cx="94.45" cy="377.83" r="0.95" fill="none" stroke="#3d97cf" stroke-width="0.55" opacity="0.85"/>
<circle cx="94.76" cy="379.56" r="0.95" fill="none" stroke="#3d97cf" stroke-width="0.55" opacity="0.85"/>
<circle cx="96.38" cy="379.25" r="0.95" fill="none" stroke="#3d97cf" stroke-width="0.55" opacity="0.85"/>
<circle cx="95.91" cy="381.15" r="0.95" fill="none" stroke="#3d97cf" stroke-width="0.55" opacity="0.85"/>
<circle cx="94.41" cy="381.06" r="0.95" fill="none" stroke="#3d97cf" stroke-width="0.55" opacity="0.85"/>
<circle cx="94.75" cy="381.63" r="0.95" fill="none" stroke="#3d97cf" stroke-width="0.55" opacity="0.85"/>
<circle cx="95.68" cy="381.99" r="0.95" fill="none" stroke="#3d97cf" stroke-width="0.55" opacity="0.85"/>
<circle cx="95.43" cy="383.54" r="0.95" fill="none" stroke="#3d97cf" stroke-width="0.55" opacity="0.85"/>
<circle cx="94.43" cy="383.50" r="0.95" fill="none" stroke="#3d97cf" stroke-width="0.55" opacity="0.85"/>
<circle cx="94.78" cy="385.14" r="0.95" fill="none" stroke="#3d97cf" stroke-width="0.55" opacity="0.85"/>
<circle cx="95.63" cy="384.41" r="0.95" fill="none" stroke="#3d97cf" stroke-width="0.55" opacity="0.85"/>
<circle cx="95.76" cy="385.91" r="0.95" fill="none" stroke="#3d97cf" stroke-width="0.55" opacity="0.85"/>
<circle cx="94.58" cy="386.26" r="0.95" fill="none" stroke="#3d97cf" stroke-width="0.55" opacity="0.85"/>
<circle cx="95.52" cy="387.64" r="0.95" fill="none" stroke="#3d97cf" stroke-width="0.55" opacity="0.85"/>
<circle cx="96.37" cy="387.63" r="0.95" fill="none" stroke="#3d97cf" stroke-width="0.55" opacity="0.85"/>
<circle cx="96.88" cy="388.40" r="0.95" fill="none" stroke="#3d97cf" stroke-width="0.55" opacity="0.85"/>
<circle cx="95.87" cy="388.67" r="0.95" fill="none" stroke="#3d97cf" stroke-width="0.55" opacity="0.85"/>
<circle cx="96.01" cy="390.15" r="0.95" fill="none" stroke="#3d97cf" stroke-width="0.55" opacity="0.85"/>
<circle cx="96.39" cy="390.05" r="0.95" fill="none" stroke="#3d97cf" stroke-width="0.55" opacity="0.85"/>
<circle cx="95.97" cy="391.24" r="0.95" fill="none" stroke="#3d97cf" stroke-width="0.55" opacity="0.85"/>
<circle cx="94.76" cy="390.97" r="0.95" fill="none" stroke="#3d97cf" stroke-width="0.55" opacity="0.85"/>
<circle cx="94.71" cy="392.60" r="0.95" fill="none" stroke="#3d97cf" stroke-width="0.55" opacity="0.85"/>
<circle cx="95.98" cy="392.22" r="0.95" fill="none" stroke="#3d97cf" stroke-width="0.55" opacity="0.85"/>
<circle cx="95.38" cy="394.17" r="0.95" fill="none" stroke="#3d97cf" stroke-width="0.55" opacity="0.85"/>
<circle cx="94.80" cy="393.84" r="0.95" fill="none" stroke="#3d97cf" stroke-width="0.55" opacity="0.85"/>
<circle cx="95.73" cy="395.07" r="0.95" fill="none" stroke="#3d97cf" stroke-width="0.55" opacity="0.85"/>
<circle cx="95.14" cy="395.55" r="0.95" fill="none" stroke="#3d97cf" stroke-width="0.55" opacity="0.85"/>
<circle cx="95.86" cy="396.40" r="0.95" fill="none" stroke="#3d97cf" stroke-width="0.55" opacity="0.85"/>
<circle cx="94.60" cy="395.94" r="0.95" fill="none" stroke="#3d97cf" stroke-width="0.55" opacity="0.85"/>
<circle cx="95.62" cy="397.46" r="0.95" fill="none" stroke="#3d97cf" stroke-width="0.55" opacity="0.85"/>
<circle cx="96.19" cy="397.91" r="0.95" fill="none" stroke="#3d97cf" stroke-width="0.55" opacity="0.85"/>
<circle cx="94.45" cy="398.88" r="0.95" fill="none" stroke="#3d97cf" stroke-width="0.55" opacity="0.85"/>
<circle cx="95.16" cy="399.15" r="0.95" fill="none" stroke="#3d97cf" stroke-width="0.55" opacity="0.85"/>
<circle cx="95.90" cy="400.66" r="0.95" fill="none" stroke="#3d97cf" stroke-width="0.55" opacity="0.85"/>
<circle cx="94.30" cy="400.28" r="0.95" fill="none" stroke="#3d97cf" stroke-width="0.55" opacity="0.85"/>
<circle cx="96.43" cy="401.27" r="0.95" fill="none" stroke="#3d97cf" stroke-width="0.55" opacity="0.85"/>
<circle cx="94.22" cy="401.55" r="0.95" fill="none" stroke="#3d97cf" stroke-width="0.55" opacity="0.85"/>
<circle cx="94.79" cy="402.44" r="0.95" fill="none" stroke="#3d97cf" stroke-width="0.55" opacity="0.85"/>
<circle cx="96.89" cy="403.14" r="0.95" fill="none" stroke="#3d97cf" stroke-width="0.55" opacity="0.85"/>
<circle cx="96.31" cy="404.57" r="0.95" fill="none" stroke="#3d97cf" stroke-width="0.55" opacity="0.85"/>
<circle cx="96.55" cy="404.14" r="0.95" fill="none" stroke="#3d97cf" stroke-width="0.55" opacity="0.85"/>
<circle cx="96.70" cy="405.93" r="0.95" fill="none" stroke="#3d97cf" stroke-width="0.55" opacity="0.85"/>
<circle cx="97.39" cy="405.87" r="0.95" fill="none" stroke="#3d97cf" stroke-width="0.55" opacity="0.85"/>
<circle cx="96.85" cy="407.27" r="0.95" fill="none" stroke="#3d97cf" stroke-width="0.55" opacity="0.85"/>
<circle cx="97.47" cy="406.93" r="0.95" fill="none" stroke="#3d97cf" stroke-width="0.55" opacity="0.85"/>
<circle cx="95.35" cy="408.29" r="0.95" fill="none" stroke="#3d97cf" stroke-width="0.55" opacity="0.85"/>
<circle cx="97.77" cy="407.69" r="0.95" fill="none" stroke="#3d97cf" stroke-width="0.55" opacity="0.85"/>
<circle cx="95.38" cy="409.04" r="0.95" fill="none" stroke="#3d97cf" stroke-width="0.55" opacity="0.85"/>
<circle cx="93.81" cy="409.47" r="0.95" fill="none" stroke="#3d97cf" stroke-width="0.55" opacity="0.85"/>
<circle cx="94.20" cy="410.30" r="0.95" fill="none" stroke="#3d97cf" stroke-width="0.55" opacity="0.85"/>
<circle cx="96.09" cy="410.75" r="0.95" fill="none" stroke="#3d97cf" stroke-width="0.55" opacity="0.85"/>
<circle cx="95.68" cy="411.53" r="0.95" fill="none" stroke="#3d97cf" stroke-width="0.55" opacity="0.85"/>
<circle cx="93.94" cy="412.04" r="0.95" fill="none" stroke="#3d97cf" stroke-width="0.55" opacity="0.85"/>
<circle cx="93.52" cy="412.91" r="0.95" fill="none" stroke="#3d97cf" stroke-width="0.55" opacity="0.85"/>
<circle cx="94.91" cy="413.75" r="0.95" fill="none" stroke="#3d97cf" stroke-width="0.55" opacity="0.85"/>
<circle cx="97.14" cy="414.99" r="0.95" fill="none" stroke="#3d97cf" stroke-width="0.55" opacity="0.85"/>
<circle cx="97.23" cy="414.20" r="0.95" fill="none" stroke="#3d97cf" stroke-width="0.55" opacity="0.85"/>
<circle cx="97.01" cy="416.07" r="0.95" fill="none" stroke="#3d97cf" stroke-width="0.55" opacity="0.85"/>
<circle cx="98.18" cy="415.46" r="0.95" fill="none" stroke="#3d97cf" stroke-width="0.55" opacity="0.85"/>
<circle cx="93.64" cy="416.83" r="0.95" fill="none" stroke="#3d97cf" stroke-width="0.55" opacity="0.85"/>
<circle cx="95.22" cy="417.04" r="0.95" fill="none" stroke="#3d97cf" stroke-width="0.55" opacity="0.85"/>
<circle cx="86.02" cy="418.60" r="0.8" fill="none" stroke="#3d97cf" stroke-width="0.5"/>
<circle cx="88.82" cy="418.60" r="0.8" fill="none" stroke="#3d97cf" stroke-width="0.5"/>
<circle cx="91.35" cy="418.60" r="0.8" fill="none" stroke="#3d97cf" stroke-width="0.5"/>
<circle cx="93.75" cy="418.60" r="0.8" fill="none" stroke="#3d97cf" stroke-width="0.5"/>
<circle cx="95.46" cy="418.60" r="0.8" fill="none" stroke="#3d97cf" stroke-width="0.5"/>
<circle cx="97.93" cy="418.60" r="0.8" fill="none" stroke="#3d97cf" stroke-width="0.5"/>
<circle cx="100.56" cy="418.60" r="0.8" fill="none" stroke="#3d97cf" stroke-width="0.5"/>
<circle cx="103.22" cy="418.60" r="0.8" fill="none" stroke="#3d97cf" stroke-width="0.5"/>
<circle cx="105.61" cy="418.60" r="0.8" fill="none" stroke="#3d97cf" stroke-width="0.5"/>
<line x1="86.45" y1="328.90" x2="104.95" y2="328.90" stroke="#1f7fc0" stroke-width="1.1" stroke-dasharray="1.2,1.0"/>
<line x1="90.83" y1="348.20" x2="100.57" y2="348.20" stroke="#0b4f70" stroke-width="1.6" />
<path d="M121.50,310.50 C122.33,311.72 125.03,315.33 126.50,317.80 C127.97,320.27 129.70,322.52 130.30,325.30 C130.90,328.08 130.63,331.10 130.10,334.50 C129.57,337.90 127.83,341.37 127.10,345.70 C126.37,350.03 126.00,354.95 125.70,360.50 C125.40,366.05 125.37,373.43 125.30,379.00 C125.23,384.57 124.93,389.57 125.30,393.90 C125.67,398.23 126.67,401.90 127.50,405.00 C128.33,408.10 129.60,410.13 130.30,412.50 C131.00,414.87 131.47,418.08 131.70,419.20 L111.30,419.20 C111.53,418.08 112.00,414.87 112.70,412.50 C113.40,410.13 114.67,408.10 115.50,405.00 C116.33,401.90 117.33,398.23 117.70,393.90 C118.07,389.57 117.77,384.57 117.70,379.00 C117.63,373.43 117.60,366.05 117.30,360.50 C117.00,354.95 116.63,350.03 115.90,345.70 C115.17,341.37 113.43,337.90 112.90,334.50 C112.37,331.10 112.10,328.08 112.70,325.30 C113.30,322.52 115.03,320.27 116.50,317.80 C117.97,315.33 120.67,311.72 121.50,310.50Z" fill="#b0b6ef" stroke="#4e5dcc" stroke-width="0.7" />
<circle cx="122.39" cy="314.71" r="0.95" fill="none" stroke="#5b6ad8" stroke-width="0.55" opacity="0.85"/>
<circle cx="120.72" cy="314.91" r="0.95" fill="none" stroke="#5b6ad8" stroke-width="0.55" opacity="0.85"/>
<circle cx="121.51" cy="315.48" r="0.95" fill="none" stroke="#5b6ad8" stroke-width="0.55" opacity="0.85"/>
<circle cx="120.55" cy="316.30" r="0.95" fill="none" stroke="#5b6ad8" stroke-width="0.55" opacity="0.85"/>
<circle cx="122.73" cy="316.83" r="0.95" fill="none" stroke="#5b6ad8" stroke-width="0.55" opacity="0.85"/>
<circle cx="123.10" cy="316.64" r="0.95" fill="none" stroke="#5b6ad8" stroke-width="0.55" opacity="0.85"/>
<circle cx="122.44" cy="318.53" r="0.95" fill="none" stroke="#5b6ad8" stroke-width="0.55" opacity="0.85"/>
<circle cx="123.26" cy="318.81" r="0.95" fill="none" stroke="#5b6ad8" stroke-width="0.55" opacity="0.85"/>
<circle cx="122.61" cy="320.04" r="0.95" fill="none" stroke="#5b6ad8" stroke-width="0.55" opacity="0.85"/>
<circle cx="121.33" cy="320.13" r="0.95" fill="none" stroke="#5b6ad8" stroke-width="0.55" opacity="0.85"/>
<circle cx="121.16" cy="321.23" r="0.95" fill="none" stroke="#5b6ad8" stroke-width="0.55" opacity="0.85"/>
<circle cx="122.70" cy="320.90" r="0.95" fill="none" stroke="#5b6ad8" stroke-width="0.55" opacity="0.85"/>
<circle cx="123.04" cy="322.52" r="0.95" fill="none" stroke="#5b6ad8" stroke-width="0.55" opacity="0.85"/>
<circle cx="119.86" cy="322.39" r="0.95" fill="none" stroke="#5b6ad8" stroke-width="0.55" opacity="0.85"/>
<circle cx="121.43" cy="323.70" r="0.95" fill="none" stroke="#5b6ad8" stroke-width="0.55" opacity="0.85"/>
<circle cx="119.24" cy="323.80" r="0.95" fill="none" stroke="#5b6ad8" stroke-width="0.55" opacity="0.85"/>
<circle cx="120.97" cy="325.14" r="0.95" fill="none" stroke="#5b6ad8" stroke-width="0.55" opacity="0.85"/>
<circle cx="120.17" cy="324.42" r="0.95" fill="none" stroke="#5b6ad8" stroke-width="0.55" opacity="0.85"/>
<circle cx="121.32" cy="326.34" r="0.95" fill="none" stroke="#5b6ad8" stroke-width="0.55" opacity="0.85"/>
<circle cx="122.97" cy="326.24" r="0.95" fill="none" stroke="#5b6ad8" stroke-width="0.55" opacity="0.85"/>
<circle cx="123.50" cy="327.16" r="0.95" fill="none" stroke="#5b6ad8" stroke-width="0.55" opacity="0.85"/>
<circle cx="119.52" cy="327.40" r="0.95" fill="none" stroke="#5b6ad8" stroke-width="0.55" opacity="0.85"/>
<circle cx="122.32" cy="329.07" r="0.95" fill="none" stroke="#5b6ad8" stroke-width="0.55" opacity="0.85"/>
<circle cx="119.22" cy="328.90" r="0.95" fill="none" stroke="#5b6ad8" stroke-width="0.55" opacity="0.85"/>
<circle cx="120.72" cy="330.13" r="0.95" fill="none" stroke="#5b6ad8" stroke-width="0.55" opacity="0.85"/>
<circle cx="119.40" cy="329.76" r="0.95" fill="none" stroke="#5b6ad8" stroke-width="0.55" opacity="0.85"/>
<circle cx="122.21" cy="331.24" r="0.95" fill="none" stroke="#5b6ad8" stroke-width="0.55" opacity="0.85"/>
<circle cx="123.98" cy="331.41" r="0.95" fill="none" stroke="#5b6ad8" stroke-width="0.55" opacity="0.85"/>
<circle cx="120.72" cy="332.39" r="0.95" fill="none" stroke="#5b6ad8" stroke-width="0.55" opacity="0.85"/>
<circle cx="121.64" cy="332.71" r="0.95" fill="none" stroke="#5b6ad8" stroke-width="0.55" opacity="0.85"/>
<circle cx="120.24" cy="334.47" r="0.95" fill="none" stroke="#5b6ad8" stroke-width="0.55" opacity="0.85"/>
<circle cx="121.54" cy="334.27" r="0.95" fill="none" stroke="#5b6ad8" stroke-width="0.55" opacity="0.85"/>
<circle cx="122.43" cy="335.63" r="0.95" fill="none" stroke="#5b6ad8" stroke-width="0.55" opacity="0.85"/>
<circle cx="119.50" cy="335.76" r="0.95" fill="none" stroke="#5b6ad8" stroke-width="0.55" opacity="0.85"/>
<circle cx="121.97" cy="336.26" r="0.95" fill="none" stroke="#5b6ad8" stroke-width="0.55" opacity="0.85"/>
<circle cx="121.96" cy="336.16" r="0.95" fill="none" stroke="#5b6ad8" stroke-width="0.55" opacity="0.85"/>
<circle cx="121.13" cy="337.50" r="0.95" fill="none" stroke="#5b6ad8" stroke-width="0.55" opacity="0.85"/>
<circle cx="119.33" cy="337.85" r="0.95" fill="none" stroke="#5b6ad8" stroke-width="0.55" opacity="0.85"/>
<circle cx="123.13" cy="339.46" r="0.95" fill="none" stroke="#5b6ad8" stroke-width="0.55" opacity="0.85"/>
<circle cx="123.59" cy="339.48" r="0.95" fill="none" stroke="#5b6ad8" stroke-width="0.55" opacity="0.85"/>
<circle cx="122.07" cy="340.60" r="0.95" fill="none" stroke="#5b6ad8" stroke-width="0.55" opacity="0.85"/>
<circle cx="123.70" cy="340.13" r="0.95" fill="none" stroke="#5b6ad8" stroke-width="0.55" opacity="0.85"/>
<circle cx="121.60" cy="341.84" r="0.95" fill="none" stroke="#5b6ad8" stroke-width="0.55" opacity="0.85"/>
<circle cx="119.17" cy="342.18" r="0.95" fill="none" stroke="#5b6ad8" stroke-width="0.55" opacity="0.85"/>
<circle cx="122.36" cy="342.94" r="0.95" fill="none" stroke="#5b6ad8" stroke-width="0.55" opacity="0.85"/>
<circle cx="122.92" cy="343.08" r="0.95" fill="none" stroke="#5b6ad8" stroke-width="0.55" opacity="0.85"/>
<circle cx="122.59" cy="344.45" r="0.95" fill="none" stroke="#5b6ad8" stroke-width="0.55" opacity="0.85"/>
<circle cx="123.23" cy="344.40" r="0.95" fill="none" stroke="#5b6ad8" stroke-width="0.55" opacity="0.85"/>
<circle cx="119.53" cy="345.96" r="0.95" fill="none" stroke="#5b6ad8" stroke-width="0.55" opacity="0.85"/>
<circle cx="120.21" cy="345.77" r="0.95" fill="none" stroke="#5b6ad8" stroke-width="0.55" opacity="0.85"/>
<circle cx="123.58" cy="347.22" r="0.95" fill="none" stroke="#5b6ad8" stroke-width="0.55" opacity="0.85"/>
<circle cx="119.43" cy="347.34" r="0.95" fill="none" stroke="#5b6ad8" stroke-width="0.55" opacity="0.85"/>
<circle cx="123.74" cy="348.26" r="0.95" fill="none" stroke="#5b6ad8" stroke-width="0.55" opacity="0.85"/>
<circle cx="120.32" cy="348.26" r="0.95" fill="none" stroke="#5b6ad8" stroke-width="0.55" opacity="0.85"/>
<circle cx="121.65" cy="349.15" r="0.95" fill="none" stroke="#5b6ad8" stroke-width="0.55" opacity="0.85"/>
<circle cx="123.13" cy="349.74" r="0.95" fill="none" stroke="#5b6ad8" stroke-width="0.55" opacity="0.85"/>
<circle cx="121.04" cy="351.21" r="0.95" fill="none" stroke="#5b6ad8" stroke-width="0.55" opacity="0.85"/>
<circle cx="120.00" cy="351.29" r="0.95" fill="none" stroke="#5b6ad8" stroke-width="0.55" opacity="0.85"/>
<circle cx="123.11" cy="352.17" r="0.95" fill="none" stroke="#5b6ad8" stroke-width="0.55" opacity="0.85"/>
<circle cx="119.76" cy="352.15" r="0.95" fill="none" stroke="#5b6ad8" stroke-width="0.55" opacity="0.85"/>
<circle cx="119.77" cy="353.55" r="0.95" fill="none" stroke="#5b6ad8" stroke-width="0.55" opacity="0.85"/>
<circle cx="119.93" cy="353.52" r="0.95" fill="none" stroke="#5b6ad8" stroke-width="0.55" opacity="0.85"/>
<circle cx="121.11" cy="354.62" r="0.95" fill="none" stroke="#5b6ad8" stroke-width="0.55" opacity="0.85"/>
<circle cx="121.85" cy="354.83" r="0.95" fill="none" stroke="#5b6ad8" stroke-width="0.55" opacity="0.85"/>
<circle cx="123.09" cy="356.05" r="0.95" fill="none" stroke="#5b6ad8" stroke-width="0.55" opacity="0.85"/>
<circle cx="121.81" cy="356.33" r="0.95" fill="none" stroke="#5b6ad8" stroke-width="0.55" opacity="0.85"/>
<circle cx="120.14" cy="357.44" r="0.95" fill="none" stroke="#5b6ad8" stroke-width="0.55" opacity="0.85"/>
<circle cx="120.21" cy="357.40" r="0.95" fill="none" stroke="#5b6ad8" stroke-width="0.55" opacity="0.85"/>
<circle cx="121.53" cy="359.11" r="0.95" fill="none" stroke="#5b6ad8" stroke-width="0.55" opacity="0.85"/>
<circle cx="123.32" cy="358.50" r="0.95" fill="none" stroke="#5b6ad8" stroke-width="0.55" opacity="0.85"/>
<circle cx="122.85" cy="359.87" r="0.95" fill="none" stroke="#5b6ad8" stroke-width="0.55" opacity="0.85"/>
<circle cx="120.54" cy="360.10" r="0.95" fill="none" stroke="#5b6ad8" stroke-width="0.55" opacity="0.85"/>
<circle cx="120.76" cy="361.75" r="0.95" fill="none" stroke="#5b6ad8" stroke-width="0.55" opacity="0.85"/>
<circle cx="123.01" cy="360.83" r="0.95" fill="none" stroke="#5b6ad8" stroke-width="0.55" opacity="0.85"/>
<circle cx="123.31" cy="362.99" r="0.95" fill="none" stroke="#5b6ad8" stroke-width="0.55" opacity="0.85"/>
<circle cx="120.15" cy="362.76" r="0.95" fill="none" stroke="#5b6ad8" stroke-width="0.55" opacity="0.85"/>
<circle cx="121.72" cy="363.56" r="0.95" fill="none" stroke="#5b6ad8" stroke-width="0.55" opacity="0.85"/>
<circle cx="122.26" cy="363.41" r="0.95" fill="none" stroke="#5b6ad8" stroke-width="0.55" opacity="0.85"/>
<circle cx="120.93" cy="365.21" r="0.95" fill="none" stroke="#5b6ad8" stroke-width="0.55" opacity="0.85"/>
<circle cx="122.62" cy="365.11" r="0.95" fill="none" stroke="#5b6ad8" stroke-width="0.55" opacity="0.85"/>
<circle cx="120.72" cy="366.47" r="0.95" fill="none" stroke="#5b6ad8" stroke-width="0.55" opacity="0.85"/>
<circle cx="121.64" cy="366.40" r="0.95" fill="none" stroke="#5b6ad8" stroke-width="0.55" opacity="0.85"/>
<circle cx="120.03" cy="368.14" r="0.95" fill="none" stroke="#5b6ad8" stroke-width="0.55" opacity="0.85"/>
<circle cx="120.43" cy="367.49" r="0.95" fill="none" stroke="#5b6ad8" stroke-width="0.55" opacity="0.85"/>
<circle cx="120.48" cy="369.56" r="0.95" fill="none" stroke="#5b6ad8" stroke-width="0.55" opacity="0.85"/>
<circle cx="119.97" cy="369.22" r="0.95" fill="none" stroke="#5b6ad8" stroke-width="0.55" opacity="0.85"/>
<circle cx="121.76" cy="370.13" r="0.95" fill="none" stroke="#5b6ad8" stroke-width="0.55" opacity="0.85"/>
<circle cx="122.52" cy="370.08" r="0.95" fill="none" stroke="#5b6ad8" stroke-width="0.55" opacity="0.85"/>
<circle cx="120.12" cy="371.23" r="0.95" fill="none" stroke="#5b6ad8" stroke-width="0.55" opacity="0.85"/>
<circle cx="122.07" cy="371.25" r="0.95" fill="none" stroke="#5b6ad8" stroke-width="0.55" opacity="0.85"/>
<circle cx="121.91" cy="373.16" r="0.95" fill="none" stroke="#5b6ad8" stroke-width="0.55" opacity="0.85"/>
<circle cx="120.09" cy="373.47" r="0.95" fill="none" stroke="#5b6ad8" stroke-width="0.55" opacity="0.85"/>
<circle cx="120.22" cy="374.13" r="0.95" fill="none" stroke="#5b6ad8" stroke-width="0.55" opacity="0.85"/>
<circle cx="122.55" cy="374.07" r="0.95" fill="none" stroke="#5b6ad8" stroke-width="0.55" opacity="0.85"/>
<circle cx="122.47" cy="375.80" r="0.95" fill="none" stroke="#5b6ad8" stroke-width="0.55" opacity="0.85"/>
<circle cx="122.40" cy="375.48" r="0.95" fill="none" stroke="#5b6ad8" stroke-width="0.55" opacity="0.85"/>
<circle cx="120.72" cy="376.87" r="0.95" fill="none" stroke="#5b6ad8" stroke-width="0.55" opacity="0.85"/>
<circle cx="121.93" cy="376.42" r="0.95" fill="none" stroke="#5b6ad8" stroke-width="0.55" opacity="0.85"/>
<circle cx="120.10" cy="377.97" r="0.95" fill="none" stroke="#5b6ad8" stroke-width="0.55" opacity="0.85"/>
<circle cx="119.96" cy="378.45" r="0.95" fill="none" stroke="#5b6ad8" stroke-width="0.55" opacity="0.85"/>
<circle cx="123.12" cy="379.52" r="0.95" fill="none" stroke="#5b6ad8" stroke-width="0.55" opacity="0.85"/>
<circle cx="120.93" cy="379.43" r="0.95" fill="none" stroke="#5b6ad8" stroke-width="0.55" opacity="0.85"/>
<circle cx="122.78" cy="381.02" r="0.95" fill="none" stroke="#5b6ad8" stroke-width="0.55" opacity="0.85"/>
<circle cx="121.70" cy="380.94" r="0.95" fill="none" stroke="#5b6ad8" stroke-width="0.55" opacity="0.85"/>
<circle cx="122.92" cy="382.22" r="0.95" fill="none" stroke="#5b6ad8" stroke-width="0.55" opacity="0.85"/>
<circle cx="120.51" cy="382.49" r="0.95" fill="none" stroke="#5b6ad8" stroke-width="0.55" opacity="0.85"/>
<circle cx="119.94" cy="383.04" r="0.95" fill="none" stroke="#5b6ad8" stroke-width="0.55" opacity="0.85"/>
<circle cx="120.45" cy="383.28" r="0.95" fill="none" stroke="#5b6ad8" stroke-width="0.55" opacity="0.85"/>
<circle cx="121.76" cy="385.03" r="0.95" fill="none" stroke="#5b6ad8" stroke-width="0.55" opacity="0.85"/>
<circle cx="120.66" cy="385.08" r="0.95" fill="none" stroke="#5b6ad8" stroke-width="0.55" opacity="0.85"/>
<circle cx="123.19" cy="386.37" r="0.95" fill="none" stroke="#5b6ad8" stroke-width="0.55" opacity="0.85"/>
<circle cx="122.57" cy="386.07" r="0.95" fill="none" stroke="#5b6ad8" stroke-width="0.55" opacity="0.85"/>
<circle cx="121.34" cy="386.96" r="0.95" fill="none" stroke="#5b6ad8" stroke-width="0.55" opacity="0.85"/>
<circle cx="121.10" cy="387.02" r="0.95" fill="none" stroke="#5b6ad8" stroke-width="0.55" opacity="0.85"/>
<circle cx="121.02" cy="388.17" r="0.95" fill="none" stroke="#5b6ad8" stroke-width="0.55" opacity="0.85"/>
<circle cx="123.09" cy="388.52" r="0.95" fill="none" stroke="#5b6ad8" stroke-width="0.55" opacity="0.85"/>
<circle cx="120.11" cy="389.53" r="0.95" fill="none" stroke="#5b6ad8" stroke-width="0.55" opacity="0.85"/>
<circle cx="121.32" cy="389.48" r="0.95" fill="none" stroke="#5b6ad8" stroke-width="0.55" opacity="0.85"/>
<circle cx="122.09" cy="391.01" r="0.95" fill="none" stroke="#5b6ad8" stroke-width="0.55" opacity="0.85"/>
<circle cx="121.98" cy="391.04" r="0.95" fill="none" stroke="#5b6ad8" stroke-width="0.55" opacity="0.85"/>
<circle cx="121.12" cy="392.88" r="0.95" fill="none" stroke="#5b6ad8" stroke-width="0.55" opacity="0.85"/>
<circle cx="121.35" cy="392.91" r="0.95" fill="none" stroke="#5b6ad8" stroke-width="0.55" opacity="0.85"/>
<circle cx="122.10" cy="394.05" r="0.95" fill="none" stroke="#5b6ad8" stroke-width="0.55" opacity="0.85"/>
<circle cx="122.30" cy="393.86" r="0.95" fill="none" stroke="#5b6ad8" stroke-width="0.55" opacity="0.85"/>
<circle cx="120.82" cy="395.28" r="0.95" fill="none" stroke="#5b6ad8" stroke-width="0.55" opacity="0.85"/>
<circle cx="119.81" cy="394.85" r="0.95" fill="none" stroke="#5b6ad8" stroke-width="0.55" opacity="0.85"/>
<circle cx="122.68" cy="396.74" r="0.95" fill="none" stroke="#5b6ad8" stroke-width="0.55" opacity="0.85"/>
<circle cx="119.65" cy="396.68" r="0.95" fill="none" stroke="#5b6ad8" stroke-width="0.55" opacity="0.85"/>
<circle cx="121.29" cy="397.41" r="0.95" fill="none" stroke="#5b6ad8" stroke-width="0.55" opacity="0.85"/>
<circle cx="123.21" cy="397.78" r="0.95" fill="none" stroke="#5b6ad8" stroke-width="0.55" opacity="0.85"/>
<circle cx="120.41" cy="399.42" r="0.95" fill="none" stroke="#5b6ad8" stroke-width="0.55" opacity="0.85"/>
<circle cx="119.62" cy="399.21" r="0.95" fill="none" stroke="#5b6ad8" stroke-width="0.55" opacity="0.85"/>
<circle cx="122.53" cy="400.54" r="0.95" fill="none" stroke="#5b6ad8" stroke-width="0.55" opacity="0.85"/>
<circle cx="121.38" cy="400.10" r="0.95" fill="none" stroke="#5b6ad8" stroke-width="0.55" opacity="0.85"/>
<circle cx="120.16" cy="401.86" r="0.95" fill="none" stroke="#5b6ad8" stroke-width="0.55" opacity="0.85"/>
<circle cx="121.50" cy="401.13" r="0.95" fill="none" stroke="#5b6ad8" stroke-width="0.55" opacity="0.85"/>
<circle cx="122.43" cy="403.13" r="0.95" fill="none" stroke="#5b6ad8" stroke-width="0.55" opacity="0.85"/>
<circle cx="122.90" cy="402.88" r="0.95" fill="none" stroke="#5b6ad8" stroke-width="0.55" opacity="0.85"/>
<circle cx="122.37" cy="404.31" r="0.95" fill="none" stroke="#5b6ad8" stroke-width="0.55" opacity="0.85"/>
<circle cx="122.90" cy="403.97" r="0.95" fill="none" stroke="#5b6ad8" stroke-width="0.55" opacity="0.85"/>
<circle cx="120.15" cy="405.84" r="0.95" fill="none" stroke="#5b6ad8" stroke-width="0.55" opacity="0.85"/>
<circle cx="120.35" cy="405.02" r="0.95" fill="none" stroke="#5b6ad8" stroke-width="0.55" opacity="0.85"/>
<circle cx="122.37" cy="407.08" r="0.95" fill="none" stroke="#5b6ad8" stroke-width="0.55" opacity="0.85"/>
<circle cx="123.25" cy="407.28" r="0.95" fill="none" stroke="#5b6ad8" stroke-width="0.55" opacity="0.85"/>
<circle cx="119.46" cy="408.54" r="0.95" fill="none" stroke="#5b6ad8" stroke-width="0.55" opacity="0.85"/>
<circle cx="120.46" cy="407.74" r="0.95" fill="none" stroke="#5b6ad8" stroke-width="0.55" opacity="0.85"/>
<circle cx="120.46" cy="408.99" r="0.95" fill="none" stroke="#5b6ad8" stroke-width="0.55" opacity="0.85"/>
<circle cx="119.13" cy="409.05" r="0.95" fill="none" stroke="#5b6ad8" stroke-width="0.55" opacity="0.85"/>
<circle cx="121.78" cy="410.26" r="0.95" fill="none" stroke="#5b6ad8" stroke-width="0.55" opacity="0.85"/>
<circle cx="122.77" cy="410.20" r="0.95" fill="none" stroke="#5b6ad8" stroke-width="0.55" opacity="0.85"/>
<circle cx="120.05" cy="411.67" r="0.95" fill="none" stroke="#5b6ad8" stroke-width="0.55" opacity="0.85"/>
<circle cx="119.52" cy="411.50" r="0.95" fill="none" stroke="#5b6ad8" stroke-width="0.55" opacity="0.85"/>
<circle cx="121.55" cy="412.87" r="0.95" fill="none" stroke="#5b6ad8" stroke-width="0.55" opacity="0.85"/>
<circle cx="119.44" cy="412.80" r="0.95" fill="none" stroke="#5b6ad8" stroke-width="0.55" opacity="0.85"/>
<circle cx="123.35" cy="414.26" r="0.95" fill="none" stroke="#5b6ad8" stroke-width="0.55" opacity="0.85"/>
<circle cx="121.01" cy="414.87" r="0.95" fill="none" stroke="#5b6ad8" stroke-width="0.55" opacity="0.85"/>
<circle cx="119.47" cy="415.76" r="0.95" fill="none" stroke="#5b6ad8" stroke-width="0.55" opacity="0.85"/>
<circle cx="123.40" cy="416.03" r="0.95" fill="none" stroke="#5b6ad8" stroke-width="0.55" opacity="0.85"/>
<circle cx="119.36" cy="417.22" r="0.95" fill="none" stroke="#5b6ad8" stroke-width="0.55" opacity="0.85"/>
<circle cx="123.47" cy="417.24" r="0.95" fill="none" stroke="#5b6ad8" stroke-width="0.55" opacity="0.85"/>
<circle cx="111.82" cy="418.60" r="0.8" fill="none" stroke="#5b6ad8" stroke-width="0.5"/>
<circle cx="114.17" cy="418.60" r="0.8" fill="none" stroke="#5b6ad8" stroke-width="0.5"/>
<circle cx="117.12" cy="418.60" r="0.8" fill="none" stroke="#5b6ad8" stroke-width="0.5"/>
<circle cx="119.11" cy="418.60" r="0.8" fill="none" stroke="#5b6ad8" stroke-width="0.5"/>
<circle cx="121.36" cy="418.60" r="0.8" fill="none" stroke="#5b6ad8" stroke-width="0.5"/>
<circle cx="123.82" cy="418.60" r="0.8" fill="none" stroke="#5b6ad8" stroke-width="0.5"/>
<circle cx="126.48" cy="418.60" r="0.8" fill="none" stroke="#5b6ad8" stroke-width="0.5"/>
<circle cx="129.08" cy="418.60" r="0.8" fill="none" stroke="#5b6ad8" stroke-width="0.5"/>
<circle cx="131.33" cy="418.60" r="0.8" fill="none" stroke="#5b6ad8" stroke-width="0.5"/>
<line x1="113.51" y1="334.90" x2="129.49" y2="334.90" stroke="#2f4ee0" stroke-width="1.1" stroke-dasharray="1.2,1.0"/>
<line x1="113.24" y1="412.40" x2="129.76" y2="412.40" stroke="#2f4ee0" stroke-width="1.1" stroke-dasharray="1.2,1.0"/>
<line x1="117.62" y1="361.40" x2="125.38" y2="361.40" stroke="#1d2a8a" stroke-width="1.6" />
<path d="M147.00,310.50 C147.70,311.72 149.62,315.33 151.20,317.80 C152.78,320.27 155.82,322.82 156.50,325.30 C157.18,327.78 155.98,329.92 155.30,332.70 C154.62,335.48 153.13,338.28 152.40,342.00 C151.67,345.72 151.33,349.75 150.90,355.00 C150.47,360.25 150.07,367.02 149.80,373.50 C149.53,379.98 149.15,388.65 149.30,393.90 C149.45,399.15 150.08,401.90 150.70,405.00 C151.32,408.10 152.00,410.13 153.00,412.50 C154.00,414.87 156.08,418.08 156.70,419.20 L137.30,419.20 C137.92,418.08 140.00,414.87 141.00,412.50 C142.00,410.13 142.68,408.10 143.30,405.00 C143.92,401.90 144.55,399.15 144.70,393.90 C144.85,388.65 144.47,379.98 144.20,373.50 C143.93,367.02 143.53,360.25 143.10,355.00 C142.67,349.75 142.33,345.72 141.60,342.00 C140.87,338.28 139.38,335.48 138.70,332.70 C138.02,329.92 136.82,327.78 137.50,325.30 C138.18,322.82 141.22,320.27 142.80,317.80 C144.38,315.33 146.30,311.72 147.00,310.50Z" fill="#e3dcf7" stroke="#7f6dc6" stroke-width="0.7" />
<circle cx="146.29" cy="314.08" r="0.95" fill="none" stroke="#8e7bd2" stroke-width="0.55" opacity="0.85"/>
<circle cx="147.39" cy="314.87" r="0.95" fill="none" stroke="#8e7bd2" stroke-width="0.55" opacity="0.85"/>
<circle cx="148.19" cy="315.54" r="0.95" fill="none" stroke="#8e7bd2" stroke-width="0.55" opacity="0.85"/>
<circle cx="147.32" cy="315.55" r="0.95" fill="none" stroke="#8e7bd2" stroke-width="0.55" opacity="0.85"/>
<circle cx="148.18" cy="317.51" r="0.95" fill="none" stroke="#8e7bd2" stroke-width="0.55" opacity="0.85"/>
<circle cx="145.33" cy="316.79" r="0.95" fill="none" stroke="#8e7bd2" stroke-width="0.55" opacity="0.85"/>
<circle cx="148.54" cy="318.88" r="0.95" fill="none" stroke="#8e7bd2" stroke-width="0.55" opacity="0.85"/>
<circle cx="148.45" cy="317.96" r="0.95" fill="none" stroke="#8e7bd2" stroke-width="0.55" opacity="0.85"/>
<circle cx="147.50" cy="319.97" r="0.95" fill="none" stroke="#8e7bd2" stroke-width="0.55" opacity="0.85"/>
<circle cx="147.35" cy="319.74" r="0.95" fill="none" stroke="#8e7bd2" stroke-width="0.55" opacity="0.85"/>
<circle cx="148.60" cy="320.56" r="0.95" fill="none" stroke="#8e7bd2" stroke-width="0.55" opacity="0.85"/>
<circle cx="147.40" cy="321.47" r="0.95" fill="none" stroke="#8e7bd2" stroke-width="0.55" opacity="0.85"/>
<circle cx="147.33" cy="322.16" r="0.95" fill="none" stroke="#8e7bd2" stroke-width="0.55" opacity="0.85"/>
<circle cx="144.58" cy="322.69" r="0.95" fill="none" stroke="#8e7bd2" stroke-width="0.55" opacity="0.85"/>
<circle cx="148.27" cy="324.06" r="0.95" fill="none" stroke="#8e7bd2" stroke-width="0.55" opacity="0.85"/>
<circle cx="150.47" cy="323.79" r="0.95" fill="none" stroke="#8e7bd2" stroke-width="0.55" opacity="0.85"/>
<circle cx="149.94" cy="325.22" r="0.95" fill="none" stroke="#8e7bd2" stroke-width="0.55" opacity="0.85"/>
<circle cx="149.02" cy="324.82" r="0.95" fill="none" stroke="#8e7bd2" stroke-width="0.55" opacity="0.85"/>
<circle cx="148.47" cy="325.18" r="0.95" fill="none" stroke="#8e7bd2" stroke-width="0.55" opacity="0.85"/>
<circle cx="145.03" cy="326.49" r="0.95" fill="none" stroke="#8e7bd2" stroke-width="0.55" opacity="0.85"/>
<circle cx="147.86" cy="326.08" r="0.95" fill="none" stroke="#8e7bd2" stroke-width="0.55" opacity="0.85"/>
<circle cx="146.44" cy="326.62" r="0.95" fill="none" stroke="#8e7bd2" stroke-width="0.55" opacity="0.85"/>
<circle cx="143.43" cy="327.04" r="0.95" fill="none" stroke="#8e7bd2" stroke-width="0.55" opacity="0.85"/>
<circle cx="146.99" cy="327.11" r="0.95" fill="none" stroke="#8e7bd2" stroke-width="0.55" opacity="0.85"/>
<circle cx="149.92" cy="327.92" r="0.95" fill="none" stroke="#8e7bd2" stroke-width="0.55" opacity="0.85"/>
<circle cx="145.85" cy="328.65" r="0.95" fill="none" stroke="#8e7bd2" stroke-width="0.55" opacity="0.85"/>
<circle cx="148.29" cy="329.18" r="0.95" fill="none" stroke="#8e7bd2" stroke-width="0.55" opacity="0.85"/>
<circle cx="148.11" cy="329.19" r="0.95" fill="none" stroke="#8e7bd2" stroke-width="0.55" opacity="0.85"/>
<circle cx="145.76" cy="330.07" r="0.95" fill="none" stroke="#8e7bd2" stroke-width="0.55" opacity="0.85"/>
<circle cx="148.47" cy="330.34" r="0.95" fill="none" stroke="#8e7bd2" stroke-width="0.55" opacity="0.85"/>
<circle cx="146.10" cy="331.25" r="0.95" fill="none" stroke="#8e7bd2" stroke-width="0.55" opacity="0.85"/>
<circle cx="149.65" cy="331.57" r="0.95" fill="none" stroke="#8e7bd2" stroke-width="0.55" opacity="0.85"/>
<circle cx="147.24" cy="332.45" r="0.95" fill="none" stroke="#8e7bd2" stroke-width="0.55" opacity="0.85"/>
<circle cx="145.99" cy="332.29" r="0.95" fill="none" stroke="#8e7bd2" stroke-width="0.55" opacity="0.85"/>
<circle cx="145.19" cy="333.59" r="0.95" fill="none" stroke="#8e7bd2" stroke-width="0.55" opacity="0.85"/>
<circle cx="145.04" cy="334.12" r="0.95" fill="none" stroke="#8e7bd2" stroke-width="0.55" opacity="0.85"/>
<circle cx="147.39" cy="335.65" r="0.95" fill="none" stroke="#8e7bd2" stroke-width="0.55" opacity="0.85"/>
<circle cx="147.44" cy="335.14" r="0.95" fill="none" stroke="#8e7bd2" stroke-width="0.55" opacity="0.85"/>
<circle cx="146.03" cy="336.93" r="0.95" fill="none" stroke="#8e7bd2" stroke-width="0.55" opacity="0.85"/>
<circle cx="143.94" cy="336.26" r="0.95" fill="none" stroke="#8e7bd2" stroke-width="0.55" opacity="0.85"/>
<circle cx="146.67" cy="337.55" r="0.95" fill="none" stroke="#8e7bd2" stroke-width="0.55" opacity="0.85"/>
<circle cx="146.39" cy="337.56" r="0.95" fill="none" stroke="#8e7bd2" stroke-width="0.55" opacity="0.85"/>
<circle cx="147.66" cy="339.57" r="0.95" fill="none" stroke="#8e7bd2" stroke-width="0.55" opacity="0.85"/>
<circle cx="146.39" cy="339.47" r="0.95" fill="none" stroke="#8e7bd2" stroke-width="0.55" opacity="0.85"/>
<circle cx="144.37" cy="340.11" r="0.95" fill="none" stroke="#8e7bd2" stroke-width="0.55" opacity="0.85"/>
<circle cx="145.13" cy="340.78" r="0.95" fill="none" stroke="#8e7bd2" stroke-width="0.55" opacity="0.85"/>
<circle cx="145.90" cy="341.87" r="0.95" fill="none" stroke="#8e7bd2" stroke-width="0.55" opacity="0.85"/>
<circle cx="148.80" cy="341.86" r="0.95" fill="none" stroke="#8e7bd2" stroke-width="0.55" opacity="0.85"/>
<circle cx="146.55" cy="343.15" r="0.95" fill="none" stroke="#8e7bd2" stroke-width="0.55" opacity="0.85"/>
<circle cx="147.75" cy="343.19" r="0.95" fill="none" stroke="#8e7bd2" stroke-width="0.55" opacity="0.85"/>
<circle cx="147.20" cy="344.04" r="0.95" fill="none" stroke="#8e7bd2" stroke-width="0.55" opacity="0.85"/>
<circle cx="149.17" cy="344.63" r="0.95" fill="none" stroke="#8e7bd2" stroke-width="0.55" opacity="0.85"/>
<circle cx="148.70" cy="345.99" r="0.95" fill="none" stroke="#8e7bd2" stroke-width="0.55" opacity="0.85"/>
<circle cx="145.75" cy="345.64" r="0.95" fill="none" stroke="#8e7bd2" stroke-width="0.55" opacity="0.85"/>
<circle cx="147.42" cy="346.68" r="0.95" fill="none" stroke="#8e7bd2" stroke-width="0.55" opacity="0.85"/>
<circle cx="148.38" cy="346.99" r="0.95" fill="none" stroke="#8e7bd2" stroke-width="0.55" opacity="0.85"/>
<circle cx="147.35" cy="348.72" r="0.95" fill="none" stroke="#8e7bd2" stroke-width="0.55" opacity="0.85"/>
<circle cx="146.23" cy="348.14" r="0.95" fill="none" stroke="#8e7bd2" stroke-width="0.55" opacity="0.85"/>
<circle cx="147.39" cy="349.20" r="0.95" fill="none" stroke="#8e7bd2" stroke-width="0.55" opacity="0.85"/>
<circle cx="146.00" cy="349.31" r="0.95" fill="none" stroke="#8e7bd2" stroke-width="0.55" opacity="0.85"/>
<circle cx="148.86" cy="351.04" r="0.95" fill="none" stroke="#8e7bd2" stroke-width="0.55" opacity="0.85"/>
<circle cx="148.17" cy="351.04" r="0.95" fill="none" stroke="#8e7bd2" stroke-width="0.55" opacity="0.85"/>
<circle cx="146.31" cy="352.07" r="0.95" fill="none" stroke="#8e7bd2" stroke-width="0.55" opacity="0.85"/>
<circle cx="148.71" cy="352.31" r="0.95" fill="none" stroke="#8e7bd2" stroke-width="0.55" opacity="0.85"/>
<circle cx="147.39" cy="353.43" r="0.95" fill="none" stroke="#8e7bd2" stroke-width="0.55" opacity="0.85"/>
<circle cx="148.48" cy="353.23" r="0.95" fill="none" stroke="#8e7bd2" stroke-width="0.55" opacity="0.85"/>
<circle cx="148.33" cy="355.00" r="0.95" fill="none" stroke="#8e7bd2" stroke-width="0.55" opacity="0.85"/>
<circle cx="147.81" cy="355.29" r="0.95" fill="none" stroke="#8e7bd2" stroke-width="0.55" opacity="0.85"/>
<circle cx="146.96" cy="356.13" r="0.95" fill="none" stroke="#8e7bd2" stroke-width="0.55" opacity="0.85"/>
<circle cx="146.71" cy="356.27" r="0.95" fill="none" stroke="#8e7bd2" stroke-width="0.55" opacity="0.85"/>
<circle cx="148.19" cy="357.67" r="0.95" fill="none" stroke="#8e7bd2" stroke-width="0.55" opacity="0.85"/>
<circle cx="146.09" cy="357.71" r="0.95" fill="none" stroke="#8e7bd2" stroke-width="0.55" opacity="0.85"/>
<circle cx="145.45" cy="358.85" r="0.95" fill="none" stroke="#8e7bd2" stroke-width="0.55" opacity="0.85"/>
<circle cx="145.92" cy="358.52" r="0.95" fill="none" stroke="#8e7bd2" stroke-width="0.55" opacity="0.85"/>
<circle cx="147.22" cy="359.64" r="0.95" fill="none" stroke="#8e7bd2" stroke-width="0.55" opacity="0.85"/>
<circle cx="147.71" cy="360.16" r="0.95" fill="none" stroke="#8e7bd2" stroke-width="0.55" opacity="0.85"/>
<circle cx="147.88" cy="361.28" r="0.95" fill="none" stroke="#8e7bd2" stroke-width="0.55" opacity="0.85"/>
<circle cx="148.08" cy="361.54" r="0.95" fill="none" stroke="#8e7bd2" stroke-width="0.55" opacity="0.85"/>
<circle cx="147.14" cy="362.76" r="0.95" fill="none" stroke="#8e7bd2" stroke-width="0.55" opacity="0.85"/>
<circle cx="146.24" cy="362.69" r="0.95" fill="none" stroke="#8e7bd2" stroke-width="0.55" opacity="0.85"/>
<circle cx="146.34" cy="363.54" r="0.95" fill="none" stroke="#8e7bd2" stroke-width="0.55" opacity="0.85"/>
<circle cx="147.32" cy="364.33" r="0.95" fill="none" stroke="#8e7bd2" stroke-width="0.55" opacity="0.85"/>
<circle cx="146.91" cy="364.87" r="0.95" fill="none" stroke="#8e7bd2" stroke-width="0.55" opacity="0.85"/>
<circle cx="147.42" cy="364.89" r="0.95" fill="none" stroke="#8e7bd2" stroke-width="0.55" opacity="0.85"/>
<circle cx="147.43" cy="366.74" r="0.95" fill="none" stroke="#8e7bd2" stroke-width="0.55" opacity="0.85"/>
<circle cx="146.16" cy="366.30" r="0.95" fill="none" stroke="#8e7bd2" stroke-width="0.55" opacity="0.85"/>
<circle cx="146.84" cy="367.96" r="0.95" fill="none" stroke="#8e7bd2" stroke-width="0.55" opacity="0.85"/>
<circle cx="147.55" cy="368.25" r="0.95" fill="none" stroke="#8e7bd2" stroke-width="0.55" opacity="0.85"/>
<circle cx="147.28" cy="369.53" r="0.95" fill="none" stroke="#8e7bd2" stroke-width="0.55" opacity="0.85"/>
<circle cx="146.21" cy="368.85" r="0.95" fill="none" stroke="#8e7bd2" stroke-width="0.55" opacity="0.85"/>
<circle cx="148.26" cy="370.69" r="0.95" fill="none" stroke="#8e7bd2" stroke-width="0.55" opacity="0.85"/>
<circle cx="146.71" cy="369.96" r="0.95" fill="none" stroke="#8e7bd2" stroke-width="0.55" opacity="0.85"/>
<circle cx="146.35" cy="371.61" r="0.95" fill="none" stroke="#8e7bd2" stroke-width="0.55" opacity="0.85"/>
<circle cx="145.75" cy="371.80" r="0.95" fill="none" stroke="#8e7bd2" stroke-width="0.55" opacity="0.85"/>
<circle cx="148.05" cy="372.84" r="0.95" fill="none" stroke="#8e7bd2" stroke-width="0.55" opacity="0.85"/>
<circle cx="146.61" cy="372.78" r="0.95" fill="none" stroke="#8e7bd2" stroke-width="0.55" opacity="0.85"/>
<circle cx="146.75" cy="374.41" r="0.95" fill="none" stroke="#8e7bd2" stroke-width="0.55" opacity="0.85"/>
<circle cx="146.49" cy="373.85" r="0.95" fill="none" stroke="#8e7bd2" stroke-width="0.55" opacity="0.85"/>
<circle cx="145.93" cy="376.02" r="0.95" fill="none" stroke="#8e7bd2" stroke-width="0.55" opacity="0.85"/>
<circle cx="147.39" cy="375.23" r="0.95" fill="none" stroke="#8e7bd2" stroke-width="0.55" opacity="0.85"/>
<circle cx="146.79" cy="377.15" r="0.95" fill="none" stroke="#8e7bd2" stroke-width="0.55" opacity="0.85"/>
<circle cx="146.71" cy="377.06" r="0.95" fill="none" stroke="#8e7bd2" stroke-width="0.55" opacity="0.85"/>
<circle cx="148.20" cy="378.06" r="0.95" fill="none" stroke="#8e7bd2" stroke-width="0.55" opacity="0.85"/>
<circle cx="146.89" cy="377.85" r="0.95" fill="none" stroke="#8e7bd2" stroke-width="0.55" opacity="0.85"/>
<circle cx="147.48" cy="379.48" r="0.95" fill="none" stroke="#8e7bd2" stroke-width="0.55" opacity="0.85"/>
<circle cx="147.09" cy="379.31" r="0.95" fill="none" stroke="#8e7bd2" stroke-width="0.55" opacity="0.85"/>
<circle cx="147.29" cy="380.90" r="0.95" fill="none" stroke="#8e7bd2" stroke-width="0.55" opacity="0.85"/>
<circle cx="147.98" cy="381.07" r="0.95" fill="none" stroke="#8e7bd2" stroke-width="0.55" opacity="0.85"/>
<circle cx="146.02" cy="381.73" r="0.95" fill="none" stroke="#8e7bd2" stroke-width="0.55" opacity="0.85"/>
<circle cx="146.73" cy="381.79" r="0.95" fill="none" stroke="#8e7bd2" stroke-width="0.55" opacity="0.85"/>
<circle cx="146.26" cy="383.08" r="0.95" fill="none" stroke="#8e7bd2" stroke-width="0.55" opacity="0.85"/>
<circle cx="147.79" cy="383.00" r="0.95" fill="none" stroke="#8e7bd2" stroke-width="0.55" opacity="0.85"/>
<circle cx="147.66" cy="384.67" r="0.95" fill="none" stroke="#8e7bd2" stroke-width="0.55" opacity="0.85"/>
<circle cx="147.54" cy="384.66" r="0.95" fill="none" stroke="#8e7bd2" stroke-width="0.55" opacity="0.85"/>
<circle cx="146.39" cy="385.90" r="0.95" fill="none" stroke="#8e7bd2" stroke-width="0.55" opacity="0.85"/>
<circle cx="147.92" cy="386.27" r="0.95" fill="none" stroke="#8e7bd2" stroke-width="0.55" opacity="0.85"/>
<circle cx="147.33" cy="387.21" r="0.95" fill="none" stroke="#8e7bd2" stroke-width="0.55" opacity="0.85"/>
<circle cx="147.54" cy="386.95" r="0.95" fill="none" stroke="#8e7bd2" stroke-width="0.55" opacity="0.85"/>
<circle cx="146.92" cy="388.46" r="0.95" fill="none" stroke="#8e7bd2" stroke-width="0.55" opacity="0.85"/>
<circle cx="146.82" cy="388.91" r="0.95" fill="none" stroke="#8e7bd2" stroke-width="0.55" opacity="0.85"/>
<circle cx="146.27" cy="389.68" r="0.95" fill="none" stroke="#8e7bd2" stroke-width="0.55" opacity="0.85"/>
<circle cx="147.14" cy="389.70" r="0.95" fill="none" stroke="#8e7bd2" stroke-width="0.55" opacity="0.85"/>
<circle cx="147.86" cy="391.14" r="0.95" fill="none" stroke="#8e7bd2" stroke-width="0.55" opacity="0.85"/>
<circle cx="145.94" cy="390.98" r="0.95" fill="none" stroke="#8e7bd2" stroke-width="0.55" opacity="0.85"/>
<circle cx="146.53" cy="392.41" r="0.95" fill="none" stroke="#8e7bd2" stroke-width="0.55" opacity="0.85"/>
<circle cx="145.95" cy="392.93" r="0.95" fill="none" stroke="#8e7bd2" stroke-width="0.55" opacity="0.85"/>
<circle cx="146.84" cy="394.00" r="0.95" fill="none" stroke="#8e7bd2" stroke-width="0.55" opacity="0.85"/>
<circle cx="146.92" cy="393.76" r="0.95" fill="none" stroke="#8e7bd2" stroke-width="0.55" opacity="0.85"/>
<circle cx="146.57" cy="395.50" r="0.95" fill="none" stroke="#8e7bd2" stroke-width="0.55" opacity="0.85"/>
<circle cx="146.22" cy="395.12" r="0.95" fill="none" stroke="#8e7bd2" stroke-width="0.55" opacity="0.85"/>
<circle cx="146.47" cy="396.21" r="0.95" fill="none" stroke="#8e7bd2" stroke-width="0.55" opacity="0.85"/>
<circle cx="146.06" cy="396.85" r="0.95" fill="none" stroke="#8e7bd2" stroke-width="0.55" opacity="0.85"/>
<circle cx="146.53" cy="397.90" r="0.95" fill="none" stroke="#8e7bd2" stroke-width="0.55" opacity="0.85"/>
<circle cx="147.61" cy="398.12" r="0.95" fill="none" stroke="#8e7bd2" stroke-width="0.55" opacity="0.85"/>
<circle cx="146.86" cy="398.99" r="0.95" fill="none" stroke="#8e7bd2" stroke-width="0.55" opacity="0.85"/>
<circle cx="147.86" cy="399.05" r="0.95" fill="none" stroke="#8e7bd2" stroke-width="0.55" opacity="0.85"/>
<circle cx="146.25" cy="400.16" r="0.95" fill="none" stroke="#8e7bd2" stroke-width="0.55" opacity="0.85"/>
<circle cx="148.14" cy="400.11" r="0.95" fill="none" stroke="#8e7bd2" stroke-width="0.55" opacity="0.85"/>
<circle cx="147.30" cy="401.87" r="0.95" fill="none" stroke="#8e7bd2" stroke-width="0.55" opacity="0.85"/>
<circle cx="147.89" cy="401.72" r="0.95" fill="none" stroke="#8e7bd2" stroke-width="0.55" opacity="0.85"/>
<circle cx="147.85" cy="403.38" r="0.95" fill="none" stroke="#8e7bd2" stroke-width="0.55" opacity="0.85"/>
<circle cx="146.96" cy="402.74" r="0.95" fill="none" stroke="#8e7bd2" stroke-width="0.55" opacity="0.85"/>
<circle cx="146.67" cy="404.44" r="0.95" fill="none" stroke="#8e7bd2" stroke-width="0.55" opacity="0.85"/>
<circle cx="146.01" cy="404.55" r="0.95" fill="none" stroke="#8e7bd2" stroke-width="0.55" opacity="0.85"/>
<circle cx="146.18" cy="405.16" r="0.95" fill="none" stroke="#8e7bd2" stroke-width="0.55" opacity="0.85"/>
<circle cx="147.79" cy="405.32" r="0.95" fill="none" stroke="#8e7bd2" stroke-width="0.55" opacity="0.85"/>
<circle cx="147.98" cy="406.50" r="0.95" fill="none" stroke="#8e7bd2" stroke-width="0.55" opacity="0.85"/>
<circle cx="146.11" cy="406.77" r="0.95" fill="none" stroke="#8e7bd2" stroke-width="0.55" opacity="0.85"/>
<circle cx="147.89" cy="408.14" r="0.95" fill="none" stroke="#8e7bd2" stroke-width="0.55" opacity="0.85"/>
<circle cx="148.90" cy="408.53" r="0.95" fill="none" stroke="#8e7bd2" stroke-width="0.55" opacity="0.85"/>
<circle cx="145.31" cy="409.74" r="0.95" fill="none" stroke="#8e7bd2" stroke-width="0.55" opacity="0.85"/>
<circle cx="149.27" cy="409.19" r="0.95" fill="none" stroke="#8e7bd2" stroke-width="0.55" opacity="0.85"/>
<circle cx="146.58" cy="410.76" r="0.95" fill="none" stroke="#8e7bd2" stroke-width="0.55" opacity="0.85"/>
<circle cx="149.38" cy="410.45" r="0.95" fill="none" stroke="#8e7bd2" stroke-width="0.55" opacity="0.85"/>
<circle cx="145.94" cy="412.37" r="0.95" fill="none" stroke="#8e7bd2" stroke-width="0.55" opacity="0.85"/>
<circle cx="145.90" cy="412.43" r="0.95" fill="none" stroke="#8e7bd2" stroke-width="0.55" opacity="0.85"/>
<circle cx="146.77" cy="413.79" r="0.95" fill="none" stroke="#8e7bd2" stroke-width="0.55" opacity="0.85"/>
<circle cx="145.91" cy="413.15" r="0.95" fill="none" stroke="#8e7bd2" stroke-width="0.55" opacity="0.85"/>
<circle cx="148.70" cy="414.90" r="0.95" fill="none" stroke="#8e7bd2" stroke-width="0.55" opacity="0.85"/>
<circle cx="148.34" cy="414.36" r="0.95" fill="none" stroke="#8e7bd2" stroke-width="0.55" opacity="0.85"/>
<circle cx="147.21" cy="416.13" r="0.95" fill="none" stroke="#8e7bd2" stroke-width="0.55" opacity="0.85"/>
<circle cx="148.71" cy="416.36" r="0.95" fill="none" stroke="#8e7bd2" stroke-width="0.55" opacity="0.85"/>
<circle cx="149.05" cy="417.37" r="0.95" fill="none" stroke="#8e7bd2" stroke-width="0.55" opacity="0.85"/>
<circle cx="148.63" cy="417.36" r="0.95" fill="none" stroke="#8e7bd2" stroke-width="0.55" opacity="0.85"/>
<circle cx="137.77" cy="418.60" r="0.8" fill="none" stroke="#8e7bd2" stroke-width="0.5"/>
<circle cx="139.85" cy="418.60" r="0.8" fill="none" stroke="#8e7bd2" stroke-width="0.5"/>
<circle cx="142.43" cy="418.60" r="0.8" fill="none" stroke="#8e7bd2" stroke-width="0.5"/>
<circle cx="144.73" cy="418.60" r="0.8" fill="none" stroke="#8e7bd2" stroke-width="0.5"/>
<circle cx="146.75" cy="418.60" r="0.8" fill="none" stroke="#8e7bd2" stroke-width="0.5"/>
<circle cx="149.44" cy="418.60" r="0.8" fill="none" stroke="#8e7bd2" stroke-width="0.5"/>
<circle cx="151.74" cy="418.60" r="0.8" fill="none" stroke="#8e7bd2" stroke-width="0.5"/>
<circle cx="154.18" cy="418.60" r="0.8" fill="none" stroke="#8e7bd2" stroke-width="0.5"/>
<circle cx="156.32" cy="418.60" r="0.8" fill="none" stroke="#8e7bd2" stroke-width="0.5"/>
<line x1="138.39" y1="327.70" x2="155.61" y2="327.70" stroke="#4a2a9a" stroke-width="1.1" stroke-dasharray="1.2,1.0"/>
<line x1="142.48" y1="347.00" x2="151.52" y2="347.00" stroke="#4b2b8f" stroke-width="1.6" />
<path d="M172.40,310.50 C173.17,311.72 175.42,315.33 177.00,317.80 C178.58,320.27 181.28,322.82 181.90,325.30 C182.52,327.78 181.35,329.92 180.70,332.70 C180.05,335.48 178.77,338.28 178.00,342.00 C177.23,345.72 176.57,349.75 176.10,355.00 C175.63,360.25 175.45,367.02 175.20,373.50 C174.95,379.98 174.57,388.03 174.60,393.90 C174.63,399.77 174.83,404.98 175.40,408.70 C175.97,412.42 177.12,414.45 178.00,416.20 C178.88,417.95 180.25,418.70 180.70,419.20 L164.10,419.20 C164.55,418.70 165.92,417.95 166.80,416.20 C167.68,414.45 168.83,412.42 169.40,408.70 C169.97,404.98 170.17,399.77 170.20,393.90 C170.23,388.03 169.85,379.98 169.60,373.50 C169.35,367.02 169.17,360.25 168.70,355.00 C168.23,349.75 167.57,345.72 166.80,342.00 C166.03,338.28 164.75,335.48 164.10,332.70 C163.45,329.92 162.28,327.78 162.90,325.30 C163.52,322.82 166.22,320.27 167.80,317.80 C169.38,315.33 171.63,311.72 172.40,310.50Z" fill="#efb5ea" stroke="#c25cc0" stroke-width="0.7" />
<circle cx="172.81" cy="314.59" r="0.95" fill="none" stroke="#d77ad5" stroke-width="0.55" opacity="0.85"/>
<circle cx="171.20" cy="314.43" r="0.95" fill="none" stroke="#d77ad5" stroke-width="0.55" opacity="0.85"/>
<circle cx="171.97" cy="315.76" r="0.95" fill="none" stroke="#d77ad5" stroke-width="0.55" opacity="0.85"/>
<circle cx="171.72" cy="315.43" r="0.95" fill="none" stroke="#d77ad5" stroke-width="0.55" opacity="0.85"/>
<circle cx="173.32" cy="316.93" r="0.95" fill="none" stroke="#d77ad5" stroke-width="0.55" opacity="0.85"/>
<circle cx="174.56" cy="317.58" r="0.95" fill="none" stroke="#d77ad5" stroke-width="0.55" opacity="0.85"/>
<circle cx="169.06" cy="318.67" r="0.95" fill="none" stroke="#d77ad5" stroke-width="0.55" opacity="0.85"/>
<circle cx="174.12" cy="318.20" r="0.95" fill="none" stroke="#d77ad5" stroke-width="0.55" opacity="0.85"/>
<circle cx="173.05" cy="319.49" r="0.95" fill="none" stroke="#d77ad5" stroke-width="0.55" opacity="0.85"/>
<circle cx="175.44" cy="319.54" r="0.95" fill="none" stroke="#d77ad5" stroke-width="0.55" opacity="0.85"/>
<circle cx="173.62" cy="319.46" r="0.95" fill="none" stroke="#d77ad5" stroke-width="0.55" opacity="0.85"/>
<circle cx="175.88" cy="320.72" r="0.95" fill="none" stroke="#d77ad5" stroke-width="0.55" opacity="0.85"/>
<circle cx="176.73" cy="320.67" r="0.95" fill="none" stroke="#d77ad5" stroke-width="0.55" opacity="0.85"/>
<circle cx="171.53" cy="321.20" r="0.95" fill="none" stroke="#d77ad5" stroke-width="0.55" opacity="0.85"/>
<circle cx="171.29" cy="322.59" r="0.95" fill="none" stroke="#d77ad5" stroke-width="0.55" opacity="0.85"/>
<circle cx="168.86" cy="322.79" r="0.95" fill="none" stroke="#d77ad5" stroke-width="0.55" opacity="0.85"/>
<circle cx="172.57" cy="322.69" r="0.95" fill="none" stroke="#d77ad5" stroke-width="0.55" opacity="0.85"/>
<circle cx="168.44" cy="323.51" r="0.95" fill="none" stroke="#d77ad5" stroke-width="0.55" opacity="0.85"/>
<circle cx="172.43" cy="324.04" r="0.95" fill="none" stroke="#d77ad5" stroke-width="0.55" opacity="0.85"/>
<circle cx="178.36" cy="323.50" r="0.95" fill="none" stroke="#d77ad5" stroke-width="0.55" opacity="0.85"/>
<circle cx="171.01" cy="324.75" r="0.95" fill="none" stroke="#d77ad5" stroke-width="0.55" opacity="0.85"/>
<circle cx="166.77" cy="324.54" r="0.95" fill="none" stroke="#d77ad5" stroke-width="0.55" opacity="0.85"/>
<circle cx="175.88" cy="324.51" r="0.95" fill="none" stroke="#d77ad5" stroke-width="0.55" opacity="0.85"/>
<circle cx="176.79" cy="326.12" r="0.95" fill="none" stroke="#d77ad5" stroke-width="0.55" opacity="0.85"/>
<circle cx="168.22" cy="326.01" r="0.95" fill="none" stroke="#d77ad5" stroke-width="0.55" opacity="0.85"/>
<circle cx="167.36" cy="326.33" r="0.95" fill="none" stroke="#d77ad5" stroke-width="0.55" opacity="0.85"/>
<circle cx="169.25" cy="327.61" r="0.95" fill="none" stroke="#d77ad5" stroke-width="0.55" opacity="0.85"/>
<circle cx="171.76" cy="327.62" r="0.95" fill="none" stroke="#d77ad5" stroke-width="0.55" opacity="0.85"/>
<circle cx="166.99" cy="327.74" r="0.95" fill="none" stroke="#d77ad5" stroke-width="0.55" opacity="0.85"/>
<circle cx="168.47" cy="328.72" r="0.95" fill="none" stroke="#d77ad5" stroke-width="0.55" opacity="0.85"/>
<circle cx="178.17" cy="329.29" r="0.95" fill="none" stroke="#d77ad5" stroke-width="0.55" opacity="0.85"/>
<circle cx="172.97" cy="328.76" r="0.95" fill="none" stroke="#d77ad5" stroke-width="0.55" opacity="0.85"/>
<circle cx="172.74" cy="330.25" r="0.95" fill="none" stroke="#d77ad5" stroke-width="0.55" opacity="0.85"/>
<circle cx="178.25" cy="329.89" r="0.95" fill="none" stroke="#d77ad5" stroke-width="0.55" opacity="0.85"/>
<circle cx="166.20" cy="330.16" r="0.95" fill="none" stroke="#d77ad5" stroke-width="0.55" opacity="0.85"/>
<circle cx="170.46" cy="331.40" r="0.95" fill="none" stroke="#d77ad5" stroke-width="0.55" opacity="0.85"/>
<circle cx="172.29" cy="331.02" r="0.95" fill="none" stroke="#d77ad5" stroke-width="0.55" opacity="0.85"/>
<circle cx="170.53" cy="331.79" r="0.95" fill="none" stroke="#d77ad5" stroke-width="0.55" opacity="0.85"/>
<circle cx="173.16" cy="332.89" r="0.95" fill="none" stroke="#d77ad5" stroke-width="0.55" opacity="0.85"/>
<circle cx="173.58" cy="332.48" r="0.95" fill="none" stroke="#d77ad5" stroke-width="0.55" opacity="0.85"/>
<circle cx="167.85" cy="332.76" r="0.95" fill="none" stroke="#d77ad5" stroke-width="0.55" opacity="0.85"/>
<circle cx="168.63" cy="334.08" r="0.95" fill="none" stroke="#d77ad5" stroke-width="0.55" opacity="0.85"/>
<circle cx="177.09" cy="333.54" r="0.95" fill="none" stroke="#d77ad5" stroke-width="0.55" opacity="0.85"/>
<circle cx="176.38" cy="334.10" r="0.95" fill="none" stroke="#d77ad5" stroke-width="0.55" opacity="0.85"/>
<circle cx="177.60" cy="335.17" r="0.95" fill="none" stroke="#d77ad5" stroke-width="0.55" opacity="0.85"/>
<circle cx="171.01" cy="334.99" r="0.95" fill="none" stroke="#d77ad5" stroke-width="0.55" opacity="0.85"/>
<circle cx="175.23" cy="334.87" r="0.95" fill="none" stroke="#d77ad5" stroke-width="0.55" opacity="0.85"/>
<circle cx="168.91" cy="336.37" r="0.95" fill="none" stroke="#d77ad5" stroke-width="0.55" opacity="0.85"/>
<circle cx="177.15" cy="337.03" r="0.95" fill="none" stroke="#d77ad5" stroke-width="0.55" opacity="0.85"/>
<circle cx="173.73" cy="336.73" r="0.95" fill="none" stroke="#d77ad5" stroke-width="0.55" opacity="0.85"/>
<circle cx="170.51" cy="338.08" r="0.95" fill="none" stroke="#d77ad5" stroke-width="0.55" opacity="0.85"/>
<circle cx="176.65" cy="337.76" r="0.95" fill="none" stroke="#d77ad5" stroke-width="0.55" opacity="0.85"/>
<circle cx="168.89" cy="337.62" r="0.95" fill="none" stroke="#d77ad5" stroke-width="0.55" opacity="0.85"/>
<circle cx="171.60" cy="339.03" r="0.95" fill="none" stroke="#d77ad5" stroke-width="0.55" opacity="0.85"/>
<circle cx="170.72" cy="339.24" r="0.95" fill="none" stroke="#d77ad5" stroke-width="0.55" opacity="0.85"/>
<circle cx="176.35" cy="339.34" r="0.95" fill="none" stroke="#d77ad5" stroke-width="0.55" opacity="0.85"/>
<circle cx="170.95" cy="340.48" r="0.95" fill="none" stroke="#d77ad5" stroke-width="0.55" opacity="0.85"/>
<circle cx="169.42" cy="340.90" r="0.95" fill="none" stroke="#d77ad5" stroke-width="0.55" opacity="0.85"/>
<circle cx="168.35" cy="340.56" r="0.95" fill="none" stroke="#d77ad5" stroke-width="0.55" opacity="0.85"/>
<circle cx="174.61" cy="341.97" r="0.95" fill="none" stroke="#d77ad5" stroke-width="0.55" opacity="0.85"/>
<circle cx="168.49" cy="342.07" r="0.95" fill="none" stroke="#d77ad5" stroke-width="0.55" opacity="0.85"/>
<circle cx="171.88" cy="342.09" r="0.95" fill="none" stroke="#d77ad5" stroke-width="0.55" opacity="0.85"/>
<circle cx="169.15" cy="343.09" r="0.95" fill="none" stroke="#d77ad5" stroke-width="0.55" opacity="0.85"/>
<circle cx="175.89" cy="342.73" r="0.95" fill="none" stroke="#d77ad5" stroke-width="0.55" opacity="0.85"/>
<circle cx="175.30" cy="344.41" r="0.95" fill="none" stroke="#d77ad5" stroke-width="0.55" opacity="0.85"/>
<circle cx="171.88" cy="344.07" r="0.95" fill="none" stroke="#d77ad5" stroke-width="0.55" opacity="0.85"/>
<circle cx="172.38" cy="345.30" r="0.95" fill="none" stroke="#d77ad5" stroke-width="0.55" opacity="0.85"/>
<circle cx="169.60" cy="345.25" r="0.95" fill="none" stroke="#d77ad5" stroke-width="0.55" opacity="0.85"/>
<circle cx="169.90" cy="347.09" r="0.95" fill="none" stroke="#d77ad5" stroke-width="0.55" opacity="0.85"/>
<circle cx="171.50" cy="347.36" r="0.95" fill="none" stroke="#d77ad5" stroke-width="0.55" opacity="0.85"/>
<circle cx="170.40" cy="348.05" r="0.95" fill="none" stroke="#d77ad5" stroke-width="0.55" opacity="0.85"/>
<circle cx="174.04" cy="348.35" r="0.95" fill="none" stroke="#d77ad5" stroke-width="0.55" opacity="0.85"/>
<circle cx="169.71" cy="349.64" r="0.95" fill="none" stroke="#d77ad5" stroke-width="0.55" opacity="0.85"/>
<circle cx="170.80" cy="350.04" r="0.95" fill="none" stroke="#d77ad5" stroke-width="0.55" opacity="0.85"/>
<circle cx="173.46" cy="351.06" r="0.95" fill="none" stroke="#d77ad5" stroke-width="0.55" opacity="0.85"/>
<circle cx="171.05" cy="351.22" r="0.95" fill="none" stroke="#d77ad5" stroke-width="0.55" opacity="0.85"/>
<circle cx="174.05" cy="352.34" r="0.95" fill="none" stroke="#d77ad5" stroke-width="0.55" opacity="0.85"/>
<circle cx="171.88" cy="352.48" r="0.95" fill="none" stroke="#d77ad5" stroke-width="0.55" opacity="0.85"/>
<circle cx="171.67" cy="353.11" r="0.95" fill="none" stroke="#d77ad5" stroke-width="0.55" opacity="0.85"/>
<circle cx="171.66" cy="353.33" r="0.95" fill="none" stroke="#d77ad5" stroke-width="0.55" opacity="0.85"/>
<circle cx="173.04" cy="354.44" r="0.95" fill="none" stroke="#d77ad5" stroke-width="0.55" opacity="0.85"/>
<circle cx="173.86" cy="354.44" r="0.95" fill="none" stroke="#d77ad5" stroke-width="0.55" opacity="0.85"/>
<circle cx="172.55" cy="355.95" r="0.95" fill="none" stroke="#d77ad5" stroke-width="0.55" opacity="0.85"/>
<circle cx="174.99" cy="356.16" r="0.95" fill="none" stroke="#d77ad5" stroke-width="0.55" opacity="0.85"/>
<circle cx="171.11" cy="357.15" r="0.95" fill="none" stroke="#d77ad5" stroke-width="0.55" opacity="0.85"/>
<circle cx="171.41" cy="357.53" r="0.95" fill="none" stroke="#d77ad5" stroke-width="0.55" opacity="0.85"/>
<circle cx="171.48" cy="359.18" r="0.95" fill="none" stroke="#d77ad5" stroke-width="0.55" opacity="0.85"/>
<circle cx="173.77" cy="358.38" r="0.95" fill="none" stroke="#d77ad5" stroke-width="0.55" opacity="0.85"/>
<circle cx="169.98" cy="359.57" r="0.95" fill="none" stroke="#d77ad5" stroke-width="0.55" opacity="0.85"/>
<circle cx="172.10" cy="359.76" r="0.95" fill="none" stroke="#d77ad5" stroke-width="0.55" opacity="0.85"/>
<circle cx="171.90" cy="361.20" r="0.95" fill="none" stroke="#d77ad5" stroke-width="0.55" opacity="0.85"/>
<circle cx="174.43" cy="361.00" r="0.95" fill="none" stroke="#d77ad5" stroke-width="0.55" opacity="0.85"/>
<circle cx="174.73" cy="362.93" r="0.95" fill="none" stroke="#d77ad5" stroke-width="0.55" opacity="0.85"/>
<circle cx="174.45" cy="362.56" r="0.95" fill="none" stroke="#d77ad5" stroke-width="0.55" opacity="0.85"/>
<circle cx="172.21" cy="363.90" r="0.95" fill="none" stroke="#d77ad5" stroke-width="0.55" opacity="0.85"/>
<circle cx="174.01" cy="363.88" r="0.95" fill="none" stroke="#d77ad5" stroke-width="0.55" opacity="0.85"/>
<circle cx="170.36" cy="364.93" r="0.95" fill="none" stroke="#d77ad5" stroke-width="0.55" opacity="0.85"/>
<circle cx="174.58" cy="364.70" r="0.95" fill="none" stroke="#d77ad5" stroke-width="0.55" opacity="0.85"/>
<circle cx="172.89" cy="366.85" r="0.95" fill="none" stroke="#d77ad5" stroke-width="0.55" opacity="0.85"/>
<circle cx="171.88" cy="366.47" r="0.95" fill="none" stroke="#d77ad5" stroke-width="0.55" opacity="0.85"/>
<circle cx="172.41" cy="367.36" r="0.95" fill="none" stroke="#d77ad5" stroke-width="0.55" opacity="0.85"/>
<circle cx="172.09" cy="368.20" r="0.95" fill="none" stroke="#d77ad5" stroke-width="0.55" opacity="0.85"/>
<circle cx="172.02" cy="368.81" r="0.95" fill="none" stroke="#d77ad5" stroke-width="0.55" opacity="0.85"/>
<circle cx="173.98" cy="369.41" r="0.95" fill="none" stroke="#d77ad5" stroke-width="0.55" opacity="0.85"/>
<circle cx="172.84" cy="370.55" r="0.95" fill="none" stroke="#d77ad5" stroke-width="0.55" opacity="0.85"/>
<circle cx="171.41" cy="370.50" r="0.95" fill="none" stroke="#d77ad5" stroke-width="0.55" opacity="0.85"/>
<circle cx="173.38" cy="371.29" r="0.95" fill="none" stroke="#d77ad5" stroke-width="0.55" opacity="0.85"/>
<circle cx="171.89" cy="371.49" r="0.95" fill="none" stroke="#d77ad5" stroke-width="0.55" opacity="0.85"/>
<circle cx="171.32" cy="373.09" r="0.95" fill="none" stroke="#d77ad5" stroke-width="0.55" opacity="0.85"/>
<circle cx="170.64" cy="372.63" r="0.95" fill="none" stroke="#d77ad5" stroke-width="0.55" opacity="0.85"/>
<circle cx="172.36" cy="374.19" r="0.95" fill="none" stroke="#d77ad5" stroke-width="0.55" opacity="0.85"/>
<circle cx="172.60" cy="374.00" r="0.95" fill="none" stroke="#d77ad5" stroke-width="0.55" opacity="0.85"/>
<circle cx="171.77" cy="375.96" r="0.95" fill="none" stroke="#d77ad5" stroke-width="0.55" opacity="0.85"/>
<circle cx="172.16" cy="375.18" r="0.95" fill="none" stroke="#d77ad5" stroke-width="0.55" opacity="0.85"/>
<circle cx="174.22" cy="377.11" r="0.95" fill="none" stroke="#d77ad5" stroke-width="0.55" opacity="0.85"/>
<circle cx="173.08" cy="377.13" r="0.95" fill="none" stroke="#d77ad5" stroke-width="0.55" opacity="0.85"/>
<circle cx="173.25" cy="378.36" r="0.95" fill="none" stroke="#d77ad5" stroke-width="0.55" opacity="0.85"/>
<circle cx="170.82" cy="377.72" r="0.95" fill="none" stroke="#d77ad5" stroke-width="0.55" opacity="0.85"/>
<circle cx="170.65" cy="379.87" r="0.95" fill="none" stroke="#d77ad5" stroke-width="0.55" opacity="0.85"/>
<circle cx="170.78" cy="379.24" r="0.95" fill="none" stroke="#d77ad5" stroke-width="0.55" opacity="0.85"/>
<circle cx="173.82" cy="380.54" r="0.95" fill="none" stroke="#d77ad5" stroke-width="0.55" opacity="0.85"/>
<circle cx="172.91" cy="380.41" r="0.95" fill="none" stroke="#d77ad5" stroke-width="0.55" opacity="0.85"/>
<circle cx="170.71" cy="382.09" r="0.95" fill="none" stroke="#d77ad5" stroke-width="0.55" opacity="0.85"/>
<circle cx="173.11" cy="381.68" r="0.95" fill="none" stroke="#d77ad5" stroke-width="0.55" opacity="0.85"/>
<circle cx="173.61" cy="383.48" r="0.95" fill="none" stroke="#d77ad5" stroke-width="0.55" opacity="0.85"/>
<circle cx="172.68" cy="383.22" r="0.95" fill="none" stroke="#d77ad5" stroke-width="0.55" opacity="0.85"/>
<circle cx="170.92" cy="384.69" r="0.95" fill="none" stroke="#d77ad5" stroke-width="0.55" opacity="0.85"/>
<circle cx="173.35" cy="384.58" r="0.95" fill="none" stroke="#d77ad5" stroke-width="0.55" opacity="0.85"/>
<circle cx="171.89" cy="386.11" r="0.95" fill="none" stroke="#d77ad5" stroke-width="0.55" opacity="0.85"/>
<circle cx="170.88" cy="385.56" r="0.95" fill="none" stroke="#d77ad5" stroke-width="0.55" opacity="0.85"/>
<circle cx="172.22" cy="387.40" r="0.95" fill="none" stroke="#d77ad5" stroke-width="0.55" opacity="0.85"/>
<circle cx="172.56" cy="386.89" r="0.95" fill="none" stroke="#d77ad5" stroke-width="0.55" opacity="0.85"/>
<circle cx="172.31" cy="389.00" r="0.95" fill="none" stroke="#d77ad5" stroke-width="0.55" opacity="0.85"/>
<circle cx="171.10" cy="389.03" r="0.95" fill="none" stroke="#d77ad5" stroke-width="0.55" opacity="0.85"/>
<circle cx="172.63" cy="390.36" r="0.95" fill="none" stroke="#d77ad5" stroke-width="0.55" opacity="0.85"/>
<circle cx="171.28" cy="389.81" r="0.95" fill="none" stroke="#d77ad5" stroke-width="0.55" opacity="0.85"/>
<circle cx="171.52" cy="391.21" r="0.95" fill="none" stroke="#d77ad5" stroke-width="0.55" opacity="0.85"/>
<circle cx="173.42" cy="391.00" r="0.95" fill="none" stroke="#d77ad5" stroke-width="0.55" opacity="0.85"/>
<circle cx="172.66" cy="392.91" r="0.95" fill="none" stroke="#d77ad5" stroke-width="0.55" opacity="0.85"/>
<circle cx="172.85" cy="392.46" r="0.95" fill="none" stroke="#d77ad5" stroke-width="0.55" opacity="0.85"/>
<circle cx="171.43" cy="394.22" r="0.95" fill="none" stroke="#d77ad5" stroke-width="0.55" opacity="0.85"/>
<circle cx="173.85" cy="393.54" r="0.95" fill="none" stroke="#d77ad5" stroke-width="0.55" opacity="0.85"/>
<circle cx="171.71" cy="395.52" r="0.95" fill="none" stroke="#d77ad5" stroke-width="0.55" opacity="0.85"/>
<circle cx="171.88" cy="394.91" r="0.95" fill="none" stroke="#d77ad5" stroke-width="0.55" opacity="0.85"/>
<circle cx="172.72" cy="396.74" r="0.95" fill="none" stroke="#d77ad5" stroke-width="0.55" opacity="0.85"/>
<circle cx="171.06" cy="396.47" r="0.95" fill="none" stroke="#d77ad5" stroke-width="0.55" opacity="0.85"/>
<circle cx="171.00" cy="397.96" r="0.95" fill="none" stroke="#d77ad5" stroke-width="0.55" opacity="0.85"/>
<circle cx="171.21" cy="397.80" r="0.95" fill="none" stroke="#d77ad5" stroke-width="0.55" opacity="0.85"/>
<circle cx="172.09" cy="399.02" r="0.95" fill="none" stroke="#d77ad5" stroke-width="0.55" opacity="0.85"/>
<circle cx="173.71" cy="398.50" r="0.95" fill="none" stroke="#d77ad5" stroke-width="0.55" opacity="0.85"/>
<circle cx="173.55" cy="400.09" r="0.95" fill="none" stroke="#d77ad5" stroke-width="0.55" opacity="0.85"/>
<circle cx="172.89" cy="400.07" r="0.95" fill="none" stroke="#d77ad5" stroke-width="0.55" opacity="0.85"/>
<circle cx="171.55" cy="401.32" r="0.95" fill="none" stroke="#d77ad5" stroke-width="0.55" opacity="0.85"/>
<circle cx="172.42" cy="401.19" r="0.95" fill="none" stroke="#d77ad5" stroke-width="0.55" opacity="0.85"/>
<circle cx="173.16" cy="403.13" r="0.95" fill="none" stroke="#d77ad5" stroke-width="0.55" opacity="0.85"/>
<circle cx="173.28" cy="402.55" r="0.95" fill="none" stroke="#d77ad5" stroke-width="0.55" opacity="0.85"/>
<circle cx="173.10" cy="404.41" r="0.95" fill="none" stroke="#d77ad5" stroke-width="0.55" opacity="0.85"/>
<circle cx="173.45" cy="403.85" r="0.95" fill="none" stroke="#d77ad5" stroke-width="0.55" opacity="0.85"/>
<circle cx="172.65" cy="405.33" r="0.95" fill="none" stroke="#d77ad5" stroke-width="0.55" opacity="0.85"/>
<circle cx="174.16" cy="405.90" r="0.95" fill="none" stroke="#d77ad5" stroke-width="0.55" opacity="0.85"/>
<circle cx="171.27" cy="406.55" r="0.95" fill="none" stroke="#d77ad5" stroke-width="0.55" opacity="0.85"/>
<circle cx="171.53" cy="407.10" r="0.95" fill="none" stroke="#d77ad5" stroke-width="0.55" opacity="0.85"/>
<circle cx="173.13" cy="408.58" r="0.95" fill="none" stroke="#d77ad5" stroke-width="0.55" opacity="0.85"/>
<circle cx="170.98" cy="407.74" r="0.95" fill="none" stroke="#d77ad5" stroke-width="0.55" opacity="0.85"/>
<circle cx="171.01" cy="409.42" r="0.95" fill="none" stroke="#d77ad5" stroke-width="0.55" opacity="0.85"/>
<circle cx="172.39" cy="409.42" r="0.95" fill="none" stroke="#d77ad5" stroke-width="0.55" opacity="0.85"/>
<circle cx="174.37" cy="410.72" r="0.95" fill="none" stroke="#d77ad5" stroke-width="0.55" opacity="0.85"/>
<circle cx="171.40" cy="410.47" r="0.95" fill="none" stroke="#d77ad5" stroke-width="0.55" opacity="0.85"/>
<circle cx="170.61" cy="411.77" r="0.95" fill="none" stroke="#d77ad5" stroke-width="0.55" opacity="0.85"/>
<circle cx="170.06" cy="411.74" r="0.95" fill="none" stroke="#d77ad5" stroke-width="0.55" opacity="0.85"/>
<circle cx="172.11" cy="412.91" r="0.95" fill="none" stroke="#d77ad5" stroke-width="0.55" opacity="0.85"/>
<circle cx="171.89" cy="413.61" r="0.95" fill="none" stroke="#d77ad5" stroke-width="0.55" opacity="0.85"/>
<circle cx="173.30" cy="414.12" r="0.95" fill="none" stroke="#d77ad5" stroke-width="0.55" opacity="0.85"/>
<circle cx="169.63" cy="415.09" r="0.95" fill="none" stroke="#d77ad5" stroke-width="0.55" opacity="0.85"/>
<circle cx="169.49" cy="416.30" r="0.95" fill="none" stroke="#d77ad5" stroke-width="0.55" opacity="0.85"/>
<circle cx="171.65" cy="415.80" r="0.95" fill="none" stroke="#d77ad5" stroke-width="0.55" opacity="0.85"/>
<circle cx="167.94" cy="417.29" r="0.95" fill="none" stroke="#d77ad5" stroke-width="0.55" opacity="0.85"/>
<circle cx="170.44" cy="416.76" r="0.95" fill="none" stroke="#d77ad5" stroke-width="0.55" opacity="0.85"/>
<circle cx="168.57" cy="416.95" r="0.95" fill="none" stroke="#d77ad5" stroke-width="0.55" opacity="0.85"/>
<circle cx="162.73" cy="418.60" r="0.8" fill="none" stroke="#d77ad5" stroke-width="0.5"/>
<circle cx="165.59" cy="418.60" r="0.8" fill="none" stroke="#d77ad5" stroke-width="0.5"/>
<circle cx="168.03" cy="418.60" r="0.8" fill="none" stroke="#d77ad5" stroke-width="0.5"/>
<circle cx="169.72" cy="418.60" r="0.8" fill="none" stroke="#d77ad5" stroke-width="0.5"/>
<circle cx="172.46" cy="418.60" r="0.8" fill="none" stroke="#d77ad5" stroke-width="0.5"/>
<circle cx="175.10" cy="418.60" r="0.8" fill="none" stroke="#d77ad5" stroke-width="0.5"/>
<circle cx="176.90" cy="418.60" r="0.8" fill="none" stroke="#d77ad5" stroke-width="0.5"/>
<circle cx="179.95" cy="418.60" r="0.8" fill="none" stroke="#d77ad5" stroke-width="0.5"/>
<circle cx="182.43" cy="418.60" r="0.8" fill="none" stroke="#d77ad5" stroke-width="0.5"/>
<line x1="163.40" y1="325.30" x2="181.40" y2="325.30" stroke="#9a2a9a" stroke-width="1.1" stroke-dasharray="1.2,1.0"/>
<line x1="166.43" y1="339.70" x2="178.37" y2="339.70" stroke="#7e1f80" stroke-width="1.6" />
<line x1="30.30" y1="310.50" x2="187.80" y2="310.50" stroke="#8a8a8a" stroke-width="0.8" />
<line x1="187.80" y1="310.50" x2="187.80" y2="419.20" stroke="#7a7a7a" stroke-width="0.9" />
<line x1="30.30" y1="419.20" x2="187.80" y2="419.20" stroke="#6e6e6e" stroke-width="0.9" />
<line x1="30.30" y1="310.50" x2="30.30" y2="419.20" stroke="#bdbdbd" stroke-width="0.9" />
<line x1="28.30" y1="419.20" x2="30.30" y2="419.20" stroke="#666" stroke-width="0.7" />
<text x="27.50" y="421.54" font-size="6.5" text-anchor="end" fill="#333" color="#333" font-weight="normal" >0.0</text>
<line x1="28.30" y1="397.46" x2="30.30" y2="397.46" stroke="#666" stroke-width="0.7" />
<text x="27.50" y="399.80" font-size="6.5" text-anchor="end" fill="#333" color="#333" font-weight="normal" >0.2</text>
<line x1="28.30" y1="375.72" x2="30.30" y2="375.72" stroke="#666" stroke-width="0.7" />
<text x="27.50" y="378.06" font-size="6.5" text-anchor="end" fill="#333" color="#333" font-weight="normal" >0.4</text>
<line x1="28.30" y1="353.98" x2="30.30" y2="353.98" stroke="#666" stroke-width="0.7" />
<text x="27.50" y="356.32" font-size="6.5" text-anchor="end" fill="#333" color="#333" font-weight="normal" >0.6</text>
<line x1="28.30" y1="332.24" x2="30.30" y2="332.24" stroke="#666" stroke-width="0.7" />
<text x="27.50" y="334.58" font-size="6.5" text-anchor="end" fill="#333" color="#333" font-weight="normal" >0.8</text>
<line x1="28.30" y1="310.50" x2="30.30" y2="310.50" stroke="#666" stroke-width="0.7" />
<text x="27.50" y="312.84" font-size="6.5" text-anchor="end" fill="#333" color="#333" font-weight="normal" >1.0</text>
<text x="44.70" y="425.44" font-size="6.5" text-anchor="middle" fill="#333" color="#333" font-weight="normal" >1</text>
<text x="70.40" y="425.44" font-size="6.5" text-anchor="middle" fill="#333" color="#333" font-weight="normal" >2</text>
<text x="95.70" y="425.44" font-size="6.5" text-anchor="middle" fill="#333" color="#333" font-weight="normal" >3</text>
<text x="121.50" y="425.44" font-size="6.5" text-anchor="middle" fill="#333" color="#333" font-weight="normal" >4</text>
<text x="147.00" y="425.44" font-size="6.5" text-anchor="middle" fill="#333" color="#333" font-weight="normal" >5</text>
<text x="172.40" y="430.94" font-size="6.5" text-anchor="middle" fill="#333" color="#333" font-weight="normal" >Relay</text>
<text x="102.00" y="430.84" font-size="6.5" text-anchor="middle" fill="#333" color="#333" font-weight="normal" >local</text>
<text transform="translate(15.20,352.50) rotate(-90)" x="0" y="2.88" font-size="8" text-anchor="middle" fill="#2a2a2a" color="#2a2a2a">external test set</text>
<line x1="44.00" y1="296.80" x2="172.20" y2="296.80" stroke="#8a8a8a" stroke-width="0.8" />
<text x="57.20" y="302.68" font-size="6.6" text-anchor="middle" fill="#333" color="#333" font-weight="normal" >***</text>
<line x1="70.50" y1="298.90" x2="172.20" y2="298.90" stroke="#8a8a8a" stroke-width="0.8" />
<text x="83.70" y="305.28" font-size="6.6" text-anchor="middle" fill="#333" color="#333" font-weight="normal" >***</text>
<line x1="96.00" y1="301.30" x2="172.20" y2="301.30" stroke="#8a8a8a" stroke-width="0.8" />
<text x="109.20" y="306.78" font-size="6.6" text-anchor="middle" fill="#333" color="#333" font-weight="normal" >*</text>
<line x1="121.50" y1="304.00" x2="172.20" y2="304.00" stroke="#8a8a8a" stroke-width="0.8" />
<text x="134.70" y="309.28" font-size="6.6" text-anchor="middle" fill="#333" color="#333" font-weight="normal" >***</text>
<line x1="147.00" y1="306.60" x2="172.20" y2="306.60" stroke="#8a8a8a" stroke-width="0.8" />
<text x="160.20" y="310.98" font-size="6.6" text-anchor="middle" fill="#333" color="#333" font-weight="normal" >*</text>
<text x="188" y="294.5" font-size="9.6" font-weight="bold" fill="#111" color="#111">h</text>
<rect x="305.30" y="302.00" width="32.00" height="122.00" rx="0" fill="#dcdcdc" stroke="none" stroke-width="0.8" />
<rect x="218.20" y="367.90" width="20.10" height="56.10" rx="0" fill="#74d5f7" stroke="#4a9fbd" stroke-width="0.7" />
<line x1="228.25" y1="354.40" x2="228.25" y2="381.40" stroke="#5b9db5" stroke-width="0.8" />
<line x1="223.25" y1="354.40" x2="233.25" y2="354.40" stroke="#5b9db5" stroke-width="0.8" />
<line x1="223.25" y1="381.40" x2="233.25" y2="381.40" stroke="#5b9db5" stroke-width="0.8" />
<rect x="248.60" y="359.20" width="20.00" height="64.80" rx="0" fill="#c2f47c" stroke="#88b05a" stroke-width="0.7" />
<line x1="258.60" y1="346.30" x2="258.60" y2="372.70" stroke="#8aa86e" stroke-width="0.8" />
<line x1="253.60" y1="346.30" x2="263.60" y2="346.30" stroke="#8aa86e" stroke-width="0.8" />
<line x1="253.60" y1="372.70" x2="263.60" y2="372.70" stroke="#8aa86e" stroke-width="0.8" />
<rect x="279.60" y="356.20" width="19.90" height="67.80" rx="0" fill="#e6b87f" stroke="#b4894f" stroke-width="0.7" />
<line x1="289.55" y1="343.30" x2="289.55" y2="368.50" stroke="#a88058" stroke-width="0.8" />
<line x1="284.55" y1="343.30" x2="294.55" y2="343.30" stroke="#a88058" stroke-width="0.8" />
<line x1="284.55" y1="368.50" x2="294.55" y2="368.50" stroke="#a88058" stroke-width="0.8" />
<rect x="310.50" y="352.60" width="20.10" height="71.40" rx="0" fill="#f1a9ec" stroke="#b560b3" stroke-width="0.7" />
<line x1="320.55" y1="340.60" x2="320.55" y2="364.00" stroke="#a666a6" stroke-width="0.8" />
<line x1="315.55" y1="340.60" x2="325.55" y2="340.60" stroke="#a666a6" stroke-width="0.8" />
<line x1="315.55" y1="364.00" x2="325.55" y2="364.00" stroke="#a666a6" stroke-width="0.8" />
<rect x="211.90" y="302.00" width="125.40" height="122.00" rx="0" fill="none" stroke="#8c8c8c" stroke-width="0.8" />
<line x1="209.90" y1="418.60" x2="211.90" y2="418.60" stroke="#666" stroke-width="0.7" />
<text x="209.10" y="420.94" font-size="6.5" text-anchor="end" fill="#333" color="#333" font-weight="normal" >0.4</text>
<line x1="209.90" y1="358.60" x2="211.90" y2="358.60" stroke="#666" stroke-width="0.7" />
<text x="209.10" y="360.94" font-size="6.5" text-anchor="end" fill="#333" color="#333" font-weight="normal" >0.6</text>
<text x="228.25" y="432.86" font-size="7.1" text-anchor="middle" fill="#333" color="#333" font-weight="normal" >Federated</text>
<text x="258.60" y="432.86" font-size="7.1" text-anchor="middle" fill="#333" color="#333" font-weight="normal" >Swarm</text>
<text x="289.55" y="432.86" font-size="7.1" text-anchor="middle" fill="#333" color="#333" font-weight="normal" >central</text>
<text x="320.55" y="432.86" font-size="7.1" text-anchor="middle" fill="#333" color="#333" font-weight="normal" >Relay</text>
<text x="193.90" y="305.65" font-size="6.8" text-anchor="start" fill="#222" color="#222" font-weight="normal" >Dice</text>
<line x1="209.80" y1="305.85" x2="209.80" y2="302.35" stroke="#222" stroke-width="0.8" />
<path d="M208.30,302.75 L209.80,300.25 L211.30,302.75Z" fill="#222" stroke="none" stroke-width="0.8" />
<line x1="227.80" y1="304.20" x2="320.50" y2="304.20" stroke="#666" stroke-width="0.8" />
<text x="243.90" y="309.85" font-size="6.8" text-anchor="middle" fill="#333" color="#333" font-weight="normal" >ns</text>
<line x1="259.30" y1="306.00" x2="320.50" y2="306.00" stroke="#666" stroke-width="0.8" />
<text x="275.00" y="311.45" font-size="6.8" text-anchor="middle" fill="#333" color="#333" font-weight="normal" >ns</text>
<line x1="290.10" y1="308.00" x2="320.50" y2="308.00" stroke="#666" stroke-width="0.8" />
<text x="305.30" y="313.65" font-size="6.8" text-anchor="middle" fill="#333" color="#333" font-weight="normal" >ns</text>
<text x="345" y="294" font-size="9.6" font-weight="bold" fill="#111" color="#111">i</text>
<line x1="409.60" y1="312.60" x2="409.60" y2="414.30" stroke="#888" stroke-width="0.8" stroke-dasharray="1,1"/>
<line x1="455.10" y1="312.60" x2="455.10" y2="414.30" stroke="#888" stroke-width="0.8" stroke-dasharray="1,1"/>
<rect x="371.30" y="368.49" width="12.60" height="45.81" rx="0" fill="#8aabdc" stroke="#5d86c4" stroke-width="0.7" />
<line x1="377.60" y1="361.41" x2="377.60" y2="374.27" stroke="#6d95d0" stroke-width="0.8" />
<line x1="374.10" y1="361.41" x2="381.10" y2="361.41" stroke="#6d95d0" stroke-width="0.8" />
<line x1="374.10" y1="374.27" x2="381.10" y2="374.27" stroke="#6d95d0" stroke-width="0.8" />
<rect x="390.40" y="351.01" width="12.40" height="63.29" rx="0" fill="#f1a9ec" stroke="#c063be" stroke-width="0.7" />
<line x1="396.60" y1="345.23" x2="396.60" y2="356.36" stroke="#d173cf" stroke-width="0.8" />
<line x1="393.10" y1="345.23" x2="400.10" y2="345.23" stroke="#d173cf" stroke-width="0.8" />
<line x1="393.10" y1="356.36" x2="400.10" y2="356.36" stroke="#d173cf" stroke-width="0.8" />
<rect x="416.00" y="362.57" width="12.60" height="51.73" rx="0" fill="#8aabdc" stroke="#5d86c4" stroke-width="0.7" />
<line x1="422.30" y1="355.49" x2="422.30" y2="368.49" stroke="#6d95d0" stroke-width="0.8" />
<line x1="418.80" y1="355.49" x2="425.80" y2="355.49" stroke="#6d95d0" stroke-width="0.8" />
<line x1="418.80" y1="368.49" x2="425.80" y2="368.49" stroke="#6d95d0" stroke-width="0.8" />
<rect x="435.10" y="354.19" width="12.40" height="60.11" rx="0" fill="#f1a9ec" stroke="#c063be" stroke-width="0.7" />
<line x1="441.30" y1="348.70" x2="441.30" y2="359.54" stroke="#d173cf" stroke-width="0.8" />
<line x1="437.80" y1="348.70" x2="444.80" y2="348.70" stroke="#d173cf" stroke-width="0.8" />
<line x1="437.80" y1="359.54" x2="444.80" y2="359.54" stroke="#d173cf" stroke-width="0.8" />
<rect x="460.90" y="366.90" width="12.30" height="47.40" rx="0" fill="#8aabdc" stroke="#5d86c4" stroke-width="0.7" />
<line x1="467.05" y1="359.82" x2="467.05" y2="372.97" stroke="#6d95d0" stroke-width="0.8" />
<line x1="463.55" y1="359.82" x2="470.55" y2="359.82" stroke="#6d95d0" stroke-width="0.8" />
<line x1="463.55" y1="372.97" x2="470.55" y2="372.97" stroke="#6d95d0" stroke-width="0.8" />
<rect x="480.30" y="350.14" width="12.10" height="64.16" rx="0" fill="#f1a9ec" stroke="#c063be" stroke-width="0.7" />
<line x1="486.35" y1="344.36" x2="486.35" y2="355.92" stroke="#d173cf" stroke-width="0.8" />
<line x1="482.85" y1="344.36" x2="489.85" y2="344.36" stroke="#d173cf" stroke-width="0.8" />
<line x1="482.85" y1="355.92" x2="489.85" y2="355.92" stroke="#d173cf" stroke-width="0.8" />
<rect x="364.30" y="312.60" width="134.40" height="101.70" rx="0" fill="none" stroke="#8c8c8c" stroke-width="0.8" />
<line x1="362.30" y1="411.70" x2="364.30" y2="411.70" stroke="#666" stroke-width="0.7" />
<text x="361.50" y="414.04" font-size="6.5" text-anchor="end" fill="#333" color="#333" font-weight="normal" >0.2</text>
<line x1="362.30" y1="382.80" x2="364.30" y2="382.80" stroke="#666" stroke-width="0.7" />
<text x="361.50" y="385.14" font-size="6.5" text-anchor="end" fill="#333" color="#333" font-weight="normal" >0.4</text>
<line x1="362.30" y1="353.90" x2="364.30" y2="353.90" stroke="#666" stroke-width="0.7" />
<text x="361.50" y="356.24" font-size="6.5" text-anchor="end" fill="#333" color="#333" font-weight="normal" >0.6</text>
<line x1="362.30" y1="325.00" x2="364.30" y2="325.00" stroke="#666" stroke-width="0.7" />
<text x="361.50" y="327.34" font-size="6.5" text-anchor="end" fill="#333" color="#333" font-weight="normal" >0.8</text>
<text x="386.70" y="422.75" font-size="6.8" text-anchor="middle" fill="#333" color="#333" font-weight="normal" >episode1</text>
<text x="432.20" y="422.75" font-size="6.8" text-anchor="middle" fill="#333" color="#333" font-weight="normal" >episode2</text>
<text x="477.50" y="422.75" font-size="6.8" text-anchor="middle" fill="#333" color="#333" font-weight="normal" >episode3</text>
<text x="348.90" y="309.32" font-size="7.0" text-anchor="start" fill="#222" color="#222" font-weight="normal" >Dice</text>
<line x1="365.20" y1="309.52" x2="365.20" y2="305.88" stroke="#222" stroke-width="0.8" />
<path d="M363.70,306.28 L365.20,303.78 L366.70,306.28Z" fill="#222" stroke="none" stroke-width="0.8" />
<rect x="386.50" y="426.40" width="11.30" height="5.20" rx="0" fill="#8aabdc" stroke="#5d86c4" stroke-width="0.6" />
<text x="403.00" y="431.45" font-size="6.8" text-anchor="start" fill="#333" color="#333" font-weight="normal" >sequential</text>
<rect x="439.90" y="426.40" width="11.50" height="5.20" rx="0" fill="#f1a9ec" stroke="#c063be" stroke-width="0.6" />
<text x="455.60" y="431.45" font-size="6.8" text-anchor="start" fill="#333" color="#333" font-weight="normal" >Relay</text>
<line x1="396.50" y1="299.50" x2="485.80" y2="299.50" stroke="#8a8a8a" stroke-width="0.8" />
<text x="441.70" y="305.35" font-size="6.8" text-anchor="middle" fill="#333" color="#333" font-weight="normal" >ns</text>
<line x1="396.50" y1="306.00" x2="439.90" y2="306.00" stroke="#8a8a8a" stroke-width="0.8" />
<text x="418.00" y="311.65" font-size="6.8" text-anchor="middle" fill="#333" color="#333" font-weight="normal" >ns</text>
<line x1="443.00" y1="306.00" x2="485.80" y2="306.00" stroke="#8a8a8a" stroke-width="0.8" />
<text x="463.50" y="311.65" font-size="6.8" text-anchor="middle" fill="#333" color="#333" font-weight="normal" >ns</text>
<line x1="378.00" y1="314.70" x2="397.50" y2="314.70" stroke="#555" stroke-width="0.75" />
<text x="387.80" y="320.05" font-size="6.8" text-anchor="middle" fill="#333" color="#333" font-weight="normal" >***</text>
<line x1="422.00" y1="314.70" x2="440.90" y2="314.70" stroke="#555" stroke-width="0.75" />
<text x="431.50" y="320.65" font-size="6.8" text-anchor="middle" fill="#333" color="#333" font-weight="normal" >ns</text>
<line x1="467.50" y1="314.70" x2="486.90" y2="314.70" stroke="#555" stroke-width="0.75" />
<text x="477.20" y="320.05" font-size="6.8" text-anchor="middle" fill="#333" color="#333" font-weight="normal" >***</text>
<text x="505.5" y="295" font-size="9.6" font-weight="bold" fill="#111" color="#111">j</text>
<rect x="530.50" y="310.80" width="153.10" height="21.00" rx="0" fill="#f9e2c8" stroke="none" stroke-width="0.8" />
<line x1="530.50" y1="320.92" x2="683.60" y2="320.92" stroke="#e8a84c" stroke-width="0.8" stroke-dasharray="3,1.2,1,1.2"/>
<text x="540.00" y="330.44" font-size="7.6" text-anchor="start" fill="#333" color="#333" font-weight="normal" >central</text>
<line x1="536.20" y1="359.63" x2="536.20" y2="379.87" stroke="#9fbde8" stroke-width="0.9" />
<line x1="534.70" y1="359.63" x2="537.70" y2="359.63" stroke="#9fbde8" stroke-width="0.8" />
<line x1="534.70" y1="379.87" x2="537.70" y2="379.87" stroke="#9fbde8" stroke-width="0.8" />
<line x1="569.20" y1="349.51" x2="569.20" y2="374.81" stroke="#9fbde8" stroke-width="0.9" />
<line x1="567.70" y1="349.51" x2="570.70" y2="349.51" stroke="#9fbde8" stroke-width="0.8" />
<line x1="567.70" y1="374.81" x2="570.70" y2="374.81" stroke="#9fbde8" stroke-width="0.8" />
<line x1="602.20" y1="331.80" x2="602.20" y2="357.10" stroke="#9fbde8" stroke-width="0.9" />
<line x1="600.70" y1="331.80" x2="603.70" y2="331.80" stroke="#9fbde8" stroke-width="0.8" />
<line x1="600.70" y1="357.10" x2="603.70" y2="357.10" stroke="#9fbde8" stroke-width="0.8" />
<line x1="635.20" y1="360.13" x2="635.20" y2="382.90" stroke="#9fbde8" stroke-width="0.9" />
<line x1="633.70" y1="360.13" x2="636.70" y2="360.13" stroke="#9fbde8" stroke-width="0.8" />
<line x1="633.70" y1="382.90" x2="636.70" y2="382.90" stroke="#9fbde8" stroke-width="0.8" />
<line x1="668.20" y1="335.84" x2="668.20" y2="361.14" stroke="#9fbde8" stroke-width="0.9" />
<line x1="666.70" y1="335.84" x2="669.70" y2="335.84" stroke="#9fbde8" stroke-width="0.8" />
<line x1="666.70" y1="361.14" x2="669.70" y2="361.14" stroke="#9fbde8" stroke-width="0.8" />
<line x1="539.60" y1="348.75" x2="539.60" y2="371.52" stroke="#9fbde8" stroke-width="0.9" />
<line x1="538.10" y1="348.75" x2="541.10" y2="348.75" stroke="#9fbde8" stroke-width="0.8" />
<line x1="538.10" y1="371.52" x2="541.10" y2="371.52" stroke="#9fbde8" stroke-width="0.8" />
<line x1="572.60" y1="373.54" x2="572.60" y2="393.78" stroke="#9fbde8" stroke-width="0.9" />
<line x1="571.10" y1="373.54" x2="574.10" y2="373.54" stroke="#9fbde8" stroke-width="0.8" />
<line x1="571.10" y1="393.78" x2="574.10" y2="393.78" stroke="#9fbde8" stroke-width="0.8" />
<line x1="605.60" y1="343.18" x2="605.60" y2="368.48" stroke="#9fbde8" stroke-width="0.9" />
<line x1="604.10" y1="343.18" x2="607.10" y2="343.18" stroke="#9fbde8" stroke-width="0.8" />
<line x1="604.10" y1="368.48" x2="607.10" y2="368.48" stroke="#9fbde8" stroke-width="0.8" />
<line x1="638.60" y1="329.01" x2="638.60" y2="351.78" stroke="#9fbde8" stroke-width="0.9" />
<line x1="637.10" y1="329.01" x2="640.10" y2="329.01" stroke="#9fbde8" stroke-width="0.8" />
<line x1="637.10" y1="351.78" x2="640.10" y2="351.78" stroke="#9fbde8" stroke-width="0.8" />
<line x1="671.60" y1="326.23" x2="671.60" y2="349.00" stroke="#9fbde8" stroke-width="0.9" />
<line x1="670.10" y1="326.23" x2="673.10" y2="326.23" stroke="#9fbde8" stroke-width="0.8" />
<line x1="670.10" y1="349.00" x2="673.10" y2="349.00" stroke="#9fbde8" stroke-width="0.8" />
<line x1="543.00" y1="357.60" x2="543.00" y2="377.84" stroke="#9fbde8" stroke-width="0.9" />
<line x1="541.50" y1="357.60" x2="544.50" y2="357.60" stroke="#9fbde8" stroke-width="0.8" />
<line x1="541.50" y1="377.84" x2="544.50" y2="377.84" stroke="#9fbde8" stroke-width="0.8" />
<line x1="576.00" y1="330.53" x2="576.00" y2="355.83" stroke="#9fbde8" stroke-width="0.9" />
<line x1="574.50" y1="330.53" x2="577.50" y2="330.53" stroke="#9fbde8" stroke-width="0.8" />
<line x1="574.50" y1="355.83" x2="577.50" y2="355.83" stroke="#9fbde8" stroke-width="0.8" />
<line x1="609.00" y1="354.82" x2="609.00" y2="377.59" stroke="#9fbde8" stroke-width="0.9" />
<line x1="607.50" y1="354.82" x2="610.50" y2="354.82" stroke="#9fbde8" stroke-width="0.8" />
<line x1="607.50" y1="377.59" x2="610.50" y2="377.59" stroke="#9fbde8" stroke-width="0.8" />
<line x1="642.00" y1="326.23" x2="642.00" y2="346.47" stroke="#9fbde8" stroke-width="0.9" />
<line x1="640.50" y1="326.23" x2="643.50" y2="326.23" stroke="#9fbde8" stroke-width="0.8" />
<line x1="640.50" y1="346.47" x2="643.50" y2="346.47" stroke="#9fbde8" stroke-width="0.8" />
<line x1="675.00" y1="333.31" x2="675.00" y2="358.61" stroke="#9fbde8" stroke-width="0.9" />
<line x1="673.50" y1="333.31" x2="676.50" y2="333.31" stroke="#9fbde8" stroke-width="0.8" />
<line x1="673.50" y1="358.61" x2="676.50" y2="358.61" stroke="#9fbde8" stroke-width="0.8" />
<line x1="537.00" y1="373.54" x2="537.00" y2="393.78" stroke="#f0acee" stroke-width="0.9" />
<line x1="535.50" y1="373.54" x2="538.50" y2="373.54" stroke="#f0acee" stroke-width="0.8" />
<line x1="535.50" y1="393.78" x2="538.50" y2="393.78" stroke="#f0acee" stroke-width="0.8" />
<line x1="570.00" y1="336.35" x2="570.00" y2="359.12" stroke="#f0acee" stroke-width="0.9" />
<line x1="568.50" y1="336.35" x2="571.50" y2="336.35" stroke="#f0acee" stroke-width="0.8" />
<line x1="568.50" y1="359.12" x2="571.50" y2="359.12" stroke="#f0acee" stroke-width="0.8" />
<line x1="603.00" y1="321.42" x2="603.00" y2="346.72" stroke="#f0acee" stroke-width="0.9" />
<line x1="601.50" y1="321.42" x2="604.50" y2="321.42" stroke="#f0acee" stroke-width="0.8" />
<line x1="601.50" y1="346.72" x2="604.50" y2="346.72" stroke="#f0acee" stroke-width="0.8" />
<line x1="636.00" y1="323.45" x2="636.00" y2="346.22" stroke="#f0acee" stroke-width="0.9" />
<line x1="634.50" y1="323.45" x2="637.50" y2="323.45" stroke="#f0acee" stroke-width="0.8" />
<line x1="634.50" y1="346.22" x2="637.50" y2="346.22" stroke="#f0acee" stroke-width="0.8" />
<line x1="669.00" y1="308.52" x2="669.00" y2="328.76" stroke="#f0acee" stroke-width="0.9" />
<line x1="667.50" y1="308.52" x2="670.50" y2="308.52" stroke="#f0acee" stroke-width="0.8" />
<line x1="667.50" y1="328.76" x2="670.50" y2="328.76" stroke="#f0acee" stroke-width="0.8" />
<line x1="540.40" y1="341.66" x2="540.40" y2="364.43" stroke="#f0acee" stroke-width="0.9" />
<line x1="538.90" y1="341.66" x2="541.90" y2="341.66" stroke="#f0acee" stroke-width="0.8" />
<line x1="538.90" y1="364.43" x2="541.90" y2="364.43" stroke="#f0acee" stroke-width="0.8" />
<line x1="573.40" y1="336.35" x2="573.40" y2="359.12" stroke="#f0acee" stroke-width="0.9" />
<line x1="571.90" y1="336.35" x2="574.90" y2="336.35" stroke="#f0acee" stroke-width="0.8" />
<line x1="571.90" y1="359.12" x2="574.90" y2="359.12" stroke="#f0acee" stroke-width="0.8" />
<line x1="606.40" y1="327.75" x2="606.40" y2="353.05" stroke="#f0acee" stroke-width="0.9" />
<line x1="604.90" y1="327.75" x2="607.90" y2="327.75" stroke="#f0acee" stroke-width="0.8" />
<line x1="604.90" y1="353.05" x2="607.90" y2="353.05" stroke="#f0acee" stroke-width="0.8" />
<line x1="639.40" y1="319.40" x2="639.40" y2="339.64" stroke="#f0acee" stroke-width="0.9" />
<line x1="637.90" y1="319.40" x2="640.90" y2="319.40" stroke="#f0acee" stroke-width="0.8" />
<line x1="637.90" y1="339.64" x2="640.90" y2="339.64" stroke="#f0acee" stroke-width="0.8" />
<line x1="672.40" y1="314.09" x2="672.40" y2="334.33" stroke="#f0acee" stroke-width="0.9" />
<line x1="670.90" y1="314.09" x2="673.90" y2="314.09" stroke="#f0acee" stroke-width="0.8" />
<line x1="670.90" y1="334.33" x2="673.90" y2="334.33" stroke="#f0acee" stroke-width="0.8" />
<line x1="543.80" y1="354.82" x2="543.80" y2="375.06" stroke="#f0acee" stroke-width="0.9" />
<line x1="542.30" y1="354.82" x2="545.30" y2="354.82" stroke="#f0acee" stroke-width="0.8" />
<line x1="542.30" y1="375.06" x2="545.30" y2="375.06" stroke="#f0acee" stroke-width="0.8" />
<line x1="576.80" y1="352.04" x2="576.80" y2="374.81" stroke="#f0acee" stroke-width="0.9" />
<line x1="575.30" y1="352.04" x2="578.30" y2="352.04" stroke="#f0acee" stroke-width="0.8" />
<line x1="575.30" y1="374.81" x2="578.30" y2="374.81" stroke="#f0acee" stroke-width="0.8" />
<line x1="609.80" y1="324.96" x2="609.80" y2="347.74" stroke="#f0acee" stroke-width="0.9" />
<line x1="608.30" y1="324.96" x2="611.30" y2="324.96" stroke="#f0acee" stroke-width="0.8" />
<line x1="608.30" y1="347.74" x2="611.30" y2="347.74" stroke="#f0acee" stroke-width="0.8" />
<line x1="642.80" y1="320.92" x2="642.80" y2="341.16" stroke="#f0acee" stroke-width="0.9" />
<line x1="641.30" y1="320.92" x2="644.30" y2="320.92" stroke="#f0acee" stroke-width="0.8" />
<line x1="641.30" y1="341.16" x2="644.30" y2="341.16" stroke="#f0acee" stroke-width="0.8" />
<line x1="675.80" y1="310.04" x2="675.80" y2="330.28" stroke="#f0acee" stroke-width="0.9" />
<line x1="674.30" y1="310.04" x2="677.30" y2="310.04" stroke="#f0acee" stroke-width="0.8" />
<line x1="674.30" y1="330.28" x2="677.30" y2="330.28" stroke="#f0acee" stroke-width="0.8" />
<polyline points="536.60,369.75 569.60,362.16 602.60,344.45 635.60,371.52 668.60,348.49" fill="none" stroke="#7ea5dd" stroke-width="1.7" />
<polyline points="540.00,360.13 573.00,383.66 606.00,355.83 639.00,340.40 672.00,337.62" fill="none" stroke="#7ea5dd" stroke-width="1.7" stroke-dasharray="5,2.2"/>
<polyline points="543.40,367.72 576.40,343.18 609.40,366.20 642.40,336.35 675.40,345.96" fill="none" stroke="#7ea5dd" stroke-width="1.7" stroke-dasharray="1.1,1.3"/>
<polyline points="536.60,383.66 569.60,347.74 602.60,334.07 635.60,334.83 668.60,318.64" fill="none" stroke="#ef9ae9" stroke-width="1.7" />
<polyline points="540.00,353.05 573.00,347.74 606.00,340.40 639.00,329.52 672.00,324.21" fill="none" stroke="#ef9ae9" stroke-width="1.7" stroke-dasharray="5,2.2"/>
<polyline points="543.40,364.94 576.40,363.42 609.40,336.35 642.40,331.04 675.40,320.16" fill="none" stroke="#ef9ae9" stroke-width="1.7" stroke-dasharray="1.1,1.3"/>
<rect x="530.50" y="301.20" width="153.10" height="123.70" rx="0" fill="none" stroke="#8c8c8c" stroke-width="0.8" />
<line x1="528.50" y1="424.90" x2="530.50" y2="424.90" stroke="#666" stroke-width="0.7" />
<text x="527.70" y="427.42" font-size="7" text-anchor="end" fill="#333" color="#333" font-weight="normal" >0.2</text>
<line x1="528.50" y1="399.60" x2="530.50" y2="399.60" stroke="#666" stroke-width="0.7" />
<text x="527.70" y="402.12" font-size="7" text-anchor="end" fill="#333" color="#333" font-weight="normal" >0.3</text>
<line x1="528.50" y1="374.30" x2="530.50" y2="374.30" stroke="#666" stroke-width="0.7" />
<text x="527.70" y="376.82" font-size="7" text-anchor="end" fill="#333" color="#333" font-weight="normal" >0.4</text>
<line x1="528.50" y1="349.00" x2="530.50" y2="349.00" stroke="#666" stroke-width="0.7" />
<text x="527.70" y="351.52" font-size="7" text-anchor="end" fill="#333" color="#333" font-weight="normal" >0.5</text>
<line x1="528.50" y1="323.70" x2="530.50" y2="323.70" stroke="#666" stroke-width="0.7" />
<text x="527.70" y="326.22" font-size="7" text-anchor="end" fill="#333" color="#333" font-weight="normal" >0.6</text>
<text x="541.80" y="432.82" font-size="7" text-anchor="end" fill="#333" color="#333" font-weight="normal" >host1</text>
<text x="573.00" y="432.82" font-size="7" text-anchor="middle" fill="#333" color="#333" font-weight="normal" >2</text>
<text x="606.00" y="432.82" font-size="7" text-anchor="middle" fill="#333" color="#333" font-weight="normal" >3</text>
<text x="639.00" y="432.82" font-size="7" text-anchor="middle" fill="#333" color="#333" font-weight="normal" >4</text>
<text x="672.00" y="432.82" font-size="7" text-anchor="middle" fill="#333" color="#333" font-weight="normal" >5</text>
<line x1="540.00" y1="424.90" x2="540.00" y2="426.40" stroke="#666" stroke-width="0.6" />
<line x1="573.00" y1="424.90" x2="573.00" y2="426.40" stroke="#666" stroke-width="0.6" />
<line x1="606.00" y1="424.90" x2="606.00" y2="426.40" stroke="#666" stroke-width="0.6" />
<line x1="639.00" y1="424.90" x2="639.00" y2="426.40" stroke="#666" stroke-width="0.6" />
<line x1="672.00" y1="424.90" x2="672.00" y2="426.40" stroke="#666" stroke-width="0.6" />
<text x="510.80" y="304.12" font-size="7.0" text-anchor="start" fill="#222" color="#222" font-weight="normal" >Dice</text>
<line x1="527.10" y1="304.32" x2="527.10" y2="300.68" stroke="#222" stroke-width="0.8" />
<path d="M525.60,301.08 L527.10,298.58 L528.60,301.08Z" fill="#222" stroke="none" stroke-width="0.8" />
<circle cx="575.6" cy="402.5" r="2.9" fill="#7ea5dd"/>
<circle cx="575.6" cy="414.6" r="2.9" fill="#ef9ae9"/>
<text x="582.10" y="405.24" font-size="7.6" text-anchor="start" fill="#333" color="#333" font-weight="normal" >sequential</text>
<text x="582.10" y="417.34" font-size="7.6" text-anchor="start" fill="#333" color="#333" font-weight="normal" >Relay</text>
<line x1="626.40" y1="396.30" x2="643.90" y2="396.30" stroke="#222" stroke-width="1.3" />
<text x="648.00" y="399.04" font-size="7.6" text-anchor="start" fill="#333" color="#333" font-weight="normal" >episode1</text>
<line x1="626.40" y1="407.90" x2="643.90" y2="407.90" stroke="#222" stroke-width="1.3" stroke-dasharray="4.5,2"/>
<text x="648.00" y="410.64" font-size="7.6" text-anchor="start" fill="#333" color="#333" font-weight="normal" >episode2</text>
<line x1="626.40" y1="417.90" x2="643.90" y2="417.90" stroke="#222" stroke-width="1.3" stroke-dasharray="1.2,1.2"/>
<text x="648.00" y="420.64" font-size="7.6" text-anchor="start" fill="#333" color="#333" font-weight="normal" >episode3</text>
<text x="11" y="460.5" font-size="9.6" font-weight="bold" fill="#111" color="#111">k</text>
<text x="97.50" y="464.18" font-size="6.9" text-anchor="middle" fill="#222" color="#222" font-weight="normal" >sequential</text>
<rect x="30.40" y="470.30" width="27.56" height="29.16" rx="0" fill="#5a3b83" stroke="none" stroke-width="0.8" />
<text x="43.98" y="486.84" font-size="6" text-anchor="middle" fill="#ffffff" color="#ffffff" font-weight="normal" >0.346</text>
<rect x="57.56" y="470.30" width="27.56" height="29.16" rx="0" fill="#58206a" stroke="none" stroke-width="0.8" />
<text x="71.14" y="486.84" font-size="6" text-anchor="middle" fill="#ffffff" color="#ffffff" font-weight="normal" >0.308</text>
<rect x="84.72" y="470.30" width="27.56" height="29.16" rx="0" fill="#58468b" stroke="none" stroke-width="0.8" />
<text x="98.30" y="486.84" font-size="6" text-anchor="middle" fill="#ffffff" color="#ffffff" font-weight="normal" >0.363</text>
<rect x="111.88" y="470.30" width="27.56" height="29.16" rx="0" fill="#592a74" stroke="none" stroke-width="0.8" />
<text x="125.46" y="486.84" font-size="6" text-anchor="middle" fill="#ffffff" color="#ffffff" font-weight="normal" >0.321</text>
<rect x="139.04" y="470.30" width="27.56" height="29.16" rx="0" fill="#584d8e" stroke="none" stroke-width="0.8" />
<text x="152.62" y="486.84" font-size="6" text-anchor="middle" fill="#ffffff" color="#ffffff" font-weight="normal" >0.374</text>
<line x1="27.90" y1="484.68" x2="30.40" y2="484.68" stroke="#444" stroke-width="0.6" />
<text x="22.60" y="487.38" font-size="7.5" text-anchor="end" fill="#222" color="#222" font-weight="normal" >T1</text>
<rect x="30.40" y="499.06" width="27.56" height="29.16" rx="0" fill="#3b9099" stroke="none" stroke-width="0.8" />
<text x="43.98" y="515.60" font-size="6" text-anchor="middle" fill="#111111" color="#111111" font-weight="normal" >0.502</text>
<rect x="57.56" y="499.06" width="27.56" height="29.16" rx="0" fill="#36ab93" stroke="none" stroke-width="0.8" />
<text x="71.14" y="515.60" font-size="6" text-anchor="middle" fill="#111111" color="#111111" font-weight="normal" >0.558</text>
<rect x="84.72" y="499.06" width="27.56" height="29.16" rx="0" fill="#38b090" stroke="none" stroke-width="0.8" />
<text x="98.30" y="515.60" font-size="6" text-anchor="middle" fill="#111111" color="#111111" font-weight="normal" >0.568</text>
<rect x="111.88" y="499.06" width="27.56" height="29.16" rx="0" fill="#5a3e85" stroke="none" stroke-width="0.8" />
<text x="125.46" y="515.60" font-size="6" text-anchor="middle" fill="#ffffff" color="#ffffff" font-weight="normal" >0.350</text>
<rect x="139.04" y="499.06" width="27.56" height="29.16" rx="0" fill="#36aa93" stroke="none" stroke-width="0.8" />
<text x="152.62" y="515.60" font-size="6" text-anchor="middle" fill="#111111" color="#111111" font-weight="normal" >0.557</text>
<line x1="27.90" y1="513.44" x2="30.40" y2="513.44" stroke="#444" stroke-width="0.6" />
<text x="22.60" y="516.14" font-size="7.5" text-anchor="end" fill="#222" color="#222" font-weight="normal" >T2</text>
<rect x="30.40" y="527.82" width="27.56" height="29.16" rx="0" fill="#3e8799" stroke="none" stroke-width="0.8" />
<text x="43.98" y="544.36" font-size="6" text-anchor="middle" fill="#ffffff" color="#ffffff" font-weight="normal" >0.484</text>
<rect x="57.56" y="527.82" width="27.56" height="29.16" rx="0" fill="#437c99" stroke="none" stroke-width="0.8" />
<text x="71.14" y="544.36" font-size="6" text-anchor="middle" fill="#ffffff" color="#ffffff" font-weight="normal" >0.462</text>
<rect x="84.72" y="527.82" width="27.56" height="29.16" rx="0" fill="#36aa93" stroke="none" stroke-width="0.8" />
<text x="98.30" y="544.36" font-size="6" text-anchor="middle" fill="#111111" color="#111111" font-weight="normal" >0.556</text>
<rect x="111.88" y="527.82" width="27.56" height="29.16" rx="0" fill="#37af91" stroke="none" stroke-width="0.8" />
<text x="125.46" y="544.36" font-size="6" text-anchor="middle" fill="#111111" color="#111111" font-weight="normal" >0.567</text>
<rect x="139.04" y="527.82" width="27.56" height="29.16" rx="0" fill="#74d06e" stroke="none" stroke-width="0.8" />
<text x="152.62" y="544.36" font-size="6" text-anchor="middle" fill="#111111" color="#111111" font-weight="normal" >0.643</text>
<line x1="27.90" y1="542.20" x2="30.40" y2="542.20" stroke="#444" stroke-width="0.6" />
<text x="22.60" y="544.90" font-size="7.5" text-anchor="end" fill="#222" color="#222" font-weight="normal" >T3</text>
<rect x="30.40" y="556.58" width="27.56" height="29.16" rx="0" fill="#3c8e99" stroke="none" stroke-width="0.8" />
<text x="43.98" y="573.12" font-size="6" text-anchor="middle" fill="#111111" color="#111111" font-weight="normal" >0.499</text>
<rect x="57.56" y="556.58" width="27.56" height="29.16" rx="0" fill="#34a495" stroke="none" stroke-width="0.8" />
<text x="71.14" y="573.12" font-size="6" text-anchor="middle" fill="#111111" color="#111111" font-weight="normal" >0.544</text>
<rect x="84.72" y="556.58" width="27.56" height="29.16" rx="0" fill="#379c98" stroke="none" stroke-width="0.8" />
<text x="98.30" y="573.12" font-size="6" text-anchor="middle" fill="#111111" color="#111111" font-weight="normal" >0.525</text>
<rect x="111.88" y="556.58" width="27.56" height="29.16" rx="0" fill="#36a097" stroke="none" stroke-width="0.8" />
<text x="125.46" y="573.12" font-size="6" text-anchor="middle" fill="#111111" color="#111111" font-weight="normal" >0.533</text>
<rect x="139.04" y="556.58" width="27.56" height="29.16" rx="0" fill="#34a595" stroke="none" stroke-width="0.8" />
<text x="152.62" y="573.12" font-size="6" text-anchor="middle" fill="#111111" color="#111111" font-weight="normal" >0.546</text>
<line x1="27.90" y1="570.96" x2="30.40" y2="570.96" stroke="#444" stroke-width="0.6" />
<text x="22.60" y="573.66" font-size="7.5" text-anchor="end" fill="#222" color="#222" font-weight="normal" >T4</text>
<rect x="30.40" y="585.34" width="27.56" height="29.16" rx="0" fill="#35a196" stroke="none" stroke-width="0.8" />
<text x="43.98" y="601.88" font-size="6" text-anchor="middle" fill="#111111" color="#111111" font-weight="normal" >0.537</text>
<rect x="57.56" y="585.34" width="27.56" height="29.16" rx="0" fill="#6acd74" stroke="none" stroke-width="0.8" />
<text x="71.14" y="601.88" font-size="6" text-anchor="middle" fill="#111111" color="#111111" font-weight="normal" >0.634</text>
<rect x="84.72" y="585.34" width="27.56" height="29.16" rx="0" fill="#98d958" stroke="none" stroke-width="0.8" />
<text x="98.30" y="601.88" font-size="6" text-anchor="middle" fill="#111111" color="#111111" font-weight="normal" >0.672</text>
<rect x="111.88" y="585.34" width="27.56" height="29.16" rx="0" fill="#7dd369" stroke="none" stroke-width="0.8" />
<text x="125.46" y="601.88" font-size="6" text-anchor="middle" fill="#111111" color="#111111" font-weight="normal" >0.651</text>
<rect x="139.04" y="585.34" width="27.56" height="29.16" rx="0" fill="#87d662" stroke="none" stroke-width="0.8" />
<text x="152.62" y="601.88" font-size="6" text-anchor="middle" fill="#111111" color="#111111" font-weight="normal" >0.660</text>
<line x1="27.90" y1="599.72" x2="30.40" y2="599.72" stroke="#444" stroke-width="0.6" />
<text x="22.60" y="602.42" font-size="7.5" text-anchor="end" fill="#222" color="#222" font-weight="normal" >T5</text>
<rect x="30.40" y="616.80" width="27.56" height="29.23" rx="0" fill="#3f8699" stroke="none" stroke-width="0.8" />
<text x="43.98" y="633.38" font-size="6" text-anchor="middle" fill="#ffffff" color="#ffffff" font-weight="normal" >0.482</text>
<rect x="57.56" y="616.80" width="27.56" height="29.23" rx="0" fill="#36a097" stroke="none" stroke-width="0.8" />
<text x="71.14" y="633.38" font-size="6" text-anchor="middle" fill="#111111" color="#111111" font-weight="normal" >0.534</text>
<rect x="84.72" y="616.80" width="27.56" height="29.23" rx="0" fill="#3f8699" stroke="none" stroke-width="0.8" />
<text x="98.30" y="633.38" font-size="6" text-anchor="middle" fill="#ffffff" color="#ffffff" font-weight="normal" >0.481</text>
<rect x="111.88" y="616.80" width="27.56" height="29.23" rx="0" fill="#457a99" stroke="none" stroke-width="0.8" />
<text x="125.46" y="633.38" font-size="6" text-anchor="middle" fill="#ffffff" color="#ffffff" font-weight="normal" >0.455</text>
<rect x="139.04" y="616.80" width="27.56" height="29.23" rx="0" fill="#389998" stroke="none" stroke-width="0.8" />
<text x="152.62" y="633.38" font-size="6" text-anchor="middle" fill="#111111" color="#111111" font-weight="normal" >0.519</text>
<line x1="27.90" y1="631.22" x2="30.40" y2="631.22" stroke="#444" stroke-width="0.6" />
<text x="22.60" y="633.92" font-size="7.5" text-anchor="end" fill="#222" color="#222" font-weight="normal" >T6</text>
<rect x="30.40" y="645.63" width="27.56" height="29.23" rx="0" fill="#497098" stroke="none" stroke-width="0.8" />
<text x="43.98" y="662.21" font-size="6" text-anchor="middle" fill="#ffffff" color="#ffffff" font-weight="normal" >0.436</text>
<rect x="57.56" y="645.63" width="27.56" height="29.23" rx="0" fill="#3b8f99" stroke="none" stroke-width="0.8" />
<text x="71.14" y="662.21" font-size="6" text-anchor="middle" fill="#111111" color="#111111" font-weight="normal" >0.501</text>
<rect x="84.72" y="645.63" width="27.56" height="29.23" rx="0" fill="#3cb48e" stroke="none" stroke-width="0.8" />
<text x="98.30" y="662.21" font-size="6" text-anchor="middle" fill="#111111" color="#111111" font-weight="normal" >0.577</text>
<rect x="111.88" y="645.63" width="27.56" height="29.23" rx="0" fill="#3c8f99" stroke="none" stroke-width="0.8" />
<text x="125.46" y="662.21" font-size="6" text-anchor="middle" fill="#111111" color="#111111" font-weight="normal" >0.500</text>
<rect x="139.04" y="645.63" width="27.56" height="29.23" rx="0" fill="#46bc88" stroke="none" stroke-width="0.8" />
<text x="152.62" y="662.21" font-size="6" text-anchor="middle" fill="#111111" color="#111111" font-weight="normal" >0.595</text>
<line x1="27.90" y1="660.05" x2="30.40" y2="660.05" stroke="#444" stroke-width="0.6" />
<text x="22.60" y="662.75" font-size="7.5" text-anchor="end" fill="#222" color="#222" font-weight="normal" >T7</text>
<rect x="30.40" y="674.47" width="27.56" height="29.23" rx="0" fill="#506297" stroke="none" stroke-width="0.8" />
<text x="43.98" y="691.04" font-size="6" text-anchor="middle" fill="#ffffff" color="#ffffff" font-weight="normal" >0.410</text>
<rect x="57.56" y="674.47" width="27.56" height="29.23" rx="0" fill="#487098" stroke="none" stroke-width="0.8" />
<text x="71.14" y="691.04" font-size="6" text-anchor="middle" fill="#ffffff" color="#ffffff" font-weight="normal" >0.437</text>
<rect x="84.72" y="674.47" width="27.56" height="29.23" rx="0" fill="#389898" stroke="none" stroke-width="0.8" />
<text x="98.30" y="691.04" font-size="6" text-anchor="middle" fill="#111111" color="#111111" font-weight="normal" >0.518</text>
<rect x="111.88" y="674.47" width="27.56" height="29.23" rx="0" fill="#515c95" stroke="none" stroke-width="0.8" />
<text x="125.46" y="691.04" font-size="6" text-anchor="middle" fill="#ffffff" color="#ffffff" font-weight="normal" >0.400</text>
<rect x="139.04" y="674.47" width="27.56" height="29.23" rx="0" fill="#3d8c99" stroke="none" stroke-width="0.8" />
<text x="152.62" y="691.04" font-size="6" text-anchor="middle" fill="#ffffff" color="#ffffff" font-weight="normal" >0.493</text>
<line x1="27.90" y1="688.88" x2="30.40" y2="688.88" stroke="#444" stroke-width="0.6" />
<text x="22.60" y="691.58" font-size="7.5" text-anchor="end" fill="#222" color="#222" font-weight="normal" >T8</text>
<rect x="30.40" y="614.10" width="135.80" height="2.70" rx="0" fill="#fff" stroke="none" stroke-width="0.8" />
<line x1="30.40" y1="615.45" x2="166.20" y2="615.45" stroke="#999" stroke-width="0.8" stroke-dasharray="1.6,1"/>
<line x1="166.20" y1="470.30" x2="166.20" y2="703.30" stroke="#666" stroke-width="0.5" />
<line x1="30.40" y1="470.30" x2="166.20" y2="470.30" stroke="#555" stroke-width="0.5" />
<text x="43.98" y="716.12" font-size="7" text-anchor="middle" fill="#222" color="#222" font-weight="normal" >1</text>
<line x1="43.98" y1="703.30" x2="43.98" y2="705.00" stroke="#444" stroke-width="0.5" />
<text x="71.14" y="716.12" font-size="7" text-anchor="middle" fill="#222" color="#222" font-weight="normal" >2</text>
<line x1="71.14" y1="703.30" x2="71.14" y2="705.00" stroke="#444" stroke-width="0.5" />
<text x="98.30" y="716.12" font-size="7" text-anchor="middle" fill="#222" color="#222" font-weight="normal" >3</text>
<line x1="98.30" y1="703.30" x2="98.30" y2="705.00" stroke="#444" stroke-width="0.5" />
<text x="125.46" y="716.12" font-size="7" text-anchor="middle" fill="#222" color="#222" font-weight="normal" >4</text>
<line x1="125.46" y1="703.30" x2="125.46" y2="705.00" stroke="#444" stroke-width="0.5" />
<text x="152.62" y="716.12" font-size="7" text-anchor="middle" fill="#222" color="#222" font-weight="normal" >5</text>
<line x1="152.62" y1="703.30" x2="152.62" y2="705.00" stroke="#444" stroke-width="0.5" />
<text x="25.80" y="715.52" font-size="7" text-anchor="middle" fill="#222" color="#222" font-weight="normal" >host</text>
<line x1="39.40" y1="720.80" x2="154.00" y2="720.80" stroke="#777" stroke-width="1.1" />
<path d="M158.60,720.80 L153.60,718.90 L155.10,720.80 L153.60,722.70Z" fill="#111" stroke="none" stroke-width="0.8" />
<text transform="translate(10.20,542.50) rotate(-90)" x="0" y="2.59" font-size="7.2" text-anchor="middle" fill="#222" color="#222">internal test sets</text>
<text transform="translate(10.60,660.20) rotate(-90)" x="0" y="2.59" font-size="7.2" text-anchor="middle" fill="#222" color="#222">external test sets</text>
<text x="189" y="459" font-size="9.6" font-weight="bold" fill="#111" color="#111">l</text>
<text x="262.00" y="464.28" font-size="6.9" text-anchor="middle" fill="#222" color="#222" font-weight="normal" >Relay Learning</text>
<text x="342.80" y="464.18" font-size="6.9" text-anchor="middle" fill="#222" color="#222" font-weight="normal" >central</text>
<rect x="191.20" y="471.30" width="27.52" height="29.08" rx="0" fill="#592973" stroke="none" stroke-width="0.8" />
<text x="204.76" y="487.80" font-size="6" text-anchor="middle" fill="#ffffff" color="#ffffff" font-weight="normal" >0.320</text>
<rect x="218.32" y="471.30" width="27.52" height="29.08" rx="0" fill="#515d95" stroke="none" stroke-width="0.8" />
<text x="231.88" y="487.80" font-size="6" text-anchor="middle" fill="#ffffff" color="#ffffff" font-weight="normal" >0.402</text>
<rect x="245.44" y="471.30" width="27.52" height="29.08" rx="0" fill="#4b6c98" stroke="none" stroke-width="0.8" />
<text x="259.00" y="487.80" font-size="6" text-anchor="middle" fill="#ffffff" color="#ffffff" font-weight="normal" >0.429</text>
<rect x="272.56" y="471.30" width="27.52" height="29.08" rx="0" fill="#3f8699" stroke="none" stroke-width="0.8" />
<text x="286.12" y="487.80" font-size="6" text-anchor="middle" fill="#ffffff" color="#ffffff" font-weight="normal" >0.481</text>
<rect x="299.68" y="471.30" width="27.52" height="29.08" rx="0" fill="#3d8b99" stroke="none" stroke-width="0.8" />
<text x="313.24" y="487.80" font-size="6" text-anchor="middle" fill="#ffffff" color="#ffffff" font-weight="normal" >0.492</text>
<rect x="330.10" y="471.30" width="27.50" height="29.08" rx="0" fill="#408499" stroke="none" stroke-width="0.8" />
<text x="343.65" y="487.80" font-size="6" text-anchor="middle" fill="#ffffff" color="#ffffff" font-weight="normal" >0.476</text>
<line x1="188.70" y1="485.64" x2="191.20" y2="485.64" stroke="#444" stroke-width="0.6" />
<text x="184.20" y="488.34" font-size="7.5" text-anchor="end" fill="#222" color="#222" font-weight="normal" >T1</text>
<rect x="191.20" y="499.98" width="27.52" height="29.08" rx="0" fill="#4c6a98" stroke="none" stroke-width="0.8" />
<text x="204.76" y="516.48" font-size="6" text-anchor="middle" fill="#ffffff" color="#ffffff" font-weight="normal" >0.424</text>
<rect x="218.32" y="499.98" width="27.52" height="29.08" rx="0" fill="#58c67d" stroke="none" stroke-width="0.8" />
<text x="231.88" y="516.48" font-size="6" text-anchor="middle" fill="#111111" color="#111111" font-weight="normal" >0.617</text>
<rect x="245.44" y="499.98" width="27.52" height="29.08" rx="0" fill="#6fce72" stroke="none" stroke-width="0.8" />
<text x="259.00" y="516.48" font-size="6" text-anchor="middle" fill="#111111" color="#111111" font-weight="normal" >0.638</text>
<rect x="272.56" y="499.98" width="27.52" height="29.08" rx="0" fill="#3ab28f" stroke="none" stroke-width="0.8" />
<text x="286.12" y="516.48" font-size="6" text-anchor="middle" fill="#111111" color="#111111" font-weight="normal" >0.574</text>
<rect x="299.68" y="499.98" width="27.52" height="29.08" rx="0" fill="#4bbf85" stroke="none" stroke-width="0.8" />
<text x="313.24" y="516.48" font-size="6" text-anchor="middle" fill="#111111" color="#111111" font-weight="normal" >0.601</text>
<rect x="330.10" y="499.98" width="27.50" height="29.08" rx="0" fill="#379d98" stroke="none" stroke-width="0.8" />
<text x="343.65" y="516.48" font-size="6" text-anchor="middle" fill="#111111" color="#111111" font-weight="normal" >0.528</text>
<line x1="188.70" y1="514.32" x2="191.20" y2="514.32" stroke="#444" stroke-width="0.6" />
<text x="184.20" y="517.02" font-size="7.5" text-anchor="end" fill="#222" color="#222" font-weight="normal" >T2</text>
<rect x="191.20" y="528.66" width="27.52" height="29.08" rx="0" fill="#3d8d99" stroke="none" stroke-width="0.8" />
<text x="204.76" y="545.16" font-size="6" text-anchor="middle" fill="#111111" color="#111111" font-weight="normal" >0.495</text>
<rect x="218.32" y="528.66" width="27.52" height="29.08" rx="0" fill="#5bc77c" stroke="none" stroke-width="0.8" />
<text x="231.88" y="545.16" font-size="6" text-anchor="middle" fill="#111111" color="#111111" font-weight="normal" >0.619</text>
<rect x="245.44" y="528.66" width="27.52" height="29.08" rx="0" fill="#eee623" stroke="none" stroke-width="0.8" />
<text x="259.00" y="545.16" font-size="6" text-anchor="middle" fill="#111111" color="#111111" font-weight="normal" >0.739</text>
<rect x="272.56" y="528.66" width="27.52" height="29.08" rx="0" fill="#a9de4e" stroke="none" stroke-width="0.8" />
<text x="286.12" y="545.16" font-size="6" text-anchor="middle" fill="#111111" color="#111111" font-weight="normal" >0.685</text>
<rect x="299.68" y="528.66" width="27.52" height="29.08" rx="0" fill="#cde230" stroke="none" stroke-width="0.8" />
<text x="313.24" y="545.16" font-size="6" text-anchor="middle" fill="#111111" color="#111111" font-weight="normal" >0.713</text>
<rect x="330.10" y="528.66" width="27.50" height="29.08" rx="0" fill="#cae231" stroke="none" stroke-width="0.8" />
<text x="343.65" y="545.16" font-size="6" text-anchor="middle" fill="#111111" color="#111111" font-weight="normal" >0.711</text>
<line x1="188.70" y1="543.00" x2="191.20" y2="543.00" stroke="#444" stroke-width="0.6" />
<text x="184.20" y="545.70" font-size="7.5" text-anchor="end" fill="#222" color="#222" font-weight="normal" >T3</text>
<rect x="191.20" y="557.34" width="27.52" height="29.08" rx="0" fill="#477398" stroke="none" stroke-width="0.8" />
<text x="204.76" y="573.84" font-size="6" text-anchor="middle" fill="#ffffff" color="#ffffff" font-weight="normal" >0.442</text>
<rect x="218.32" y="557.34" width="27.52" height="29.08" rx="0" fill="#93d85b" stroke="none" stroke-width="0.8" />
<text x="231.88" y="573.84" font-size="6" text-anchor="middle" fill="#111111" color="#111111" font-weight="normal" >0.669</text>
<rect x="245.44" y="557.34" width="27.52" height="29.08" rx="0" fill="#bce13e" stroke="none" stroke-width="0.8" />
<text x="259.00" y="573.84" font-size="6" text-anchor="middle" fill="#111111" color="#111111" font-weight="normal" >0.700</text>
<rect x="272.56" y="557.34" width="27.52" height="29.08" rx="0" fill="#7bd26a" stroke="none" stroke-width="0.8" />
<text x="286.12" y="573.84" font-size="6" text-anchor="middle" fill="#111111" color="#111111" font-weight="normal" >0.649</text>
<rect x="299.68" y="557.34" width="27.52" height="29.08" rx="0" fill="#75d06d" stroke="none" stroke-width="0.8" />
<text x="313.24" y="573.84" font-size="6" text-anchor="middle" fill="#111111" color="#111111" font-weight="normal" >0.644</text>
<rect x="330.10" y="557.34" width="27.50" height="29.08" rx="0" fill="#c2e237" stroke="none" stroke-width="0.8" />
<text x="343.65" y="573.84" font-size="6" text-anchor="middle" fill="#111111" color="#111111" font-weight="normal" >0.705</text>
<line x1="188.70" y1="571.68" x2="191.20" y2="571.68" stroke="#444" stroke-width="0.6" />
<text x="184.20" y="574.38" font-size="7.5" text-anchor="end" fill="#222" color="#222" font-weight="normal" >T4</text>
<rect x="191.20" y="586.02" width="27.52" height="29.08" rx="0" fill="#35a496" stroke="none" stroke-width="0.8" />
<text x="204.76" y="602.52" font-size="6" text-anchor="middle" fill="#111111" color="#111111" font-weight="normal" >0.543</text>
<rect x="218.32" y="586.02" width="27.52" height="29.08" rx="0" fill="#d1e32d" stroke="none" stroke-width="0.8" />
<text x="231.88" y="602.52" font-size="6" text-anchor="middle" fill="#111111" color="#111111" font-weight="normal" >0.716</text>
<rect x="245.44" y="586.02" width="27.52" height="29.08" rx="0" fill="#f2e623" stroke="none" stroke-width="0.8" />
<text x="259.00" y="602.52" font-size="6" text-anchor="middle" fill="#111111" color="#111111" font-weight="normal" >0.742</text>
<rect x="272.56" y="586.02" width="27.52" height="29.08" rx="0" fill="#acde4b" stroke="none" stroke-width="0.8" />
<text x="286.12" y="602.52" font-size="6" text-anchor="middle" fill="#111111" color="#111111" font-weight="normal" >0.688</text>
<rect x="299.68" y="586.02" width="27.52" height="29.08" rx="0" fill="#f2e623" stroke="none" stroke-width="0.8" />
<text x="313.24" y="602.52" font-size="6" text-anchor="middle" fill="#111111" color="#111111" font-weight="normal" >0.742</text>
<rect x="330.10" y="586.02" width="27.50" height="29.08" rx="0" fill="#fde725" stroke="none" stroke-width="0.8" />
<text x="343.65" y="602.52" font-size="6" text-anchor="middle" fill="#111111" color="#111111" font-weight="normal" >0.809</text>
<line x1="188.70" y1="600.36" x2="191.20" y2="600.36" stroke="#444" stroke-width="0.6" />
<text x="184.20" y="603.06" font-size="7.5" text-anchor="end" fill="#222" color="#222" font-weight="normal" >T5</text>
<rect x="191.20" y="617.40" width="27.52" height="29.10" rx="0" fill="#427f99" stroke="none" stroke-width="0.8" />
<text x="204.76" y="633.91" font-size="6" text-anchor="middle" fill="#ffffff" color="#ffffff" font-weight="normal" >0.467</text>
<rect x="218.32" y="617.40" width="27.52" height="29.10" rx="0" fill="#36a097" stroke="none" stroke-width="0.8" />
<text x="231.88" y="633.91" font-size="6" text-anchor="middle" fill="#111111" color="#111111" font-weight="normal" >0.535</text>
<rect x="245.44" y="617.40" width="27.52" height="29.10" rx="0" fill="#56c57f" stroke="none" stroke-width="0.8" />
<text x="259.00" y="633.91" font-size="6" text-anchor="middle" fill="#111111" color="#111111" font-weight="normal" >0.614</text>
<rect x="272.56" y="617.40" width="27.52" height="29.10" rx="0" fill="#40b98b" stroke="none" stroke-width="0.8" />
<text x="286.12" y="633.91" font-size="6" text-anchor="middle" fill="#111111" color="#111111" font-weight="normal" >0.586</text>
<rect x="299.68" y="617.40" width="27.52" height="29.10" rx="0" fill="#bde13d" stroke="none" stroke-width="0.8" />
<text x="313.24" y="633.91" font-size="6" text-anchor="middle" fill="#111111" color="#111111" font-weight="normal" >0.701</text>
<rect x="330.10" y="617.40" width="27.50" height="29.10" rx="0" fill="#9ada57" stroke="none" stroke-width="0.8" />
<text x="343.65" y="633.91" font-size="6" text-anchor="middle" fill="#111111" color="#111111" font-weight="normal" >0.674</text>
<line x1="188.70" y1="631.75" x2="191.20" y2="631.75" stroke="#444" stroke-width="0.6" />
<text x="184.20" y="634.45" font-size="7.5" text-anchor="end" fill="#222" color="#222" font-weight="normal" >T6</text>
<rect x="191.20" y="646.10" width="27.52" height="29.10" rx="0" fill="#555492" stroke="none" stroke-width="0.8" />
<text x="204.76" y="662.61" font-size="6" text-anchor="middle" fill="#ffffff" color="#ffffff" font-weight="normal" >0.386</text>
<rect x="218.32" y="646.10" width="27.52" height="29.10" rx="0" fill="#37af91" stroke="none" stroke-width="0.8" />
<text x="231.88" y="662.61" font-size="6" text-anchor="middle" fill="#111111" color="#111111" font-weight="normal" >0.566</text>
<rect x="245.44" y="646.10" width="27.52" height="29.10" rx="0" fill="#3eb68d" stroke="none" stroke-width="0.8" />
<text x="259.00" y="662.61" font-size="6" text-anchor="middle" fill="#111111" color="#111111" font-weight="normal" >0.582</text>
<rect x="272.56" y="646.10" width="27.52" height="29.10" rx="0" fill="#58c57d" stroke="none" stroke-width="0.8" />
<text x="286.12" y="662.61" font-size="6" text-anchor="middle" fill="#111111" color="#111111" font-weight="normal" >0.616</text>
<rect x="299.68" y="646.10" width="27.52" height="29.10" rx="0" fill="#a4dd50" stroke="none" stroke-width="0.8" />
<text x="313.24" y="662.61" font-size="6" text-anchor="middle" fill="#111111" color="#111111" font-weight="normal" >0.682</text>
<rect x="330.10" y="646.10" width="27.50" height="29.10" rx="0" fill="#7bd26a" stroke="none" stroke-width="0.8" />
<text x="343.65" y="662.61" font-size="6" text-anchor="middle" fill="#111111" color="#111111" font-weight="normal" >0.649</text>
<line x1="188.70" y1="660.45" x2="191.20" y2="660.45" stroke="#444" stroke-width="0.6" />
<text x="184.20" y="663.15" font-size="7.5" text-anchor="end" fill="#222" color="#222" font-weight="normal" >T7</text>
<rect x="191.20" y="674.80" width="27.52" height="29.10" rx="0" fill="#593e86" stroke="none" stroke-width="0.8" />
<text x="204.76" y="691.31" font-size="6" text-anchor="middle" fill="#ffffff" color="#ffffff" font-weight="normal" >0.351</text>
<rect x="218.32" y="674.80" width="27.52" height="29.10" rx="0" fill="#3d8b99" stroke="none" stroke-width="0.8" />
<text x="231.88" y="691.31" font-size="6" text-anchor="middle" fill="#ffffff" color="#ffffff" font-weight="normal" >0.492</text>
<rect x="245.44" y="674.80" width="27.52" height="29.10" rx="0" fill="#35a894" stroke="none" stroke-width="0.8" />
<text x="259.00" y="691.31" font-size="6" text-anchor="middle" fill="#111111" color="#111111" font-weight="normal" >0.552</text>
<rect x="272.56" y="674.80" width="27.52" height="29.10" rx="0" fill="#34a695" stroke="none" stroke-width="0.8" />
<text x="286.12" y="691.31" font-size="6" text-anchor="middle" fill="#111111" color="#111111" font-weight="normal" >0.547</text>
<rect x="299.68" y="674.80" width="27.52" height="29.10" rx="0" fill="#51c381" stroke="none" stroke-width="0.8" />
<text x="313.24" y="691.31" font-size="6" text-anchor="middle" fill="#111111" color="#111111" font-weight="normal" >0.609</text>
<rect x="330.10" y="674.80" width="27.50" height="29.10" rx="0" fill="#4abf86" stroke="none" stroke-width="0.8" />
<text x="343.65" y="691.31" font-size="6" text-anchor="middle" fill="#111111" color="#111111" font-weight="normal" >0.600</text>
<line x1="188.70" y1="689.15" x2="191.20" y2="689.15" stroke="#444" stroke-width="0.6" />
<text x="184.20" y="691.85" font-size="7.5" text-anchor="end" fill="#222" color="#222" font-weight="normal" >T8</text>
<rect x="326.80" y="471.30" width="3.30" height="232.20" rx="0" fill="#fff" stroke="none" stroke-width="0.8" />
<line x1="328.45" y1="471.30" x2="328.45" y2="703.50" stroke="#999" stroke-width="0.8" stroke-dasharray="1.6,1"/>
<rect x="191.20" y="614.70" width="166.00" height="2.70" rx="0" fill="#fff" stroke="none" stroke-width="0.8" />
<line x1="191.20" y1="616.05" x2="357.20" y2="616.05" stroke="#999" stroke-width="0.8" stroke-dasharray="1.6,1"/>
<line x1="191.20" y1="471.30" x2="357.20" y2="471.30" stroke="#555" stroke-width="0.5" />
<line x1="204.76" y1="703.50" x2="204.76" y2="705.20" stroke="#444" stroke-width="0.5" />
<text x="231.88" y="716.12" font-size="7" text-anchor="middle" fill="#222" color="#222" font-weight="normal" >2</text>
<line x1="231.88" y1="703.50" x2="231.88" y2="705.20" stroke="#444" stroke-width="0.5" />
<text x="259.00" y="716.12" font-size="7" text-anchor="middle" fill="#222" color="#222" font-weight="normal" >3</text>
<line x1="259.00" y1="703.50" x2="259.00" y2="705.20" stroke="#444" stroke-width="0.5" />
<text x="286.12" y="716.12" font-size="7" text-anchor="middle" fill="#222" color="#222" font-weight="normal" >4</text>
<line x1="286.12" y1="703.50" x2="286.12" y2="705.20" stroke="#444" stroke-width="0.5" />
<text x="313.24" y="716.12" font-size="7" text-anchor="middle" fill="#222" color="#222" font-weight="normal" >5</text>
<line x1="313.24" y1="703.50" x2="313.24" y2="705.20" stroke="#444" stroke-width="0.5" />
<text x="187.70" y="715.52" font-size="7" text-anchor="start" fill="#222" color="#222" font-weight="normal" >host 1</text>
<path d="M204.3,719.6 L305,719.6 L312,722.2 L305,724.8 L204.3,724.8 L209,722.2 Z" fill="#f1bdef" stroke="#d77ad6" stroke-width="0.7" />
<defs><linearGradient id="vir" x1="0" y1="1" x2="0" y2="0"><stop offset="0.000" stop-color="#571a65"/><stop offset="0.050" stop-color="#592b74"/><stop offset="0.100" stop-color="#5a3a83"/><stop offset="0.150" stop-color="#58488d"/><stop offset="0.200" stop-color="#545793"/><stop offset="0.250" stop-color="#4f6397"/><stop offset="0.300" stop-color="#496f98"/><stop offset="0.350" stop-color="#447b99"/><stop offset="0.400" stop-color="#3f8699"/><stop offset="0.450" stop-color="#3b9099"/><stop offset="0.500" stop-color="#379c98"/><stop offset="0.550" stop-color="#34a695"/><stop offset="0.600" stop-color="#38b190"/><stop offset="0.650" stop-color="#44bc89"/><stop offset="0.700" stop-color="#57c57e"/><stop offset="0.750" stop-color="#6ece72"/><stop offset="0.800" stop-color="#87d662"/><stop offset="0.850" stop-color="#a5dd50"/><stop offset="0.900" stop-color="#c2e237"/><stop offset="0.950" stop-color="#e0e421"/><stop offset="1.000" stop-color="#fde725"/></linearGradient></defs>
<rect x="366.00" y="486.90" width="7.10" height="216.50" rx="0" fill="url(#vir)" stroke="none" stroke-width="0.8" />
<line x1="366.00" y1="703.40" x2="367.30" y2="703.40" stroke="#222" stroke-width="0.5" />
<line x1="371.80" y1="703.40" x2="373.10" y2="703.40" stroke="#222" stroke-width="0.5" />
<text x="376.90" y="705.92" font-size="7" text-anchor="start" fill="#222" color="#222" font-weight="normal" >0.3</text>
<line x1="366.00" y1="655.30" x2="367.30" y2="655.30" stroke="#222" stroke-width="0.5" />
<line x1="371.80" y1="655.30" x2="373.10" y2="655.30" stroke="#222" stroke-width="0.5" />
<text x="376.90" y="657.82" font-size="7" text-anchor="start" fill="#222" color="#222" font-weight="normal" >0.4</text>
<line x1="366.00" y1="607.20" x2="367.30" y2="607.20" stroke="#222" stroke-width="0.5" />
<line x1="371.80" y1="607.20" x2="373.10" y2="607.20" stroke="#222" stroke-width="0.5" />
<text x="376.90" y="609.72" font-size="7" text-anchor="start" fill="#222" color="#222" font-weight="normal" >0.5</text>
<line x1="366.00" y1="559.10" x2="367.30" y2="559.10" stroke="#222" stroke-width="0.5" />
<line x1="371.80" y1="559.10" x2="373.10" y2="559.10" stroke="#222" stroke-width="0.5" />
<text x="376.90" y="561.62" font-size="7" text-anchor="start" fill="#222" color="#222" font-weight="normal" >0.6</text>
<line x1="366.00" y1="511.00" x2="367.30" y2="511.00" stroke="#222" stroke-width="0.5" />
<line x1="371.80" y1="511.00" x2="373.10" y2="511.00" stroke="#222" stroke-width="0.5" />
<text x="376.90" y="513.52" font-size="7" text-anchor="start" fill="#222" color="#222" font-weight="normal" >0.7</text>
<text x="363.70" y="478.02" font-size="7.0" text-anchor="start" fill="#222" color="#222" font-weight="normal" >Dice</text>
<line x1="380.00" y1="478.22" x2="380.00" y2="474.58" stroke="#222" stroke-width="0.8" />
<path d="M378.50,474.98 L380.00,472.48 L381.50,474.98Z" fill="#222" stroke="none" stroke-width="0.8" />
<text x="386.6" y="459.5" font-size="9.6" font-weight="bold" fill="#111" color="#111">m</text>
<rect x="402.40" y="458.30" width="49.80" height="150.80" rx="2.5" fill="#e6e6e6" stroke="none" stroke-width="0.8" />
<text x="427.30" y="465.93" font-size="7.3" text-anchor="middle" fill="#222" color="#222" font-weight="normal" >T1-test</text>
<g transform="translate(404.00,467.40) scale(1.0022,0.9913)">
<rect x="0" y="0" width="46" height="46" fill="#000"/>
<ellipse cx="22.7" cy="22" rx="22" ry="17.3" fill="#000" stroke="#a2a2a2" stroke-width="2"/><ellipse cx="22.7" cy="22" rx="20.2" ry="15.6" fill="none" stroke="#606060" stroke-width="1.4"/><path d="M4.5,21 C3.5,13 10,8.8 20,9.2 C30,8.3 37.5,9 39.5,13 C40.5,17 35,19.5 31,21.5 C27,24.5 22,26.5 15,26 C9,26.5 5,24 4.5,21Z" fill="#858585"/><ellipse cx="37.2" cy="26.2" rx="6.2" ry="6.8" fill="#8a8a8a"/><ellipse cx="28.3" cy="25" rx="2.4" ry="2.2" fill="#7a7a7a"/><path d="M9,35 Q23,32 37,35 L34,38.5 Q23,40.5 12,38.5Z" fill="#6e6e6e"/><ellipse cx="23.4" cy="31.2" rx="3.7" ry="4" fill="#e6e6e6"/><path d="M19,36 L23.4,33 L28,36 L23.4,37.8Z" fill="#d8d8d8"/><path d="M1,42.2 Q23,40.2 45,42.2" stroke="#7a7a7a" stroke-width="0.9" fill="none"/>
<ellipse cx="19.5" cy="31.3" rx="2" ry="2.2" fill="#d13232" opacity="0.9"/>
</g>
<circle cx="412.10" cy="475.30" r="4.4" fill="#b9d4f2" stroke="#6c9bd7" stroke-width="0.9"/>
<text x="412.10" y="477.82" font-size="7" text-anchor="middle" fill="#111" color="#111" font-weight="normal" >S</text>
<g transform="translate(404.00,514.90) scale(1.0022,0.9913)">
<rect x="0" y="0" width="46" height="46" fill="#000"/>
<ellipse cx="22.7" cy="22" rx="22" ry="17.3" fill="#000" stroke="#a2a2a2" stroke-width="2"/><ellipse cx="22.7" cy="22" rx="20.2" ry="15.6" fill="none" stroke="#606060" stroke-width="1.4"/><path d="M4.5,21 C3.5,13 10,8.8 20,9.2 C30,8.3 37.5,9 39.5,13 C40.5,17 35,19.5 31,21.5 C27,24.5 22,26.5 15,26 C9,26.5 5,24 4.5,21Z" fill="#858585"/><ellipse cx="37.2" cy="26.2" rx="6.2" ry="6.8" fill="#8a8a8a"/><ellipse cx="28.3" cy="25" rx="2.4" ry="2.2" fill="#7a7a7a"/><path d="M9,35 Q23,32 37,35 L34,38.5 Q23,40.5 12,38.5Z" fill="#6e6e6e"/><ellipse cx="23.4" cy="31.2" rx="3.7" ry="4" fill="#e6e6e6"/><path d="M19,36 L23.4,33 L28,36 L23.4,37.8Z" fill="#d8d8d8"/><path d="M1,42.2 Q23,40.2 45,42.2" stroke="#7a7a7a" stroke-width="0.9" fill="none"/>
<ellipse cx="19.5" cy="30.8" rx="3" ry="3" fill="#d13232" opacity="0.9"/>
</g>
<circle cx="412.10" cy="522.80" r="4.4" fill="#f3c3f1" stroke="#c568c9" stroke-width="0.9"/>
<text x="412.10" y="525.32" font-size="7" text-anchor="middle" fill="#111" color="#111" font-weight="normal" >R</text>
<g transform="translate(404.00,561.80) scale(1.0022,0.9913)">
<rect x="0" y="0" width="46" height="46" fill="#000"/>
<ellipse cx="22.7" cy="22" rx="22" ry="17.3" fill="#000" stroke="#a2a2a2" stroke-width="2"/><ellipse cx="22.7" cy="22" rx="20.2" ry="15.6" fill="none" stroke="#606060" stroke-width="1.4"/><path d="M4.5,21 C3.5,13 10,8.8 20,9.2 C30,8.3 37.5,9 39.5,13 C40.5,17 35,19.5 31,21.5 C27,24.5 22,26.5 15,26 C9,26.5 5,24 4.5,21Z" fill="#858585"/><ellipse cx="37.2" cy="26.2" rx="6.2" ry="6.8" fill="#8a8a8a"/><ellipse cx="28.3" cy="25" rx="2.4" ry="2.2" fill="#7a7a7a"/><path d="M9,35 Q23,32 37,35 L34,38.5 Q23,40.5 12,38.5Z" fill="#6e6e6e"/><ellipse cx="23.4" cy="31.2" rx="3.7" ry="4" fill="#e6e6e6"/><path d="M19,36 L23.4,33 L28,36 L23.4,37.8Z" fill="#d8d8d8"/><path d="M1,42.2 Q23,40.2 45,42.2" stroke="#7a7a7a" stroke-width="0.9" fill="none"/>
<ellipse cx="19.5" cy="30.8" rx="3" ry="3" fill="#d13232" opacity="0.9"/>
</g>
<circle cx="412.10" cy="569.70" r="4.4" fill="#f6c5c4" stroke="#d86b6b" stroke-width="0.9"/>
<text x="412.10" y="572.22" font-size="7" text-anchor="middle" fill="#111" color="#111" font-weight="normal" >G</text>
<rect x="460.10" y="458.30" width="49.80" height="150.80" rx="2.5" fill="#e6e6e6" stroke="none" stroke-width="0.8" />
<text x="485.00" y="465.93" font-size="7.3" text-anchor="middle" fill="#222" color="#222" font-weight="normal" >T2-test</text>
<g transform="translate(462.10,467.40) scale(1.0022,0.9913)">
<rect x="0" y="0" width="46" height="46" fill="#000"/>
<path d="M0.5,24 C0.5,14 9,8.5 23,8.5 C37,8.5 45.5,14 45.5,24 L45.5,37 C44,41.5 36,43 23,43 C10,43 2,41.5 0.5,37Z" fill="#868686" stroke="#b4b4b4" stroke-width="0.9"/><path d="M2.3,25 Q2.6,13 12,12 Q19,11.5 21,15 L21.5,33 Q17,38.5 10,38 Q2.6,36 2.3,25Z" fill="#000"/><path d="M43.7,25 Q43.4,13 34,12 Q28,11.5 26.5,15 L26.5,33 Q30,38.5 36,38 Q43.4,36 43.7,25Z" fill="#000"/><path d="M17.5,19 Q19,13 24.5,13 Q30,13.5 30.5,19.5 Q31,25.5 28,27.5 Q24,29 21,27.5 Q17,25 17.5,19Z" fill="#828282"/><ellipse cx="23" cy="11" rx="2.4" ry="1.2" fill="#e4e4e4"/><path d="M3,35.5 Q12,41 23,37.5 Q34,41 43,35.5 L44,40 Q23,45 2,40Z" fill="#b0b0b0"/><ellipse cx="22.8" cy="32.2" rx="3.1" ry="3.6" fill="#ececec"/><path d="M18.5,37.5 L22.8,34.5 L27,37.5 L22.8,39.5Z" fill="#dcdcdc"/><path d="M2,43 Q23,41.3 44,43" stroke="#9a9a9a" stroke-width="0.9" fill="none"/><path d="M2,44.6 Q23,43 44,44.6" stroke="#6a6a6a" stroke-width="0.6" fill="none"/>
<ellipse cx="18.8" cy="14.8" rx="1.5" ry="1.2" fill="#d13232" opacity="0.9"/>
</g>
<circle cx="470.20" cy="475.30" r="4.4" fill="#b9d4f2" stroke="#6c9bd7" stroke-width="0.9"/>
<text x="470.20" y="477.82" font-size="7" text-anchor="middle" fill="#111" color="#111" font-weight="normal" >S</text>
<g transform="translate(462.10,514.90) scale(1.0022,0.9913)">
<rect x="0" y="0" width="46" height="46" fill="#000"/>
<path d="M0.5,24 C0.5,14 9,8.5 23,8.5 C37,8.5 45.5,14 45.5,24 L45.5,37 C44,41.5 36,43 23,43 C10,43 2,41.5 0.5,37Z" fill="#868686" stroke="#b4b4b4" stroke-width="0.9"/><path d="M2.3,25 Q2.6,13 12,12 Q19,11.5 21,15 L21.5,33 Q17,38.5 10,38 Q2.6,36 2.3,25Z" fill="#000"/><path d="M43.7,25 Q43.4,13 34,12 Q28,11.5 26.5,15 L26.5,33 Q30,38.5 36,38 Q43.4,36 43.7,25Z" fill="#000"/><path d="M17.5,19 Q19,13 24.5,13 Q30,13.5 30.5,19.5 Q31,25.5 28,27.5 Q24,29 21,27.5 Q17,25 17.5,19Z" fill="#828282"/><ellipse cx="23" cy="11" rx="2.4" ry="1.2" fill="#e4e4e4"/><path d="M3,35.5 Q12,41 23,37.5 Q34,41 43,35.5 L44,40 Q23,45 2,40Z" fill="#b0b0b0"/><ellipse cx="22.8" cy="32.2" rx="3.1" ry="3.6" fill="#ececec"/><path d="M18.5,37.5 L22.8,34.5 L27,37.5 L22.8,39.5Z" fill="#dcdcdc"/><path d="M2,43 Q23,41.3 44,43" stroke="#9a9a9a" stroke-width="0.9" fill="none"/><path d="M2,44.6 Q23,43 44,44.6" stroke="#6a6a6a" stroke-width="0.6" fill="none"/>
<ellipse cx="15.5" cy="37" rx="1.8" ry="1.5" fill="#d13232" opacity="0.9"/>
</g>
<circle cx="470.20" cy="522.80" r="4.4" fill="#f3c3f1" stroke="#c568c9" stroke-width="0.9"/>
<text x="470.20" y="525.32" font-size="7" text-anchor="middle" fill="#111" color="#111" font-weight="normal" >R</text>
<g transform="translate(462.10,561.80) scale(1.0022,0.9913)">
<rect x="0" y="0" width="46" height="46" fill="#000"/>
<path d="M0.5,24 C0.5,14 9,8.5 23,8.5 C37,8.5 45.5,14 45.5,24 L45.5,37 C44,41.5 36,43 23,43 C10,43 2,41.5 0.5,37Z" fill="#868686" stroke="#b4b4b4" stroke-width="0.9"/><path d="M2.3,25 Q2.6,13 12,12 Q19,11.5 21,15 L21.5,33 Q17,38.5 10,38 Q2.6,36 2.3,25Z" fill="#000"/><path d="M43.7,25 Q43.4,13 34,12 Q28,11.5 26.5,15 L26.5,33 Q30,38.5 36,38 Q43.4,36 43.7,25Z" fill="#000"/><path d="M17.5,19 Q19,13 24.5,13 Q30,13.5 30.5,19.5 Q31,25.5 28,27.5 Q24,29 21,27.5 Q17,25 17.5,19Z" fill="#828282"/><ellipse cx="23" cy="11" rx="2.4" ry="1.2" fill="#e4e4e4"/><path d="M3,35.5 Q12,41 23,37.5 Q34,41 43,35.5 L44,40 Q23,45 2,40Z" fill="#b0b0b0"/><ellipse cx="22.8" cy="32.2" rx="3.1" ry="3.6" fill="#ececec"/><path d="M18.5,37.5 L22.8,34.5 L27,37.5 L22.8,39.5Z" fill="#dcdcdc"/><path d="M2,43 Q23,41.3 44,43" stroke="#9a9a9a" stroke-width="0.9" fill="none"/><path d="M2,44.6 Q23,43 44,44.6" stroke="#6a6a6a" stroke-width="0.6" fill="none"/>
<ellipse cx="15.5" cy="37" rx="1.8" ry="1.5" fill="#d13232" opacity="0.9"/>
</g>
<circle cx="470.20" cy="569.70" r="4.4" fill="#f6c5c4" stroke="#d86b6b" stroke-width="0.9"/>
<text x="470.20" y="572.22" font-size="7" text-anchor="middle" fill="#111" color="#111" font-weight="normal" >G</text>
<rect x="517.90" y="458.30" width="49.80" height="150.80" rx="2.5" fill="#e6e6e6" stroke="none" stroke-width="0.8" />
<text x="542.80" y="465.93" font-size="7.3" text-anchor="middle" fill="#222" color="#222" font-weight="normal" >T3-test</text>
<g transform="translate(520.20,467.40) scale(1.0022,0.9913)">
<rect x="0" y="0" width="46" height="46" fill="#000"/>
<path d="M0.4,24 C0.4,12 10,5.5 23,5.5 C36,5.5 45,12 45,24 C45,33 44.5,39.5 42,41.8 L4,41.8 C1.5,39.5 0.4,33 0.4,24Z" fill="#7a7a7a" stroke="#b4b4b4" stroke-width="0.9"/><path d="M2.3,32 Q12,38.5 23,33 Q34,38.5 43,32 L43.5,38.5 L42,41.8 L4,41.8 L2.2,38.5Z" fill="#a4a4a4"/><path d="M2,24 C2,14 7,10 13,10 C19,10 21.5,12 21.5,18 L21.5,30 C20,34 17,37 12,37 C5,37 2,31 2,24Z" fill="#000"/><path d="M43.5,23 C43.5,13 38,9.5 32,9.5 C27,9.5 25,12 25.5,18 L26,29 C27.5,33 31,36 36,36 C41,36 43.5,30 43.5,23Z" fill="#000"/><ellipse cx="22.6" cy="18.2" rx="6" ry="7.6" fill="#7c7c7c"/><circle cx="26.4" cy="27.2" r="2.2" fill="#7c7c7c"/><ellipse cx="22.8" cy="32.2" rx="3.1" ry="3.6" fill="#ececec"/><path d="M18.5,37.5 L22.8,34.5 L27,37.5 L22.8,39.5Z" fill="#dcdcdc"/><path d="M2,43 Q23,41.3 44,43" stroke="#9a9a9a" stroke-width="0.9" fill="none"/><path d="M2,44.6 Q23,43 44,44.6" stroke="#6a6a6a" stroke-width="0.6" fill="none"/>
<ellipse cx="20.5" cy="13.4" rx="2.2" ry="2" fill="#d13232" opacity="0.9"/>
</g>
<circle cx="528.30" cy="475.30" r="4.4" fill="#b9d4f2" stroke="#6c9bd7" stroke-width="0.9"/>
<text x="528.30" y="477.82" font-size="7" text-anchor="middle" fill="#111" color="#111" font-weight="normal" >S</text>
<g transform="translate(520.20,514.90) scale(1.0022,0.9913)">
<rect x="0" y="0" width="46" height="46" fill="#000"/>
<path d="M0.4,24 C0.4,12 10,5.5 23,5.5 C36,5.5 45,12 45,24 C45,33 44.5,39.5 42,41.8 L4,41.8 C1.5,39.5 0.4,33 0.4,24Z" fill="#7a7a7a" stroke="#b4b4b4" stroke-width="0.9"/><path d="M2.3,32 Q12,38.5 23,33 Q34,38.5 43,32 L43.5,38.5 L42,41.8 L4,41.8 L2.2,38.5Z" fill="#a4a4a4"/><path d="M2,24 C2,14 7,10 13,10 C19,10 21.5,12 21.5,18 L21.5,30 C20,34 17,37 12,37 C5,37 2,31 2,24Z" fill="#000"/><path d="M43.5,23 C43.5,13 38,9.5 32,9.5 C27,9.5 25,12 25.5,18 L26,29 C27.5,33 31,36 36,36 C41,36 43.5,30 43.5,23Z" fill="#000"/><ellipse cx="22.6" cy="18.2" rx="6" ry="7.6" fill="#7c7c7c"/><circle cx="26.4" cy="27.2" r="2.2" fill="#7c7c7c"/><ellipse cx="22.8" cy="32.2" rx="3.1" ry="3.6" fill="#ececec"/><path d="M18.5,37.5 L22.8,34.5 L27,37.5 L22.8,39.5Z" fill="#dcdcdc"/><path d="M2,43 Q23,41.3 44,43" stroke="#9a9a9a" stroke-width="0.9" fill="none"/><path d="M2,44.6 Q23,43 44,44.6" stroke="#6a6a6a" stroke-width="0.6" fill="none"/>
<ellipse cx="23" cy="14.1" rx="6" ry="4.2" fill="#d13232" opacity="0.9"/>
</g>
<circle cx="528.30" cy="522.80" r="4.4" fill="#f3c3f1" stroke="#c568c9" stroke-width="0.9"/>
<text x="528.30" y="525.32" font-size="7" text-anchor="middle" fill="#111" color="#111" font-weight="normal" >R</text>
<g transform="translate(520.20,561.80) scale(1.0022,0.9913)">
<rect x="0" y="0" width="46" height="46" fill="#000"/>
<path d="M0.4,24 C0.4,12 10,5.5 23,5.5 C36,5.5 45,12 45,24 C45,33 44.5,39.5 42,41.8 L4,41.8 C1.5,39.5 0.4,33 0.4,24Z" fill="#7a7a7a" stroke="#b4b4b4" stroke-width="0.9"/><path d="M2.3,32 Q12,38.5 23,33 Q34,38.5 43,32 L43.5,38.5 L42,41.8 L4,41.8 L2.2,38.5Z" fill="#a4a4a4"/><path d="M2,24 C2,14 7,10 13,10 C19,10 21.5,12 21.5,18 L21.5,30 C20,34 17,37 12,37 C5,37 2,31 2,24Z" fill="#000"/><path d="M43.5,23 C43.5,13 38,9.5 32,9.5 C27,9.5 25,12 25.5,18 L26,29 C27.5,33 31,36 36,36 C41,36 43.5,30 43.5,23Z" fill="#000"/><ellipse cx="22.6" cy="18.2" rx="6" ry="7.6" fill="#7c7c7c"/><circle cx="26.4" cy="27.2" r="2.2" fill="#7c7c7c"/><ellipse cx="22.8" cy="32.2" rx="3.1" ry="3.6" fill="#ececec"/><path d="M18.5,37.5 L22.8,34.5 L27,37.5 L22.8,39.5Z" fill="#dcdcdc"/><path d="M2,43 Q23,41.3 44,43" stroke="#9a9a9a" stroke-width="0.9" fill="none"/><path d="M2,44.6 Q23,43 44,44.6" stroke="#6a6a6a" stroke-width="0.6" fill="none"/>
<ellipse cx="23.2" cy="14.3" rx="5.8" ry="4.3" fill="#d13232" opacity="0.9"/>
</g>
<circle cx="528.30" cy="569.70" r="4.4" fill="#f6c5c4" stroke="#d86b6b" stroke-width="0.9"/>
<text x="528.30" y="572.22" font-size="7" text-anchor="middle" fill="#111" color="#111" font-weight="normal" >G</text>
<rect x="576.00" y="458.30" width="49.80" height="150.80" rx="2.5" fill="#e6e6e6" stroke="none" stroke-width="0.8" />
<text x="600.90" y="465.93" font-size="7.3" text-anchor="middle" fill="#222" color="#222" font-weight="normal" >T4-test</text>
<g transform="translate(577.80,467.40) scale(1.0022,0.9913)">
<rect x="0" y="0" width="46" height="46" fill="#000"/>
<path d="M0,14 Q10,10.5 23,12.5 Q36,10.5 46,13.5 L46,38 Q23,41.5 0,38Z" fill="#888"/><ellipse cx="14.6" cy="26" rx="6.6" ry="6.3" fill="#000" stroke="#e2e2e2" stroke-width="1.3"/><ellipse cx="31.8" cy="26.2" rx="6.8" ry="6.3" fill="#000" stroke="#e2e2e2" stroke-width="1.3"/><path d="M18.5,23 Q21.5,20.5 25,23 L25,30 Q21.5,32 18.5,30Z" fill="#dcdcdc"/><ellipse cx="21.6" cy="28" rx="2.9" ry="2.6" fill="#f2f2f2"/><ellipse cx="19.5" cy="18.6" rx="2.2" ry="1.9" fill="#ececec"/><ellipse cx="25.5" cy="18.4" rx="2.1" ry="1.8" fill="#ececec"/><ellipse cx="22.5" cy="17.5" rx="1.3" ry="1.2" fill="#d0d0d0"/><ellipse cx="5.2" cy="27" rx="1.4" ry="2.2" fill="#f0f0f0"/><ellipse cx="41.5" cy="27.5" rx="1.6" ry="2.4" fill="#f0f0f0"/><path d="M20,30 L19.5,36 M23,30 L24,35" stroke="#e0e0e0" stroke-width="0.9"/><path d="M1,43.5 Q23,41.5 45,43.5" stroke="#777" stroke-width="0.8" fill="none"/>
</g>
<circle cx="585.90" cy="475.30" r="4.4" fill="#b9d4f2" stroke="#6c9bd7" stroke-width="0.9"/>
<text x="585.90" y="477.82" font-size="7" text-anchor="middle" fill="#111" color="#111" font-weight="normal" >S</text>
<g transform="translate(577.80,514.90) scale(1.0022,0.9913)">
<rect x="0" y="0" width="46" height="46" fill="#000"/>
<path d="M0,14 Q10,10.5 23,12.5 Q36,10.5 46,13.5 L46,38 Q23,41.5 0,38Z" fill="#888"/><ellipse cx="14.6" cy="26" rx="6.6" ry="6.3" fill="#000" stroke="#e2e2e2" stroke-width="1.3"/><ellipse cx="31.8" cy="26.2" rx="6.8" ry="6.3" fill="#000" stroke="#e2e2e2" stroke-width="1.3"/><path d="M18.5,23 Q21.5,20.5 25,23 L25,30 Q21.5,32 18.5,30Z" fill="#dcdcdc"/><ellipse cx="21.6" cy="28" rx="2.9" ry="2.6" fill="#f2f2f2"/><ellipse cx="19.5" cy="18.6" rx="2.2" ry="1.9" fill="#ececec"/><ellipse cx="25.5" cy="18.4" rx="2.1" ry="1.8" fill="#ececec"/><ellipse cx="22.5" cy="17.5" rx="1.3" ry="1.2" fill="#d0d0d0"/><ellipse cx="5.2" cy="27" rx="1.4" ry="2.2" fill="#f0f0f0"/><ellipse cx="41.5" cy="27.5" rx="1.6" ry="2.4" fill="#f0f0f0"/><path d="M20,30 L19.5,36 M23,30 L24,35" stroke="#e0e0e0" stroke-width="0.9"/><path d="M1,43.5 Q23,41.5 45,43.5" stroke="#777" stroke-width="0.8" fill="none"/>
<ellipse cx="26.3" cy="28.2" rx="2" ry="2" fill="#d13232" opacity="0.9"/>
</g>
<circle cx="585.90" cy="522.80" r="4.4" fill="#f3c3f1" stroke="#c568c9" stroke-width="0.9"/>
<text x="585.90" y="525.32" font-size="7" text-anchor="middle" fill="#111" color="#111" font-weight="normal" >R</text>
<g transform="translate(577.80,561.80) scale(1.0022,0.9913)">
<rect x="0" y="0" width="46" height="46" fill="#000"/>
<path d="M0,14 Q10,10.5 23,12.5 Q36,10.5 46,13.5 L46,38 Q23,41.5 0,38Z" fill="#888"/><ellipse cx="14.6" cy="26" rx="6.6" ry="6.3" fill="#000" stroke="#e2e2e2" stroke-width="1.3"/><ellipse cx="31.8" cy="26.2" rx="6.8" ry="6.3" fill="#000" stroke="#e2e2e2" stroke-width="1.3"/><path d="M18.5,23 Q21.5,20.5 25,23 L25,30 Q21.5,32 18.5,30Z" fill="#dcdcdc"/><ellipse cx="21.6" cy="28" rx="2.9" ry="2.6" fill="#f2f2f2"/><ellipse cx="19.5" cy="18.6" rx="2.2" ry="1.9" fill="#ececec"/><ellipse cx="25.5" cy="18.4" rx="2.1" ry="1.8" fill="#ececec"/><ellipse cx="22.5" cy="17.5" rx="1.3" ry="1.2" fill="#d0d0d0"/><ellipse cx="5.2" cy="27" rx="1.4" ry="2.2" fill="#f0f0f0"/><ellipse cx="41.5" cy="27.5" rx="1.6" ry="2.4" fill="#f0f0f0"/><path d="M20,30 L19.5,36 M23,30 L24,35" stroke="#e0e0e0" stroke-width="0.9"/><path d="M1,43.5 Q23,41.5 45,43.5" stroke="#777" stroke-width="0.8" fill="none"/>
<ellipse cx="26.3" cy="28.6" rx="2.1" ry="2.1" fill="#d13232" opacity="0.9"/>
</g>
<circle cx="585.90" cy="569.70" r="4.4" fill="#f6c5c4" stroke="#d86b6b" stroke-width="0.9"/>
<text x="585.90" y="572.22" font-size="7" text-anchor="middle" fill="#111" color="#111" font-weight="normal" >G</text>
<rect x="633.70" y="458.30" width="49.80" height="150.80" rx="2.5" fill="#e6e6e6" stroke="none" stroke-width="0.8" />
<text x="658.60" y="465.93" font-size="7.3" text-anchor="middle" fill="#222" color="#222" font-weight="normal" >T5-test</text>
<g transform="translate(635.40,467.40) scale(1.0022,0.9913)">
<rect x="0" y="0" width="46" height="46" fill="#000"/>
<path d="M0.4,24 C0.4,12 10,7.5 23,7.5 C36,7.5 45,12 45,24 C45,33 44.5,39.5 42,41.8 L4,41.8 C1.5,39.5 0.4,33 0.4,24Z" fill="#7a7a7a" stroke="#b4b4b4" stroke-width="0.9"/><path d="M2.3,32 Q12,38.5 23,33 Q34,38.5 43,32 L43.5,38.5 L42,41.8 L4,41.8 L2.2,38.5Z" fill="#a4a4a4"/><path d="M2,24 C2,14 7,10 13,10 C19,10 21.5,12 21.5,18 L21.5,30 C20,34 17,37 12,37 C5,37 2,31 2,24Z" fill="#000"/><path d="M43.5,23 C43.5,13 38,9.5 32,9.5 C27,9.5 25,12 25.5,18 L26,29 C27.5,33 31,36 36,36 C41,36 43.5,30 43.5,23Z" fill="#000"/><ellipse cx="22.6" cy="18.2" rx="6" ry="7.6" fill="#7c7c7c"/><circle cx="26.4" cy="27.2" r="2.2" fill="#7c7c7c"/><ellipse cx="22.8" cy="32.2" rx="3.1" ry="3.6" fill="#ececec"/><path d="M18.5,37.5 L22.8,34.5 L27,37.5 L22.8,39.5Z" fill="#dcdcdc"/><path d="M2,43 Q23,41.3 44,43" stroke="#9a9a9a" stroke-width="0.9" fill="none"/><path d="M2,44.6 Q23,43 44,44.6" stroke="#6a6a6a" stroke-width="0.6" fill="none"/>
<ellipse cx="25.5" cy="14.6" rx="4" ry="1.8" fill="#d13232" opacity="0.9"/>
</g>
<circle cx="643.50" cy="475.30" r="4.4" fill="#b9d4f2" stroke="#6c9bd7" stroke-width="0.9"/>
<text x="643.50" y="477.82" font-size="7" text-anchor="middle" fill="#111" color="#111" font-weight="normal" >S</text>
<g transform="translate(635.40,514.90) scale(1.0022,0.9913)">
<rect x="0" y="0" width="46" height="46" fill="#000"/>
<path d="M0.4,24 C0.4,12 10,7.5 23,7.5 C36,7.5 45,12 45,24 C45,33 44.5,39.5 42,41.8 L4,41.8 C1.5,39.5 0.4,33 0.4,24Z" fill="#7a7a7a" stroke="#b4b4b4" stroke-width="0.9"/><path d="M2.3,32 Q12,38.5 23,33 Q34,38.5 43,32 L43.5,38.5 L42,41.8 L4,41.8 L2.2,38.5Z" fill="#a4a4a4"/><path d="M2,24 C2,14 7,10 13,10 C19,10 21.5,12 21.5,18 L21.5,30 C20,34 17,37 12,37 C5,37 2,31 2,24Z" fill="#000"/><path d="M43.5,23 C43.5,13 38,9.5 32,9.5 C27,9.5 25,12 25.5,18 L26,29 C27.5,33 31,36 36,36 C41,36 43.5,30 43.5,23Z" fill="#000"/><ellipse cx="22.6" cy="18.2" rx="6" ry="7.6" fill="#7c7c7c"/><circle cx="26.4" cy="27.2" r="2.2" fill="#7c7c7c"/><ellipse cx="22.8" cy="32.2" rx="3.1" ry="3.6" fill="#ececec"/><path d="M18.5,37.5 L22.8,34.5 L27,37.5 L22.8,39.5Z" fill="#dcdcdc"/><path d="M2,43 Q23,41.3 44,43" stroke="#9a9a9a" stroke-width="0.9" fill="none"/><path d="M2,44.6 Q23,43 44,44.6" stroke="#6a6a6a" stroke-width="0.6" fill="none"/>
<ellipse cx="26.8" cy="16.1" rx="5" ry="4.3" fill="#d13232" opacity="0.9"/>
</g>
<circle cx="643.50" cy="522.80" r="4.4" fill="#f3c3f1" stroke="#c568c9" stroke-width="0.9"/>
<text x="643.50" y="525.32" font-size="7" text-anchor="middle" fill="#111" color="#111" font-weight="normal" >R</text>
<g transform="translate(635.40,561.80) scale(1.0022,0.9913)">
<rect x="0" y="0" width="46" height="46" fill="#000"/>
<path d="M0.4,24 C0.4,12 10,7.5 23,7.5 C36,7.5 45,12 45,24 C45,33 44.5,39.5 42,41.8 L4,41.8 C1.5,39.5 0.4,33 0.4,24Z" fill="#7a7a7a" stroke="#b4b4b4" stroke-width="0.9"/><path d="M2.3,32 Q12,38.5 23,33 Q34,38.5 43,32 L43.5,38.5 L42,41.8 L4,41.8 L2.2,38.5Z" fill="#a4a4a4"/><path d="M2,24 C2,14 7,10 13,10 C19,10 21.5,12 21.5,18 L21.5,30 C20,34 17,37 12,37 C5,37 2,31 2,24Z" fill="#000"/><path d="M43.5,23 C43.5,13 38,9.5 32,9.5 C27,9.5 25,12 25.5,18 L26,29 C27.5,33 31,36 36,36 C41,36 43.5,30 43.5,23Z" fill="#000"/><ellipse cx="22.6" cy="18.2" rx="6" ry="7.6" fill="#7c7c7c"/><circle cx="26.4" cy="27.2" r="2.2" fill="#7c7c7c"/><ellipse cx="22.8" cy="32.2" rx="3.1" ry="3.6" fill="#ececec"/><path d="M18.5,37.5 L22.8,34.5 L27,37.5 L22.8,39.5Z" fill="#dcdcdc"/><path d="M2,43 Q23,41.3 44,43" stroke="#9a9a9a" stroke-width="0.9" fill="none"/><path d="M2,44.6 Q23,43 44,44.6" stroke="#6a6a6a" stroke-width="0.6" fill="none"/>
<ellipse cx="26.6" cy="15.8" rx="4.8" ry="4.3" fill="#d13232" opacity="0.9"/>
</g>
<circle cx="643.50" cy="569.70" r="4.4" fill="#f6c5c4" stroke="#d86b6b" stroke-width="0.9"/>
<text x="643.50" y="572.22" font-size="7" text-anchor="middle" fill="#111" color="#111" font-weight="normal" >G</text>
<text transform="translate(395.40,531.50) rotate(-90)" x="0" y="2.70" font-size="7.5" text-anchor="middle" fill="#222" color="#222">internal test sets</text>
<line x1="385.00" y1="611.80" x2="685.00" y2="611.80" stroke="#222" stroke-width="1.3" stroke-dasharray="3,2"/>
<rect x="402.30" y="614.50" width="171.80" height="48.60" rx="3" fill="#e3e3e3" stroke="none" stroke-width="0.8" />
<rect x="402.30" y="666.00" width="171.80" height="48.60" rx="3" fill="#e3e3e3" stroke="none" stroke-width="0.8" />
<rect x="583.40" y="614.50" width="100.40" height="100.50" rx="4" fill="#e3e3e3" stroke="none" stroke-width="0.8" />
<g transform="translate(403.70,616.00) scale(1.0022,0.9913)">
<rect x="0" y="0" width="46" height="46" fill="#000"/>
<path d="M0,18 Q4,14 10,13 Q23,8 36,13 Q44,15 46,20 L46,46 L0,46Z" fill="#8c8c8c"/><ellipse cx="14.8" cy="26.5" rx="7.3" ry="9.5" fill="#000"/><ellipse cx="31.8" cy="25" rx="8.2" ry="11" fill="#000"/><path d="M16.5,18 Q18,13.5 22,14.5 Q26,13.5 27,18 L26.5,26 Q24,29 21,27.5 Q17,25 16.5,18Z" fill="#8a8a8a"/><ellipse cx="22" cy="21.5" rx="1.2" ry="1.6" fill="#111"/><ellipse cx="22.3" cy="33.5" rx="3" ry="2.8" fill="#f0f0f0"/><path d="M19,37 L22.3,35 L26,37" stroke="#e0e0e0" stroke-width="1" fill="none"/><path d="M13,15 Q18,12 24,13" stroke="#e6e6e6" stroke-width="1.4" fill="none"/><path d="M3,35 L6,40 M41,33 L43,38" stroke="#f2f2f2" stroke-width="2"/><path d="M7,18 Q5,27 9,36 M41,18 Q43,27 40,36" stroke="#cfcfcf" stroke-width="0.8" fill="none"/>
</g>
<circle cx="411.80" cy="623.90" r="4.4" fill="#b9d4f2" stroke="#6c9bd7" stroke-width="0.9"/>
<text x="411.80" y="626.42" font-size="7" text-anchor="middle" fill="#111" color="#111" font-weight="normal" >S</text>
<g transform="translate(403.70,667.20) scale(1.0022,0.9913)">
<rect x="0" y="0" width="46" height="46" fill="#000"/>
<path d="M0.3,23 C0.3,11 10,4 23,4 C36,4 45.7,11 45.7,23 C45.7,35 38,43.5 23,43.5 C8,43.5 0.3,35 0.3,23Z" fill="#7c7c7c" stroke="#bdbdbd" stroke-width="1"/><path d="M4,24 C4,14 9,10 15,10.5 C19,11 21,13 21,20 L21,31 C19,35 16,37.5 12,37.5 C6,37 4,31 4,24Z" fill="#000"/><path d="M42,24 C42,14 37,10 31,10.5 C27,11 25,13 25,20 L25.5,31 C27,35 30,37.5 34,37.5 C40,37 42,31 42,24Z" fill="#000"/><path d="M16.5,15 Q23,11 29.5,15 Q31,24 27,29 Q23,31 19,28 Q15.5,22 16.5,15Z" fill="#828282"/><ellipse cx="23" cy="9.5" rx="2.6" ry="1.3" fill="#eee"/><path d="M5,35 Q14,42 23,37 Q32,42 41,35 L40,41 Q23,45 6,41Z" fill="#a8a8a8"/><ellipse cx="22.8" cy="32.2" rx="3.1" ry="3.6" fill="#ececec"/><path d="M18.5,37.5 L22.8,34.5 L27,37.5 L22.8,39.5Z" fill="#dcdcdc"/><path d="M2,43 Q23,41.3 44,43" stroke="#9a9a9a" stroke-width="0.9" fill="none"/><path d="M2,44.6 Q23,43 44,44.6" stroke="#6a6a6a" stroke-width="0.6" fill="none"/>
<ellipse cx="17.5" cy="16.5" rx="4.5" ry="4.2" fill="#d13232" opacity="0.9"/>
</g>
<circle cx="411.80" cy="675.10" r="4.4" fill="#b9d4f2" stroke="#6c9bd7" stroke-width="0.9"/>
<text x="411.80" y="677.62" font-size="7" text-anchor="middle" fill="#111" color="#111" font-weight="normal" >S</text>
<g transform="translate(451.10,616.00) scale(1.0022,0.9913)">
<rect x="0" y="0" width="46" height="46" fill="#000"/>
<path d="M0,18 Q4,14 10,13 Q23,8 36,13 Q44,15 46,20 L46,46 L0,46Z" fill="#8c8c8c"/><ellipse cx="14.8" cy="26.5" rx="7.3" ry="9.5" fill="#000"/><ellipse cx="31.8" cy="25" rx="8.2" ry="11" fill="#000"/><path d="M16.5,18 Q18,13.5 22,14.5 Q26,13.5 27,18 L26.5,26 Q24,29 21,27.5 Q17,25 16.5,18Z" fill="#8a8a8a"/><ellipse cx="22" cy="21.5" rx="1.2" ry="1.6" fill="#111"/><ellipse cx="22.3" cy="33.5" rx="3" ry="2.8" fill="#f0f0f0"/><path d="M19,37 L22.3,35 L26,37" stroke="#e0e0e0" stroke-width="1" fill="none"/><path d="M13,15 Q18,12 24,13" stroke="#e6e6e6" stroke-width="1.4" fill="none"/><path d="M3,35 L6,40 M41,33 L43,38" stroke="#f2f2f2" stroke-width="2"/><path d="M7,18 Q5,27 9,36 M41,18 Q43,27 40,36" stroke="#cfcfcf" stroke-width="0.8" fill="none"/>
<ellipse cx="19" cy="32" rx="1.9" ry="1.6" fill="#d13232" opacity="0.9"/>
</g>
<circle cx="459.20" cy="623.90" r="4.4" fill="#f3c3f1" stroke="#c568c9" stroke-width="0.9"/>
<text x="459.20" y="626.42" font-size="7" text-anchor="middle" fill="#111" color="#111" font-weight="normal" >R</text>
<g transform="translate(451.10,667.20) scale(1.0022,0.9913)">
<rect x="0" y="0" width="46" height="46" fill="#000"/>
<path d="M0.3,23 C0.3,11 10,4 23,4 C36,4 45.7,11 45.7,23 C45.7,35 38,43.5 23,43.5 C8,43.5 0.3,35 0.3,23Z" fill="#7c7c7c" stroke="#bdbdbd" stroke-width="1"/><path d="M4,24 C4,14 9,10 15,10.5 C19,11 21,13 21,20 L21,31 C19,35 16,37.5 12,37.5 C6,37 4,31 4,24Z" fill="#000"/><path d="M42,24 C42,14 37,10 31,10.5 C27,11 25,13 25,20 L25.5,31 C27,35 30,37.5 34,37.5 C40,37 42,31 42,24Z" fill="#000"/><path d="M16.5,15 Q23,11 29.5,15 Q31,24 27,29 Q23,31 19,28 Q15.5,22 16.5,15Z" fill="#828282"/><ellipse cx="23" cy="9.5" rx="2.6" ry="1.3" fill="#eee"/><path d="M5,35 Q14,42 23,37 Q32,42 41,35 L40,41 Q23,45 6,41Z" fill="#a8a8a8"/><ellipse cx="22.8" cy="32.2" rx="3.1" ry="3.6" fill="#ececec"/><path d="M18.5,37.5 L22.8,34.5 L27,37.5 L22.8,39.5Z" fill="#dcdcdc"/><path d="M2,43 Q23,41.3 44,43" stroke="#9a9a9a" stroke-width="0.9" fill="none"/><path d="M2,44.6 Q23,43 44,44.6" stroke="#6a6a6a" stroke-width="0.6" fill="none"/>
<ellipse cx="18.8" cy="15.8" rx="5.6" ry="5.2" fill="#d13232" opacity="0.9"/>
<ellipse cx="28" cy="16.5" rx="5.6" ry="5.5" fill="#d13232" opacity="0.9"/>
</g>
<circle cx="459.20" cy="675.10" r="4.4" fill="#f3c3f1" stroke="#c568c9" stroke-width="0.9"/>
<text x="459.20" y="677.62" font-size="7" text-anchor="middle" fill="#111" color="#111" font-weight="normal" >R</text>
<g transform="translate(498.60,616.00) scale(1.0022,0.9913)">
<rect x="0" y="0" width="46" height="46" fill="#000"/>
<path d="M0,18 Q4,14 10,13 Q23,8 36,13 Q44,15 46,20 L46,46 L0,46Z" fill="#8c8c8c"/><ellipse cx="14.8" cy="26.5" rx="7.3" ry="9.5" fill="#000"/><ellipse cx="31.8" cy="25" rx="8.2" ry="11" fill="#000"/><path d="M16.5,18 Q18,13.5 22,14.5 Q26,13.5 27,18 L26.5,26 Q24,29 21,27.5 Q17,25 16.5,18Z" fill="#8a8a8a"/><ellipse cx="22" cy="21.5" rx="1.2" ry="1.6" fill="#111"/><ellipse cx="22.3" cy="33.5" rx="3" ry="2.8" fill="#f0f0f0"/><path d="M19,37 L22.3,35 L26,37" stroke="#e0e0e0" stroke-width="1" fill="none"/><path d="M13,15 Q18,12 24,13" stroke="#e6e6e6" stroke-width="1.4" fill="none"/><path d="M3,35 L6,40 M41,33 L43,38" stroke="#f2f2f2" stroke-width="2"/><path d="M7,18 Q5,27 9,36 M41,18 Q43,27 40,36" stroke="#cfcfcf" stroke-width="0.8" fill="none"/>
<ellipse cx="19.5" cy="32" rx="1.9" ry="1.6" fill="#d13232" opacity="0.9"/>
</g>
<circle cx="506.70" cy="623.90" r="4.4" fill="#f6c5c4" stroke="#d86b6b" stroke-width="0.9"/>
<text x="506.70" y="626.42" font-size="7" text-anchor="middle" fill="#111" color="#111" font-weight="normal" >G</text>
<g transform="translate(498.60,667.20) scale(1.0022,0.9913)">
<rect x="0" y="0" width="46" height="46" fill="#000"/>
<path d="M0.3,23 C0.3,11 10,4 23,4 C36,4 45.7,11 45.7,23 C45.7,35 38,43.5 23,43.5 C8,43.5 0.3,35 0.3,23Z" fill="#7c7c7c" stroke="#bdbdbd" stroke-width="1"/><path d="M4,24 C4,14 9,10 15,10.5 C19,11 21,13 21,20 L21,31 C19,35 16,37.5 12,37.5 C6,37 4,31 4,24Z" fill="#000"/><path d="M42,24 C42,14 37,10 31,10.5 C27,11 25,13 25,20 L25.5,31 C27,35 30,37.5 34,37.5 C40,37 42,31 42,24Z" fill="#000"/><path d="M16.5,15 Q23,11 29.5,15 Q31,24 27,29 Q23,31 19,28 Q15.5,22 16.5,15Z" fill="#828282"/><ellipse cx="23" cy="9.5" rx="2.6" ry="1.3" fill="#eee"/><path d="M5,35 Q14,42 23,37 Q32,42 41,35 L40,41 Q23,45 6,41Z" fill="#a8a8a8"/><ellipse cx="22.8" cy="32.2" rx="3.1" ry="3.6" fill="#ececec"/><path d="M18.5,37.5 L22.8,34.5 L27,37.5 L22.8,39.5Z" fill="#dcdcdc"/><path d="M2,43 Q23,41.3 44,43" stroke="#9a9a9a" stroke-width="0.9" fill="none"/><path d="M2,44.6 Q23,43 44,44.6" stroke="#6a6a6a" stroke-width="0.6" fill="none"/>
<ellipse cx="18.8" cy="15.8" rx="5.6" ry="5.2" fill="#d13232" opacity="0.9"/>
<ellipse cx="28" cy="16.5" rx="5.6" ry="5.5" fill="#d13232" opacity="0.9"/>
</g>
<circle cx="506.70" cy="675.10" r="4.4" fill="#f6c5c4" stroke="#d86b6b" stroke-width="0.9"/>
<text x="506.70" y="677.62" font-size="7" text-anchor="middle" fill="#111" color="#111" font-weight="normal" >G</text>
<text x="558.40" y="642.00" font-size="7.5" text-anchor="middle" fill="#222" color="#222" font-weight="normal" >T6-test</text>
<text x="558.40" y="692.90" font-size="7.5" text-anchor="middle" fill="#222" color="#222" font-weight="normal" >T7-test</text>
<text x="608.60" y="643.60" font-size="7.5" text-anchor="middle" fill="#222" color="#222" font-weight="normal" >T8-test</text>
<g transform="translate(634.90,617.60) scale(1.0043,1.0000)">
<rect x="0" y="0" width="46" height="46" fill="#000"/>
<path d="M0.4,24 C0.4,12 10,6.5 23,6.5 C36,6.5 45,12 45,24 C45,33 44.5,39.5 42,41.8 L4,41.8 C1.5,39.5 0.4,33 0.4,24Z" fill="#7a7a7a" stroke="#b4b4b4" stroke-width="0.9"/><path d="M2.3,32 Q12,38.5 23,33 Q34,38.5 43,32 L43.5,38.5 L42,41.8 L4,41.8 L2.2,38.5Z" fill="#a4a4a4"/><path d="M2,24 C2,14 7,10 13,10 C19,10 21.5,12 21.5,18 L21.5,30 C20,34 17,37 12,37 C5,37 2,31 2,24Z" fill="#000"/><path d="M43.5,23 C43.5,13 38,9.5 32,9.5 C27,9.5 25,12 25.5,18 L26,29 C27.5,33 31,36 36,36 C41,36 43.5,30 43.5,23Z" fill="#000"/><ellipse cx="22.6" cy="18.2" rx="6" ry="7.6" fill="#7c7c7c"/><circle cx="26.4" cy="27.2" r="2.2" fill="#7c7c7c"/><ellipse cx="22.8" cy="32.2" rx="3.1" ry="3.6" fill="#ececec"/><path d="M18.5,37.5 L22.8,34.5 L27,37.5 L22.8,39.5Z" fill="#dcdcdc"/><path d="M2,43 Q23,41.3 44,43" stroke="#9a9a9a" stroke-width="0.9" fill="none"/><path d="M2,44.6 Q23,43 44,44.6" stroke="#6a6a6a" stroke-width="0.6" fill="none"/>
<ellipse cx="22" cy="12.8" rx="1.3" ry="1.1" fill="#d13232" opacity="0.9"/>
</g>
<circle cx="643.00" cy="625.50" r="4.4" fill="#b9d4f2" stroke="#6c9bd7" stroke-width="0.9"/>
<text x="643.00" y="628.02" font-size="7" text-anchor="middle" fill="#111" color="#111" font-weight="normal" >S</text>
<g transform="translate(586.30,666.10) scale(1.0152,0.9913)">
<rect x="0" y="0" width="46" height="46" fill="#000"/>
<path d="M0.4,24 C0.4,12 10,6.5 23,6.5 C36,6.5 45,12 45,24 C45,33 44.5,39.5 42,41.8 L4,41.8 C1.5,39.5 0.4,33 0.4,24Z" fill="#7a7a7a" stroke="#b4b4b4" stroke-width="0.9"/><path d="M2.3,32 Q12,38.5 23,33 Q34,38.5 43,32 L43.5,38.5 L42,41.8 L4,41.8 L2.2,38.5Z" fill="#a4a4a4"/><path d="M2,24 C2,14 7,10 13,10 C19,10 21.5,12 21.5,18 L21.5,30 C20,34 17,37 12,37 C5,37 2,31 2,24Z" fill="#000"/><path d="M43.5,23 C43.5,13 38,9.5 32,9.5 C27,9.5 25,12 25.5,18 L26,29 C27.5,33 31,36 36,36 C41,36 43.5,30 43.5,23Z" fill="#000"/><ellipse cx="22.6" cy="18.2" rx="6" ry="7.6" fill="#7c7c7c"/><circle cx="26.4" cy="27.2" r="2.2" fill="#7c7c7c"/><ellipse cx="22.8" cy="32.2" rx="3.1" ry="3.6" fill="#ececec"/><path d="M18.5,37.5 L22.8,34.5 L27,37.5 L22.8,39.5Z" fill="#dcdcdc"/><path d="M2,43 Q23,41.3 44,43" stroke="#9a9a9a" stroke-width="0.9" fill="none"/><path d="M2,44.6 Q23,43 44,44.6" stroke="#6a6a6a" stroke-width="0.6" fill="none"/>
<ellipse cx="22.5" cy="14.6" rx="4" ry="3.6" fill="#d13232" opacity="0.9"/>
</g>
<circle cx="594.40" cy="674.00" r="4.4" fill="#f3c3f1" stroke="#c568c9" stroke-width="0.9"/>
<text x="594.40" y="676.52" font-size="7" text-anchor="middle" fill="#111" color="#111" font-weight="normal" >R</text>
<g transform="translate(634.90,666.10) scale(1.0043,0.9913)">
<rect x="0" y="0" width="46" height="46" fill="#000"/>
<path d="M0.4,24 C0.4,12 10,6.5 23,6.5 C36,6.5 45,12 45,24 C45,33 44.5,39.5 42,41.8 L4,41.8 C1.5,39.5 0.4,33 0.4,24Z" fill="#7a7a7a" stroke="#b4b4b4" stroke-width="0.9"/><path d="M2.3,32 Q12,38.5 23,33 Q34,38.5 43,32 L43.5,38.5 L42,41.8 L4,41.8 L2.2,38.5Z" fill="#a4a4a4"/><path d="M2,24 C2,14 7,10 13,10 C19,10 21.5,12 21.5,18 L21.5,30 C20,34 17,37 12,37 C5,37 2,31 2,24Z" fill="#000"/><path d="M43.5,23 C43.5,13 38,9.5 32,9.5 C27,9.5 25,12 25.5,18 L26,29 C27.5,33 31,36 36,36 C41,36 43.5,30 43.5,23Z" fill="#000"/><ellipse cx="22.6" cy="18.2" rx="6" ry="7.6" fill="#7c7c7c"/><circle cx="26.4" cy="27.2" r="2.2" fill="#7c7c7c"/><ellipse cx="22.8" cy="32.2" rx="3.1" ry="3.6" fill="#ececec"/><path d="M18.5,37.5 L22.8,34.5 L27,37.5 L22.8,39.5Z" fill="#dcdcdc"/><path d="M2,43 Q23,41.3 44,43" stroke="#9a9a9a" stroke-width="0.9" fill="none"/><path d="M2,44.6 Q23,43 44,44.6" stroke="#6a6a6a" stroke-width="0.6" fill="none"/>
<ellipse cx="24" cy="14.6" rx="4" ry="3.6" fill="#d13232" opacity="0.9"/>
</g>
<circle cx="643.00" cy="674.00" r="4.4" fill="#f6c5c4" stroke="#d86b6b" stroke-width="0.9"/>
<text x="643.00" y="676.52" font-size="7" text-anchor="middle" fill="#111" color="#111" font-weight="normal" >G</text>
<text transform="translate(395.50,663.00) rotate(-90)" x="0" y="2.70" font-size="7.5" text-anchor="middle" fill="#222" color="#222">external test sets</text>
<circle cx="462.10" cy="722.30" r="4.4" fill="#b9d4f2" stroke="#6c9bd7" stroke-width="0.9"/>
<text x="462.10" y="724.82" font-size="7" text-anchor="middle" fill="#111" color="#111" font-weight="normal" >S</text>
<text x="471.90" y="725.00" font-size="7.5" text-anchor="start" fill="#222" color="#222" font-weight="normal" >sequential</text>
<circle cx="537.10" cy="722.60" r="4.4" fill="#f3c3f1" stroke="#c568c9" stroke-width="0.9"/>
<text x="537.10" y="725.12" font-size="7" text-anchor="middle" fill="#111" color="#111" font-weight="normal" >R</text>
<text x="546.00" y="725.30" font-size="7.5" text-anchor="start" fill="#222" color="#222" font-weight="normal" >Relay</text>
<circle cx="599.30" cy="722.60" r="4.4" fill="#f6c5c4" stroke="#d86b6b" stroke-width="0.9"/>
<text x="599.30" y="725.12" font-size="7" text-anchor="middle" fill="#111" color="#111" font-weight="normal" >G</text>
<text x="614.30" y="725.30" font-size="7.5" text-anchor="start" fill="#222" color="#222" font-weight="normal" >g.t.</text>
</svg></body></html>
